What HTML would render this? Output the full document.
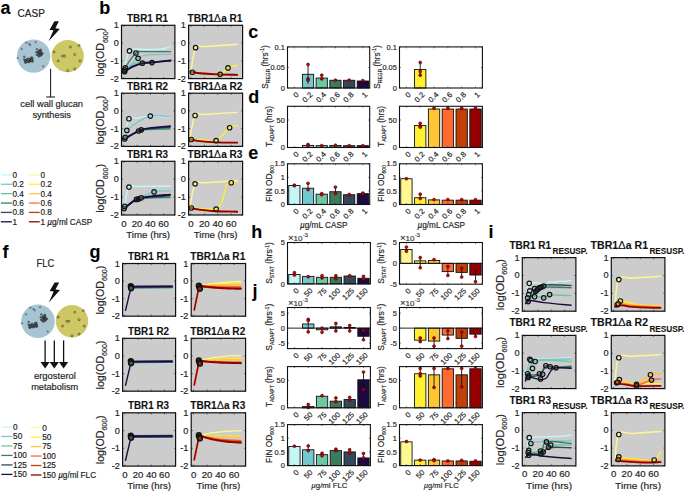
<!DOCTYPE html>
<html><head><meta charset="utf-8"><title>Figure</title>
<style>html,body{margin:0;padding:0;background:#fff;} body{width:685px;height:493px;overflow:hidden;font-family:"Liberation Sans", sans-serif;} svg{display:block;}</style>
</head><body>
<svg width="685" height="493" viewBox="0 0 685 493" font-family='"Liberation Sans", sans-serif' fill="#262626">
<style>text{stroke:#262626;stroke-width:0.18px;} text[font-weight=bold]{stroke-width:0.1px;}</style>
<rect x="121.50" y="25.30" width="53.40" height="53.30" fill="#cccccc" stroke="none" stroke-width="1"/>
<path d="M123.10,72.20 C124.26,68.37 127.11,55.01 129.51,50.88 C131.91,46.76 130.97,49.57 136.45,49.28 C141.93,49.00 153.80,49.76 159.95,49.28 C166.10,48.81 168.71,47.10 170.63,46.62" fill="none" stroke="#c4f6f6" stroke-width="1.38" stroke-linejoin="round" stroke-linecap="round"/>
<path d="M124.70,67.94 C126.72,65.25 132.65,55.94 135.92,53.02 C139.19,50.09 136.61,51.92 142.86,51.68 C149.11,51.44 165.63,51.68 170.63,51.68" fill="none" stroke="#3c7c5e" stroke-width="1.265" stroke-linejoin="round" stroke-linecap="round"/>
<path d="M124.70,70.61 C127.11,68.40 134.07,61.18 138.05,58.35 C142.04,55.52 141.00,55.60 146.87,54.88 C152.73,54.16 166.35,54.44 170.63,54.35" fill="none" stroke="#74c8d0" stroke-width="1.265" stroke-linejoin="round" stroke-linecap="round"/>
<path d="M124.70,71.14 C126.53,69.79 130.62,65.31 134.85,63.68 C139.08,62.05 141.76,62.56 148.20,62.08 C154.64,61.60 166.59,61.20 170.63,61.01" fill="none" stroke="#6cc8a0" stroke-width="1.265" stroke-linejoin="round" stroke-linecap="round"/>
<path d="M124.17,71.67 C125.61,70.81 128.91,68.41 132.18,66.87 C135.45,65.34 138.77,64.01 142.33,63.14 C145.88,62.28 146.84,62.51 151.94,62.08 C157.03,61.65 167.26,60.98 170.63,60.74" fill="none" stroke="#34485c" stroke-width="1.4949999999999999" stroke-linejoin="round" stroke-linecap="round"/>
<path d="M124.17,72.20 C125.61,71.24 128.91,68.46 132.18,66.87 C135.45,65.29 138.77,64.18 142.33,63.41 C145.88,62.64 146.84,63.14 151.94,62.61 C157.03,62.08 167.26,60.86 170.63,60.48" fill="none" stroke="#1e0a40" stroke-width="1.8399999999999999" stroke-linejoin="round" stroke-linecap="round"/>
<circle cx="125.24" cy="67.94" r="2.25" fill="#3c7c5e" fill-opacity="0.3"/>
<circle cx="125.24" cy="67.94" r="2.25" fill="none" stroke="#111" stroke-width="1.15"/>
<circle cx="124.70" cy="70.07" r="2.25" fill="#74c8d0" fill-opacity="0.3"/>
<circle cx="124.70" cy="70.07" r="2.25" fill="none" stroke="#111" stroke-width="1.15"/>
<circle cx="124.70" cy="71.67" r="2.25" fill="#1e0a40" fill-opacity="0.3"/>
<circle cx="124.70" cy="71.67" r="2.25" fill="none" stroke="#111" stroke-width="1.15"/>
<circle cx="129.51" cy="50.88" r="2.25" fill="#c4f6f6" fill-opacity="0.3"/>
<circle cx="129.51" cy="50.88" r="2.25" fill="none" stroke="#111" stroke-width="1.15"/>
<circle cx="135.92" cy="53.02" r="2.25" fill="#3c7c5e" fill-opacity="0.3"/>
<circle cx="135.92" cy="53.02" r="2.25" fill="none" stroke="#111" stroke-width="1.15"/>
<circle cx="138.05" cy="58.35" r="2.25" fill="#74c8d0" fill-opacity="0.3"/>
<circle cx="138.05" cy="58.35" r="2.25" fill="none" stroke="#111" stroke-width="1.15"/>
<circle cx="142.33" cy="63.14" r="2.25" fill="#34485c" fill-opacity="0.3"/>
<circle cx="142.33" cy="63.14" r="2.25" fill="none" stroke="#111" stroke-width="1.15"/>
<circle cx="151.94" cy="62.61" r="2.25" fill="#1e0a40" fill-opacity="0.3"/>
<circle cx="151.94" cy="62.61" r="2.25" fill="none" stroke="#111" stroke-width="1.15"/>
<line x1="121.50" y1="25.30" x2="123.10" y2="25.30" stroke="#222" stroke-width="0.6"/>
<line x1="173.30" y1="25.30" x2="174.90" y2="25.30" stroke="#222" stroke-width="0.6"/>
<line x1="121.50" y1="43.07" x2="123.10" y2="43.07" stroke="#222" stroke-width="0.6"/>
<line x1="173.30" y1="43.07" x2="174.90" y2="43.07" stroke="#222" stroke-width="0.6"/>
<line x1="121.50" y1="60.83" x2="123.10" y2="60.83" stroke="#222" stroke-width="0.6"/>
<line x1="173.30" y1="60.83" x2="174.90" y2="60.83" stroke="#222" stroke-width="0.6"/>
<line x1="121.50" y1="78.60" x2="123.10" y2="78.60" stroke="#222" stroke-width="0.6"/>
<line x1="173.30" y1="78.60" x2="174.90" y2="78.60" stroke="#222" stroke-width="0.6"/>
<line x1="123.82" y1="25.30" x2="123.82" y2="26.90" stroke="#222" stroke-width="0.6"/>
<line x1="123.82" y1="77.00" x2="123.82" y2="78.60" stroke="#222" stroke-width="0.6"/>
<line x1="137.09" y1="25.30" x2="137.09" y2="26.90" stroke="#222" stroke-width="0.6"/>
<line x1="137.09" y1="77.00" x2="137.09" y2="78.60" stroke="#222" stroke-width="0.6"/>
<line x1="150.36" y1="25.30" x2="150.36" y2="26.90" stroke="#222" stroke-width="0.6"/>
<line x1="150.36" y1="77.00" x2="150.36" y2="78.60" stroke="#222" stroke-width="0.6"/>
<line x1="163.62" y1="25.30" x2="163.62" y2="26.90" stroke="#222" stroke-width="0.6"/>
<line x1="163.62" y1="77.00" x2="163.62" y2="78.60" stroke="#222" stroke-width="0.6"/>
<rect x="121.50" y="25.30" width="53.40" height="53.30" fill="none" stroke="#111" stroke-width="1.2"/>
<text x="0" y="0" transform="translate(118.80,28.30) scale(1.1,1)" font-size="8.4" text-anchor="end">1</text>
<text x="0" y="0" transform="translate(118.80,46.07) scale(1.1,1)" font-size="8.4" text-anchor="end">0</text>
<text x="0" y="0" transform="translate(118.80,63.83) scale(1.1,1)" font-size="8.4" text-anchor="end">-1</text>
<text x="0" y="0" transform="translate(118.80,81.60) scale(1.1,1)" font-size="8.4" text-anchor="end">-2</text>
<text x="147.60" y="21.80" font-size="10.2" font-weight="bold" text-anchor="middle" fill="#111" textLength="41.0" lengthAdjust="spacingAndGlyphs">TBR1 R1</text>
<rect x="188.60" y="25.30" width="54.00" height="53.30" fill="#cccccc" stroke="none" stroke-width="1"/>
<path d="M190.76,73.27 C191.63,68.66 193.09,52.48 195.62,47.69 C198.15,42.89 197.32,47.24 204.80,46.62 C212.28,46.00 231.37,44.65 237.20,44.22" fill="none" stroke="#fff890" stroke-width="1.38" stroke-linejoin="round" stroke-linecap="round"/>
<path d="M192.38,72.20 C194.62,72.49 199.79,73.42 204.80,73.80 C209.81,74.19 216.01,75.39 220.19,74.34 C224.37,73.28 224.96,69.57 228.02,67.94 C231.08,66.31 235.55,65.75 237.20,65.27" fill="none" stroke="#fff030" stroke-width="1.38" stroke-linejoin="round" stroke-linecap="round"/>
<path d="M190.76,71.67 C192.32,71.91 194.93,72.57 199.40,73.00 C203.87,73.44 208.80,73.78 215.60,74.07 C222.40,74.36 233.31,74.51 237.20,74.60" fill="none" stroke="#ff6a30" stroke-width="1.38" stroke-linejoin="round" stroke-linecap="round"/>
<path d="M190.76,71.67 C192.32,71.96 194.93,72.79 199.40,73.27 C203.87,73.75 208.80,74.05 215.60,74.34 C222.40,74.62 233.31,74.77 237.20,74.87" fill="none" stroke="#940000" stroke-width="1.8399999999999999" stroke-linejoin="round" stroke-linecap="round"/>
<circle cx="192.38" cy="72.20" r="2.25" fill="#fff030" fill-opacity="0.3"/>
<circle cx="192.38" cy="72.20" r="2.25" fill="none" stroke="#111" stroke-width="1.15"/>
<circle cx="195.62" cy="47.69" r="2.25" fill="#fff890" fill-opacity="0.3"/>
<circle cx="195.62" cy="47.69" r="2.25" fill="none" stroke="#111" stroke-width="1.15"/>
<circle cx="220.19" cy="74.34" r="2.25" fill="#fff030" fill-opacity="0.3"/>
<circle cx="220.19" cy="74.34" r="2.25" fill="none" stroke="#111" stroke-width="1.15"/>
<circle cx="228.02" cy="67.94" r="2.25" fill="#fff030" fill-opacity="0.3"/>
<circle cx="228.02" cy="67.94" r="2.25" fill="none" stroke="#111" stroke-width="1.15"/>
<line x1="188.60" y1="25.30" x2="190.20" y2="25.30" stroke="#222" stroke-width="0.6"/>
<line x1="241.00" y1="25.30" x2="242.60" y2="25.30" stroke="#222" stroke-width="0.6"/>
<line x1="188.60" y1="43.07" x2="190.20" y2="43.07" stroke="#222" stroke-width="0.6"/>
<line x1="241.00" y1="43.07" x2="242.60" y2="43.07" stroke="#222" stroke-width="0.6"/>
<line x1="188.60" y1="60.83" x2="190.20" y2="60.83" stroke="#222" stroke-width="0.6"/>
<line x1="241.00" y1="60.83" x2="242.60" y2="60.83" stroke="#222" stroke-width="0.6"/>
<line x1="188.60" y1="78.60" x2="190.20" y2="78.60" stroke="#222" stroke-width="0.6"/>
<line x1="241.00" y1="78.60" x2="242.60" y2="78.60" stroke="#222" stroke-width="0.6"/>
<line x1="190.95" y1="25.30" x2="190.95" y2="26.90" stroke="#222" stroke-width="0.6"/>
<line x1="190.95" y1="77.00" x2="190.95" y2="78.60" stroke="#222" stroke-width="0.6"/>
<line x1="204.36" y1="25.30" x2="204.36" y2="26.90" stroke="#222" stroke-width="0.6"/>
<line x1="204.36" y1="77.00" x2="204.36" y2="78.60" stroke="#222" stroke-width="0.6"/>
<line x1="217.78" y1="25.30" x2="217.78" y2="26.90" stroke="#222" stroke-width="0.6"/>
<line x1="217.78" y1="77.00" x2="217.78" y2="78.60" stroke="#222" stroke-width="0.6"/>
<line x1="231.20" y1="25.30" x2="231.20" y2="26.90" stroke="#222" stroke-width="0.6"/>
<line x1="231.20" y1="77.00" x2="231.20" y2="78.60" stroke="#222" stroke-width="0.6"/>
<rect x="188.60" y="25.30" width="54.00" height="53.30" fill="none" stroke="#111" stroke-width="1.2"/>
<text x="0" y="0" transform="translate(185.90,28.30) scale(1.1,1)" font-size="8.4" text-anchor="end">1</text>
<text x="0" y="0" transform="translate(185.90,46.07) scale(1.1,1)" font-size="8.4" text-anchor="end">0</text>
<text x="0" y="0" transform="translate(185.90,63.83) scale(1.1,1)" font-size="8.4" text-anchor="end">-1</text>
<text x="0" y="0" transform="translate(185.90,81.60) scale(1.1,1)" font-size="8.4" text-anchor="end">-2</text>
<text x="215.00" y="21.80" font-size="10.2" font-weight="bold" text-anchor="middle" fill="#111" textLength="55.0" lengthAdjust="spacingAndGlyphs"><tspan>TBR1</tspan><tspan font-size="11" font-weight="normal">Δ</tspan><tspan>a R1</tspan></text>
<text x="0" y="0" transform="translate(104.40,52.25) rotate(-90)" font-size="10.6" text-anchor="middle"><tspan>log(OD</tspan><tspan font-size="7.0" dy="3.2">600</tspan><tspan dy="-3.2">)</tspan></text>
<rect x="121.50" y="93.20" width="53.40" height="53.20" fill="#cccccc" stroke="none" stroke-width="1"/>
<path d="M124.17,138.42 C125.04,134.88 126.77,122.37 128.98,118.74 C131.19,115.10 132.61,118.68 136.45,118.20 C140.30,117.73 144.28,116.27 150.34,116.08 C156.39,115.88 166.54,116.95 170.09,117.14" fill="none" stroke="#c4f6f6" stroke-width="1.38" stroke-linejoin="round" stroke-linecap="round"/>
<path d="M126.84,130.44 C128.57,129.10 132.22,125.58 136.45,122.99 C140.68,120.41 144.28,117.23 150.34,116.08 C156.39,114.93 166.54,116.51 170.09,116.61" fill="none" stroke="#74c8d0" stroke-width="1.265" stroke-linejoin="round" stroke-linecap="round"/>
<path d="M124.17,139.48 C126.77,138.05 134.26,133.23 138.59,131.50 C142.91,129.78 142.53,130.39 148.20,129.91 C153.87,129.43 166.15,129.04 170.09,128.84" fill="none" stroke="#6cc8a0" stroke-width="1.265" stroke-linejoin="round" stroke-linecap="round"/>
<path d="M124.17,139.48 C126.77,137.95 134.26,132.79 138.59,130.97 C142.91,129.15 142.53,129.76 148.20,129.38 C153.87,128.99 166.15,128.94 170.09,128.84" fill="none" stroke="#3c7c5e" stroke-width="1.38" stroke-linejoin="round" stroke-linecap="round"/>
<path d="M124.17,139.48 C126.77,137.95 134.26,132.89 138.59,130.97 C142.91,129.06 142.53,129.51 148.20,128.84 C153.87,128.17 166.15,127.54 170.09,127.25" fill="none" stroke="#34485c" stroke-width="1.38" stroke-linejoin="round" stroke-linecap="round"/>
<path d="M124.17,138.95 C126.77,137.52 134.26,132.89 138.59,130.97 C142.91,129.06 142.53,129.17 148.20,128.31 C153.87,127.45 166.15,126.57 170.09,126.18" fill="none" stroke="#1e0a40" stroke-width="1.8399999999999999" stroke-linejoin="round" stroke-linecap="round"/>
<circle cx="124.70" cy="138.95" r="2.25" fill="#3c7c5e" fill-opacity="0.3"/>
<circle cx="124.70" cy="138.95" r="2.25" fill="none" stroke="#111" stroke-width="1.15"/>
<circle cx="125.24" cy="137.36" r="2.25" fill="#c4f6f6" fill-opacity="0.3"/>
<circle cx="125.24" cy="137.36" r="2.25" fill="none" stroke="#111" stroke-width="1.15"/>
<circle cx="126.84" cy="130.44" r="2.25" fill="#74c8d0" fill-opacity="0.3"/>
<circle cx="126.84" cy="130.44" r="2.25" fill="none" stroke="#111" stroke-width="1.15"/>
<circle cx="128.98" cy="118.74" r="2.25" fill="#c4f6f6" fill-opacity="0.3"/>
<circle cx="128.98" cy="118.74" r="2.25" fill="none" stroke="#111" stroke-width="1.15"/>
<circle cx="138.59" cy="130.97" r="2.25" fill="#3c7c5e" fill-opacity="0.3"/>
<circle cx="138.59" cy="130.97" r="2.25" fill="none" stroke="#111" stroke-width="1.15"/>
<circle cx="141.26" cy="129.91" r="2.25" fill="#1e0a40" fill-opacity="0.3"/>
<circle cx="141.26" cy="129.91" r="2.25" fill="none" stroke="#111" stroke-width="1.15"/>
<circle cx="150.34" cy="116.08" r="2.25" fill="#c4f6f6" fill-opacity="0.3"/>
<circle cx="150.34" cy="116.08" r="2.25" fill="none" stroke="#111" stroke-width="1.15"/>
<line x1="121.50" y1="93.20" x2="123.10" y2="93.20" stroke="#222" stroke-width="0.6"/>
<line x1="173.30" y1="93.20" x2="174.90" y2="93.20" stroke="#222" stroke-width="0.6"/>
<line x1="121.50" y1="110.93" x2="123.10" y2="110.93" stroke="#222" stroke-width="0.6"/>
<line x1="173.30" y1="110.93" x2="174.90" y2="110.93" stroke="#222" stroke-width="0.6"/>
<line x1="121.50" y1="128.67" x2="123.10" y2="128.67" stroke="#222" stroke-width="0.6"/>
<line x1="173.30" y1="128.67" x2="174.90" y2="128.67" stroke="#222" stroke-width="0.6"/>
<line x1="121.50" y1="146.40" x2="123.10" y2="146.40" stroke="#222" stroke-width="0.6"/>
<line x1="173.30" y1="146.40" x2="174.90" y2="146.40" stroke="#222" stroke-width="0.6"/>
<line x1="123.82" y1="93.20" x2="123.82" y2="94.80" stroke="#222" stroke-width="0.6"/>
<line x1="123.82" y1="144.80" x2="123.82" y2="146.40" stroke="#222" stroke-width="0.6"/>
<line x1="137.09" y1="93.20" x2="137.09" y2="94.80" stroke="#222" stroke-width="0.6"/>
<line x1="137.09" y1="144.80" x2="137.09" y2="146.40" stroke="#222" stroke-width="0.6"/>
<line x1="150.36" y1="93.20" x2="150.36" y2="94.80" stroke="#222" stroke-width="0.6"/>
<line x1="150.36" y1="144.80" x2="150.36" y2="146.40" stroke="#222" stroke-width="0.6"/>
<line x1="163.62" y1="93.20" x2="163.62" y2="94.80" stroke="#222" stroke-width="0.6"/>
<line x1="163.62" y1="144.80" x2="163.62" y2="146.40" stroke="#222" stroke-width="0.6"/>
<rect x="121.50" y="93.20" width="53.40" height="53.20" fill="none" stroke="#111" stroke-width="1.2"/>
<text x="0" y="0" transform="translate(118.80,96.20) scale(1.1,1)" font-size="8.4" text-anchor="end">1</text>
<text x="0" y="0" transform="translate(118.80,113.93) scale(1.1,1)" font-size="8.4" text-anchor="end">0</text>
<text x="0" y="0" transform="translate(118.80,131.67) scale(1.1,1)" font-size="8.4" text-anchor="end">-1</text>
<text x="0" y="0" transform="translate(118.80,149.40) scale(1.1,1)" font-size="8.4" text-anchor="end">-2</text>
<text x="147.60" y="89.70" font-size="10.2" font-weight="bold" text-anchor="middle" fill="#111" textLength="41.0" lengthAdjust="spacingAndGlyphs">TBR1 R2</text>
<rect x="188.60" y="93.20" width="54.00" height="53.20" fill="#cccccc" stroke="none" stroke-width="1"/>
<path d="M189.68,140.02 C190.65,135.61 192.36,120.14 195.08,115.54 C197.80,110.95 197.22,115.05 204.80,114.48 C212.38,113.91 231.37,112.74 237.20,112.35" fill="none" stroke="#fff890" stroke-width="1.38" stroke-linejoin="round" stroke-linecap="round"/>
<path d="M191.30,139.48 C193.73,139.58 200.33,139.82 204.80,140.02 C209.27,140.21 211.67,142.75 216.14,140.55 C220.61,138.35 225.85,130.46 229.64,127.78 C233.43,125.10 235.84,126.04 237.20,125.65" fill="none" stroke="#fff030" stroke-width="1.38" stroke-linejoin="round" stroke-linecap="round"/>
<path d="M190.76,138.95 C192.32,139.34 194.93,140.51 199.40,141.08 C203.87,141.65 208.80,141.86 215.60,142.14 C222.40,142.43 233.31,142.58 237.20,142.68" fill="none" stroke="#ff6a30" stroke-width="1.38" stroke-linejoin="round" stroke-linecap="round"/>
<path d="M190.76,139.48 C192.32,139.77 194.93,140.55 199.40,141.08 C203.87,141.61 208.80,142.12 215.60,142.41 C222.40,142.70 233.31,142.63 237.20,142.68" fill="none" stroke="#940000" stroke-width="1.8399999999999999" stroke-linejoin="round" stroke-linecap="round"/>
<circle cx="191.30" cy="139.48" r="2.25" fill="#fff030" fill-opacity="0.3"/>
<circle cx="191.30" cy="139.48" r="2.25" fill="none" stroke="#111" stroke-width="1.15"/>
<circle cx="195.08" cy="115.54" r="2.25" fill="#fff890" fill-opacity="0.3"/>
<circle cx="195.08" cy="115.54" r="2.25" fill="none" stroke="#111" stroke-width="1.15"/>
<circle cx="216.14" cy="140.55" r="2.25" fill="#fff030" fill-opacity="0.3"/>
<circle cx="216.14" cy="140.55" r="2.25" fill="none" stroke="#111" stroke-width="1.15"/>
<circle cx="229.64" cy="127.78" r="2.25" fill="#fff030" fill-opacity="0.3"/>
<circle cx="229.64" cy="127.78" r="2.25" fill="none" stroke="#111" stroke-width="1.15"/>
<line x1="188.60" y1="93.20" x2="190.20" y2="93.20" stroke="#222" stroke-width="0.6"/>
<line x1="241.00" y1="93.20" x2="242.60" y2="93.20" stroke="#222" stroke-width="0.6"/>
<line x1="188.60" y1="110.93" x2="190.20" y2="110.93" stroke="#222" stroke-width="0.6"/>
<line x1="241.00" y1="110.93" x2="242.60" y2="110.93" stroke="#222" stroke-width="0.6"/>
<line x1="188.60" y1="128.67" x2="190.20" y2="128.67" stroke="#222" stroke-width="0.6"/>
<line x1="241.00" y1="128.67" x2="242.60" y2="128.67" stroke="#222" stroke-width="0.6"/>
<line x1="188.60" y1="146.40" x2="190.20" y2="146.40" stroke="#222" stroke-width="0.6"/>
<line x1="241.00" y1="146.40" x2="242.60" y2="146.40" stroke="#222" stroke-width="0.6"/>
<line x1="190.95" y1="93.20" x2="190.95" y2="94.80" stroke="#222" stroke-width="0.6"/>
<line x1="190.95" y1="144.80" x2="190.95" y2="146.40" stroke="#222" stroke-width="0.6"/>
<line x1="204.36" y1="93.20" x2="204.36" y2="94.80" stroke="#222" stroke-width="0.6"/>
<line x1="204.36" y1="144.80" x2="204.36" y2="146.40" stroke="#222" stroke-width="0.6"/>
<line x1="217.78" y1="93.20" x2="217.78" y2="94.80" stroke="#222" stroke-width="0.6"/>
<line x1="217.78" y1="144.80" x2="217.78" y2="146.40" stroke="#222" stroke-width="0.6"/>
<line x1="231.20" y1="93.20" x2="231.20" y2="94.80" stroke="#222" stroke-width="0.6"/>
<line x1="231.20" y1="144.80" x2="231.20" y2="146.40" stroke="#222" stroke-width="0.6"/>
<rect x="188.60" y="93.20" width="54.00" height="53.20" fill="none" stroke="#111" stroke-width="1.2"/>
<text x="0" y="0" transform="translate(185.90,96.20) scale(1.1,1)" font-size="8.4" text-anchor="end">1</text>
<text x="0" y="0" transform="translate(185.90,113.93) scale(1.1,1)" font-size="8.4" text-anchor="end">0</text>
<text x="0" y="0" transform="translate(185.90,131.67) scale(1.1,1)" font-size="8.4" text-anchor="end">-1</text>
<text x="0" y="0" transform="translate(185.90,149.40) scale(1.1,1)" font-size="8.4" text-anchor="end">-2</text>
<text x="215.00" y="89.70" font-size="10.2" font-weight="bold" text-anchor="middle" fill="#111" textLength="55.0" lengthAdjust="spacingAndGlyphs"><tspan>TBR1</tspan><tspan font-size="11" font-weight="normal">Δ</tspan><tspan>a R2</tspan></text>
<text x="0" y="0" transform="translate(104.40,120.10) rotate(-90)" font-size="10.6" text-anchor="middle"><tspan>log(OD</tspan><tspan font-size="7.0" dy="3.2">600</tspan><tspan dy="-3.2">)</tspan></text>
<rect x="121.50" y="161.30" width="53.40" height="53.70" fill="#cccccc" stroke="none" stroke-width="1"/>
<path d="M124.70,205.33 C125.47,202.05 126.67,190.46 128.98,187.08 C131.28,183.69 130.12,186.73 137.52,186.54 C144.92,186.35 164.23,186.10 170.09,186.00" fill="none" stroke="#c4f6f6" stroke-width="1.38" stroke-linejoin="round" stroke-linecap="round"/>
<path d="M124.70,206.41 C127.01,205.05 132.23,201.50 137.52,198.89 C142.81,196.28 148.21,193.36 154.07,191.91 C159.94,190.46 167.21,191.03 170.09,190.84" fill="none" stroke="#74c8d0" stroke-width="1.265" stroke-linejoin="round" stroke-linecap="round"/>
<path d="M124.17,208.56 C126.38,207.01 132.13,201.80 136.45,199.96 C140.78,198.13 142.14,198.74 148.20,198.35 C154.26,197.97 166.15,197.91 170.09,197.82" fill="none" stroke="#6cc8a0" stroke-width="1.265" stroke-linejoin="round" stroke-linecap="round"/>
<path d="M124.17,208.56 C126.38,207.01 132.13,201.90 136.45,199.96 C140.78,198.03 142.14,198.30 148.20,197.82 C154.26,197.33 166.15,197.38 170.09,197.28" fill="none" stroke="#3c7c5e" stroke-width="1.38" stroke-linejoin="round" stroke-linecap="round"/>
<path d="M124.17,208.56 C126.38,206.91 132.13,201.46 136.45,199.43 C140.78,197.40 142.14,197.96 148.20,197.28 C154.26,196.60 166.15,195.96 170.09,195.67" fill="none" stroke="#34485c" stroke-width="1.38" stroke-linejoin="round" stroke-linecap="round"/>
<path d="M124.17,208.56 C126.38,206.91 132.13,201.55 136.45,199.43 C140.78,197.30 142.14,197.61 148.20,196.74 C154.26,195.87 166.15,194.98 170.09,194.59" fill="none" stroke="#1e0a40" stroke-width="1.8399999999999999" stroke-linejoin="round" stroke-linecap="round"/>
<circle cx="124.17" cy="208.56" r="2.25" fill="#6cc8a0" fill-opacity="0.3"/>
<circle cx="124.17" cy="208.56" r="2.25" fill="none" stroke="#111" stroke-width="1.15"/>
<circle cx="124.70" cy="206.41" r="2.25" fill="#74c8d0" fill-opacity="0.3"/>
<circle cx="124.70" cy="206.41" r="2.25" fill="none" stroke="#111" stroke-width="1.15"/>
<circle cx="136.45" cy="199.43" r="2.25" fill="#34485c" fill-opacity="0.3"/>
<circle cx="136.45" cy="199.43" r="2.25" fill="none" stroke="#111" stroke-width="1.15"/>
<circle cx="138.59" cy="198.89" r="2.25" fill="#1e0a40" fill-opacity="0.3"/>
<circle cx="138.59" cy="198.89" r="2.25" fill="none" stroke="#111" stroke-width="1.15"/>
<circle cx="141.26" cy="197.82" r="2.25" fill="#74c8d0" fill-opacity="0.3"/>
<circle cx="141.26" cy="197.82" r="2.25" fill="none" stroke="#111" stroke-width="1.15"/>
<circle cx="128.98" cy="187.08" r="2.25" fill="#c4f6f6" fill-opacity="0.3"/>
<circle cx="128.98" cy="187.08" r="2.25" fill="none" stroke="#111" stroke-width="1.15"/>
<circle cx="154.07" cy="191.91" r="2.25" fill="#74c8d0" fill-opacity="0.3"/>
<circle cx="154.07" cy="191.91" r="2.25" fill="none" stroke="#111" stroke-width="1.15"/>
<line x1="121.50" y1="161.30" x2="123.10" y2="161.30" stroke="#222" stroke-width="0.6"/>
<line x1="173.30" y1="161.30" x2="174.90" y2="161.30" stroke="#222" stroke-width="0.6"/>
<line x1="121.50" y1="179.20" x2="123.10" y2="179.20" stroke="#222" stroke-width="0.6"/>
<line x1="173.30" y1="179.20" x2="174.90" y2="179.20" stroke="#222" stroke-width="0.6"/>
<line x1="121.50" y1="197.10" x2="123.10" y2="197.10" stroke="#222" stroke-width="0.6"/>
<line x1="173.30" y1="197.10" x2="174.90" y2="197.10" stroke="#222" stroke-width="0.6"/>
<line x1="121.50" y1="215.00" x2="123.10" y2="215.00" stroke="#222" stroke-width="0.6"/>
<line x1="173.30" y1="215.00" x2="174.90" y2="215.00" stroke="#222" stroke-width="0.6"/>
<line x1="123.82" y1="161.30" x2="123.82" y2="162.90" stroke="#222" stroke-width="0.6"/>
<line x1="123.82" y1="213.40" x2="123.82" y2="215.00" stroke="#222" stroke-width="0.6"/>
<line x1="137.09" y1="161.30" x2="137.09" y2="162.90" stroke="#222" stroke-width="0.6"/>
<line x1="137.09" y1="213.40" x2="137.09" y2="215.00" stroke="#222" stroke-width="0.6"/>
<line x1="150.36" y1="161.30" x2="150.36" y2="162.90" stroke="#222" stroke-width="0.6"/>
<line x1="150.36" y1="213.40" x2="150.36" y2="215.00" stroke="#222" stroke-width="0.6"/>
<line x1="163.62" y1="161.30" x2="163.62" y2="162.90" stroke="#222" stroke-width="0.6"/>
<line x1="163.62" y1="213.40" x2="163.62" y2="215.00" stroke="#222" stroke-width="0.6"/>
<rect x="121.50" y="161.30" width="53.40" height="53.70" fill="none" stroke="#111" stroke-width="1.2"/>
<text x="0" y="0" transform="translate(118.80,164.30) scale(1.1,1)" font-size="8.4" text-anchor="end">1</text>
<text x="0" y="0" transform="translate(118.80,182.20) scale(1.1,1)" font-size="8.4" text-anchor="end">0</text>
<text x="0" y="0" transform="translate(118.80,200.10) scale(1.1,1)" font-size="8.4" text-anchor="end">-1</text>
<text x="0" y="0" transform="translate(118.80,218.00) scale(1.1,1)" font-size="8.4" text-anchor="end">-2</text>
<text x="0" y="0" transform="translate(123.82,226.60) scale(1.16,1)" font-size="8.3" text-anchor="middle">0</text>
<text x="0" y="0" transform="translate(137.09,226.60) scale(1.16,1)" font-size="8.3" text-anchor="middle">20</text>
<text x="0" y="0" transform="translate(150.36,226.60) scale(1.16,1)" font-size="8.3" text-anchor="middle">40</text>
<text x="0" y="0" transform="translate(163.62,226.60) scale(1.16,1)" font-size="8.3" text-anchor="middle">60</text>
<text x="148.20" y="237.80" font-size="9.4" text-anchor="middle" textLength="43.8" lengthAdjust="spacingAndGlyphs">Time (hrs)</text>
<text x="147.60" y="157.80" font-size="10.2" font-weight="bold" text-anchor="middle" fill="#111" textLength="41.0" lengthAdjust="spacingAndGlyphs">TBR1 R3</text>
<rect x="188.60" y="161.30" width="54.00" height="53.70" fill="#cccccc" stroke="none" stroke-width="1"/>
<path d="M189.68,209.09 C190.65,204.55 192.36,188.59 195.08,183.85 C197.80,179.12 197.22,183.36 204.80,182.78 C212.38,182.20 231.37,181.02 237.20,180.63" fill="none" stroke="#fff890" stroke-width="1.38" stroke-linejoin="round" stroke-linecap="round"/>
<path d="M191.30,208.02 C193.73,208.12 200.33,208.36 204.80,208.56 C209.27,208.75 213.03,210.35 216.14,209.09 C219.25,207.84 220.23,205.83 222.08,201.57 C223.93,197.32 224.75,188.85 226.40,185.47 C228.05,182.08 229.32,183.46 231.26,182.78 C233.20,182.10 236.13,181.90 237.20,181.71" fill="none" stroke="#fff030" stroke-width="1.38" stroke-linejoin="round" stroke-linecap="round"/>
<path d="M190.76,207.48 C192.32,207.87 194.93,209.00 199.40,209.63 C203.87,210.26 208.80,210.63 215.60,210.97 C222.40,211.31 233.31,211.41 237.20,211.51" fill="none" stroke="#ff6a30" stroke-width="1.38" stroke-linejoin="round" stroke-linecap="round"/>
<path d="M190.76,208.02 C192.32,208.31 194.93,209.05 199.40,209.63 C203.87,210.21 208.80,210.85 215.60,211.24 C222.40,211.63 233.31,211.68 237.20,211.78" fill="none" stroke="#940000" stroke-width="1.8399999999999999" stroke-linejoin="round" stroke-linecap="round"/>
<circle cx="191.30" cy="208.02" r="2.25" fill="#fff030" fill-opacity="0.3"/>
<circle cx="191.30" cy="208.02" r="2.25" fill="none" stroke="#111" stroke-width="1.15"/>
<circle cx="195.08" cy="183.85" r="2.25" fill="#fff890" fill-opacity="0.3"/>
<circle cx="195.08" cy="183.85" r="2.25" fill="none" stroke="#111" stroke-width="1.15"/>
<circle cx="216.14" cy="209.09" r="2.25" fill="#fff030" fill-opacity="0.3"/>
<circle cx="216.14" cy="209.09" r="2.25" fill="none" stroke="#111" stroke-width="1.15"/>
<circle cx="231.26" cy="182.78" r="2.25" fill="#fff030" fill-opacity="0.3"/>
<circle cx="231.26" cy="182.78" r="2.25" fill="none" stroke="#111" stroke-width="1.15"/>
<line x1="188.60" y1="161.30" x2="190.20" y2="161.30" stroke="#222" stroke-width="0.6"/>
<line x1="241.00" y1="161.30" x2="242.60" y2="161.30" stroke="#222" stroke-width="0.6"/>
<line x1="188.60" y1="179.20" x2="190.20" y2="179.20" stroke="#222" stroke-width="0.6"/>
<line x1="241.00" y1="179.20" x2="242.60" y2="179.20" stroke="#222" stroke-width="0.6"/>
<line x1="188.60" y1="197.10" x2="190.20" y2="197.10" stroke="#222" stroke-width="0.6"/>
<line x1="241.00" y1="197.10" x2="242.60" y2="197.10" stroke="#222" stroke-width="0.6"/>
<line x1="188.60" y1="215.00" x2="190.20" y2="215.00" stroke="#222" stroke-width="0.6"/>
<line x1="241.00" y1="215.00" x2="242.60" y2="215.00" stroke="#222" stroke-width="0.6"/>
<line x1="190.95" y1="161.30" x2="190.95" y2="162.90" stroke="#222" stroke-width="0.6"/>
<line x1="190.95" y1="213.40" x2="190.95" y2="215.00" stroke="#222" stroke-width="0.6"/>
<line x1="204.36" y1="161.30" x2="204.36" y2="162.90" stroke="#222" stroke-width="0.6"/>
<line x1="204.36" y1="213.40" x2="204.36" y2="215.00" stroke="#222" stroke-width="0.6"/>
<line x1="217.78" y1="161.30" x2="217.78" y2="162.90" stroke="#222" stroke-width="0.6"/>
<line x1="217.78" y1="213.40" x2="217.78" y2="215.00" stroke="#222" stroke-width="0.6"/>
<line x1="231.20" y1="161.30" x2="231.20" y2="162.90" stroke="#222" stroke-width="0.6"/>
<line x1="231.20" y1="213.40" x2="231.20" y2="215.00" stroke="#222" stroke-width="0.6"/>
<rect x="188.60" y="161.30" width="54.00" height="53.70" fill="none" stroke="#111" stroke-width="1.2"/>
<text x="0" y="0" transform="translate(185.90,164.30) scale(1.1,1)" font-size="8.4" text-anchor="end">1</text>
<text x="0" y="0" transform="translate(185.90,182.20) scale(1.1,1)" font-size="8.4" text-anchor="end">0</text>
<text x="0" y="0" transform="translate(185.90,200.10) scale(1.1,1)" font-size="8.4" text-anchor="end">-1</text>
<text x="0" y="0" transform="translate(185.90,218.00) scale(1.1,1)" font-size="8.4" text-anchor="end">-2</text>
<text x="0" y="0" transform="translate(190.95,226.60) scale(1.16,1)" font-size="8.3" text-anchor="middle">0</text>
<text x="0" y="0" transform="translate(204.36,226.60) scale(1.16,1)" font-size="8.3" text-anchor="middle">20</text>
<text x="0" y="0" transform="translate(217.78,226.60) scale(1.16,1)" font-size="8.3" text-anchor="middle">40</text>
<text x="0" y="0" transform="translate(231.20,226.60) scale(1.16,1)" font-size="8.3" text-anchor="middle">60</text>
<text x="215.60" y="237.80" font-size="9.4" text-anchor="middle" textLength="43.8" lengthAdjust="spacingAndGlyphs">Time (hrs)</text>
<text x="215.00" y="157.80" font-size="10.2" font-weight="bold" text-anchor="middle" fill="#111" textLength="55.0" lengthAdjust="spacingAndGlyphs"><tspan>TBR1</tspan><tspan font-size="11" font-weight="normal">Δ</tspan><tspan>a R3</tspan></text>
<text x="0" y="0" transform="translate(104.40,188.45) rotate(-90)" font-size="10.6" text-anchor="middle"><tspan>log(OD</tspan><tspan font-size="7.0" dy="3.2">600</tspan><tspan dy="-3.2">)</tspan></text>
<rect x="122.60" y="263.50" width="53.00" height="52.70" fill="#cccccc" stroke="none" stroke-width="1"/>
<polyline points="125.52,310.40 131.08,287.21" fill="none" stroke="#1e0a40" stroke-width="1.38" stroke-linejoin="round" stroke-linecap="round"/>
<polyline points="131.08,288.27 171.89,288.01" fill="none" stroke="#c4f6f6" stroke-width="1.38" stroke-linejoin="round" stroke-linecap="round"/>
<polyline points="131.08,287.74 171.89,287.48" fill="none" stroke="#74c8d0" stroke-width="1.38" stroke-linejoin="round" stroke-linecap="round"/>
<polyline points="131.08,287.21 171.89,286.95" fill="none" stroke="#3c7c5e" stroke-width="1.6099999999999999" stroke-linejoin="round" stroke-linecap="round"/>
<polyline points="131.08,286.95 171.89,286.69" fill="none" stroke="#34485c" stroke-width="2.875" stroke-linejoin="round" stroke-linecap="round"/>
<polyline points="131.08,286.69 171.89,286.42" fill="none" stroke="#1e0a40" stroke-width="1.38" stroke-linejoin="round" stroke-linecap="round"/>
<circle cx="131.08" cy="287.21" r="2.40" fill="#1e0a40" fill-opacity="0.3"/>
<circle cx="131.08" cy="287.21" r="2.40" fill="none" stroke="#111" stroke-width="1.5"/>
<circle cx="130.81" cy="286.16" r="2.40" fill="#1e0a40" fill-opacity="0.3"/>
<circle cx="130.81" cy="286.16" r="2.40" fill="none" stroke="#111" stroke-width="1.5"/>
<circle cx="131.08" cy="288.27" r="2.40" fill="#c4f6f6" fill-opacity="0.3"/>
<circle cx="131.08" cy="288.27" r="2.40" fill="none" stroke="#111" stroke-width="1.5"/>
<line x1="122.60" y1="263.50" x2="124.20" y2="263.50" stroke="#222" stroke-width="0.6"/>
<line x1="174.00" y1="263.50" x2="175.60" y2="263.50" stroke="#222" stroke-width="0.6"/>
<line x1="122.60" y1="281.07" x2="124.20" y2="281.07" stroke="#222" stroke-width="0.6"/>
<line x1="174.00" y1="281.07" x2="175.60" y2="281.07" stroke="#222" stroke-width="0.6"/>
<line x1="122.60" y1="298.63" x2="124.20" y2="298.63" stroke="#222" stroke-width="0.6"/>
<line x1="174.00" y1="298.63" x2="175.60" y2="298.63" stroke="#222" stroke-width="0.6"/>
<line x1="122.60" y1="316.20" x2="124.20" y2="316.20" stroke="#222" stroke-width="0.6"/>
<line x1="174.00" y1="316.20" x2="175.60" y2="316.20" stroke="#222" stroke-width="0.6"/>
<line x1="124.90" y1="263.50" x2="124.90" y2="265.10" stroke="#222" stroke-width="0.6"/>
<line x1="124.90" y1="314.60" x2="124.90" y2="316.20" stroke="#222" stroke-width="0.6"/>
<line x1="138.07" y1="263.50" x2="138.07" y2="265.10" stroke="#222" stroke-width="0.6"/>
<line x1="138.07" y1="314.60" x2="138.07" y2="316.20" stroke="#222" stroke-width="0.6"/>
<line x1="151.24" y1="263.50" x2="151.24" y2="265.10" stroke="#222" stroke-width="0.6"/>
<line x1="151.24" y1="314.60" x2="151.24" y2="316.20" stroke="#222" stroke-width="0.6"/>
<line x1="164.41" y1="263.50" x2="164.41" y2="265.10" stroke="#222" stroke-width="0.6"/>
<line x1="164.41" y1="314.60" x2="164.41" y2="316.20" stroke="#222" stroke-width="0.6"/>
<rect x="122.60" y="263.50" width="53.00" height="52.70" fill="none" stroke="#111" stroke-width="1.2"/>
<text x="0" y="0" transform="translate(119.90,266.50) scale(1.1,1)" font-size="8.4" text-anchor="end">1</text>
<text x="0" y="0" transform="translate(119.90,284.07) scale(1.1,1)" font-size="8.4" text-anchor="end">0</text>
<text x="0" y="0" transform="translate(119.90,301.63) scale(1.1,1)" font-size="8.4" text-anchor="end">-1</text>
<text x="0" y="0" transform="translate(119.90,319.20) scale(1.1,1)" font-size="8.4" text-anchor="end">-2</text>
<text x="148.50" y="260.00" font-size="10.2" font-weight="bold" text-anchor="middle" fill="#111" textLength="41.0" lengthAdjust="spacingAndGlyphs">TBR1 R1</text>
<rect x="191.20" y="263.50" width="54.40" height="52.70" fill="#cccccc" stroke="none" stroke-width="1"/>
<polyline points="194.46,310.40 199.36,286.69" fill="none" stroke="#ff6a30" stroke-width="1.4949999999999999" stroke-linejoin="round" stroke-linecap="round"/>
<polyline points="194.19,309.88 199.09,286.16" fill="none" stroke="#940000" stroke-width="1.4949999999999999" stroke-linejoin="round" stroke-linecap="round"/>
<path d="M199.90,285.90 C200.52,285.75 202.09,285.33 203.31,285.05 C204.54,284.78 205.49,284.58 206.72,284.35 C207.95,284.12 208.90,283.96 210.13,283.77 C211.36,283.57 212.31,283.44 213.54,283.28 C214.77,283.12 215.72,283.01 216.95,282.87 C218.18,282.74 219.13,282.65 220.36,282.54 C221.59,282.43 222.54,282.35 223.77,282.26 C224.99,282.16 225.95,282.10 227.18,282.02 C228.40,281.94 229.36,281.89 230.59,281.83 C231.81,281.76 232.77,281.72 233.99,281.67 C235.22,281.61 236.18,281.57 237.40,281.53 C238.63,281.49 240.20,281.44 240.81,281.42" fill="none" stroke="#fff890" stroke-width="1.265" stroke-linejoin="round" stroke-linecap="round"/>
<path d="M199.90,285.90 C200.52,285.80 202.09,285.53 203.31,285.35 C204.54,285.17 205.49,285.05 206.72,284.90 C207.95,284.75 208.90,284.64 210.13,284.52 C211.36,284.39 212.31,284.31 213.54,284.20 C214.77,284.10 215.72,284.03 216.95,283.94 C218.18,283.85 219.13,283.79 220.36,283.72 C221.59,283.65 222.54,283.60 223.77,283.54 C224.99,283.48 225.95,283.44 227.18,283.39 C228.40,283.34 229.36,283.31 230.59,283.26 C231.81,283.22 232.77,283.19 233.99,283.16 C235.22,283.12 236.18,283.10 237.40,283.07 C238.63,283.04 240.20,283.01 240.81,283.00" fill="none" stroke="#fff030" stroke-width="1.265" stroke-linejoin="round" stroke-linecap="round"/>
<path d="M199.90,285.90 C200.52,285.85 202.09,285.73 203.31,285.65 C204.54,285.57 205.49,285.51 206.72,285.44 C207.95,285.37 208.90,285.33 210.13,285.27 C211.36,285.21 212.31,285.17 213.54,285.13 C214.77,285.08 215.72,285.05 216.95,285.01 C218.18,284.97 219.13,284.94 220.36,284.91 C221.59,284.88 222.54,284.85 223.77,284.83 C224.99,284.80 225.95,284.78 227.18,284.76 C228.40,284.73 229.36,284.72 230.59,284.70 C231.81,284.68 232.77,284.67 233.99,284.65 C235.22,284.64 236.18,284.63 237.40,284.61 C238.63,284.60 240.20,284.59 240.81,284.58" fill="none" stroke="#ffc634" stroke-width="1.265" stroke-linejoin="round" stroke-linecap="round"/>
<path d="M199.90,285.90 C200.52,285.92 202.09,286.00 203.31,286.05 C204.54,286.10 205.49,286.13 206.72,286.17 C207.95,286.21 208.90,286.24 210.13,286.27 C211.36,286.31 212.31,286.33 213.54,286.36 C214.77,286.39 215.72,286.41 216.95,286.43 C218.18,286.45 219.13,286.47 220.36,286.49 C221.59,286.51 222.54,286.52 223.77,286.54 C224.99,286.56 225.95,286.57 227.18,286.58 C228.40,286.60 229.36,286.60 230.59,286.62 C231.81,286.63 232.77,286.63 233.99,286.64 C235.22,286.65 236.18,286.66 237.40,286.67 C238.63,286.68 240.20,286.68 240.81,286.69" fill="none" stroke="#ff6a30" stroke-width="1.4949999999999999" stroke-linejoin="round" stroke-linecap="round"/>
<path d="M199.90,285.90 C200.52,285.98 202.09,286.20 203.31,286.34 C204.54,286.49 205.49,286.59 206.72,286.72 C207.95,286.84 208.90,286.92 210.13,287.03 C211.36,287.13 212.31,287.20 213.54,287.28 C214.77,287.37 215.72,287.43 216.95,287.50 C218.18,287.57 219.13,287.62 220.36,287.68 C221.59,287.74 222.54,287.78 223.77,287.83 C224.99,287.87 225.95,287.91 227.18,287.95 C228.40,287.99 229.36,288.02 230.59,288.05 C231.81,288.09 232.77,288.11 233.99,288.14 C235.22,288.17 236.18,288.19 237.40,288.21 C238.63,288.23 240.20,288.26 240.81,288.27" fill="none" stroke="#c04008" stroke-width="1.7249999999999999" stroke-linejoin="round" stroke-linecap="round"/>
<path d="M199.90,285.90 C200.52,286.00 202.09,286.26 203.31,286.44 C204.54,286.62 205.49,286.75 206.72,286.90 C207.95,287.05 208.90,287.15 210.13,287.28 C211.36,287.40 212.31,287.49 213.54,287.59 C214.77,287.70 215.72,287.77 216.95,287.85 C218.18,287.94 219.13,288.00 220.36,288.07 C221.59,288.14 222.54,288.19 223.77,288.25 C224.99,288.31 225.95,288.36 227.18,288.41 C228.40,288.46 229.36,288.49 230.59,288.53 C231.81,288.57 232.77,288.60 233.99,288.64 C235.22,288.67 236.18,288.69 237.40,288.72 C238.63,288.75 240.20,288.78 240.81,288.80" fill="none" stroke="#940000" stroke-width="1.9549999999999998" stroke-linejoin="round" stroke-linecap="round"/>
<circle cx="198.82" cy="285.63" r="2.40" fill="#940000" fill-opacity="0.3"/>
<circle cx="198.82" cy="285.63" r="2.40" fill="none" stroke="#111" stroke-width="1.5"/>
<circle cx="199.36" cy="287.21" r="2.40" fill="#ff6a30" fill-opacity="0.3"/>
<circle cx="199.36" cy="287.21" r="2.40" fill="none" stroke="#111" stroke-width="1.5"/>
<circle cx="199.90" cy="288.80" r="2.40" fill="#ff6a30" fill-opacity="0.3"/>
<circle cx="199.90" cy="288.80" r="2.40" fill="none" stroke="#111" stroke-width="1.5"/>
<line x1="191.20" y1="263.50" x2="192.80" y2="263.50" stroke="#222" stroke-width="0.6"/>
<line x1="244.00" y1="263.50" x2="245.60" y2="263.50" stroke="#222" stroke-width="0.6"/>
<line x1="191.20" y1="281.07" x2="192.80" y2="281.07" stroke="#222" stroke-width="0.6"/>
<line x1="244.00" y1="281.07" x2="245.60" y2="281.07" stroke="#222" stroke-width="0.6"/>
<line x1="191.20" y1="298.63" x2="192.80" y2="298.63" stroke="#222" stroke-width="0.6"/>
<line x1="244.00" y1="298.63" x2="245.60" y2="298.63" stroke="#222" stroke-width="0.6"/>
<line x1="191.20" y1="316.20" x2="192.80" y2="316.20" stroke="#222" stroke-width="0.6"/>
<line x1="244.00" y1="316.20" x2="245.60" y2="316.20" stroke="#222" stroke-width="0.6"/>
<line x1="193.57" y1="263.50" x2="193.57" y2="265.10" stroke="#222" stroke-width="0.6"/>
<line x1="193.57" y1="314.60" x2="193.57" y2="316.20" stroke="#222" stroke-width="0.6"/>
<line x1="207.08" y1="263.50" x2="207.08" y2="265.10" stroke="#222" stroke-width="0.6"/>
<line x1="207.08" y1="314.60" x2="207.08" y2="316.20" stroke="#222" stroke-width="0.6"/>
<line x1="220.60" y1="263.50" x2="220.60" y2="265.10" stroke="#222" stroke-width="0.6"/>
<line x1="220.60" y1="314.60" x2="220.60" y2="316.20" stroke="#222" stroke-width="0.6"/>
<line x1="234.11" y1="263.50" x2="234.11" y2="265.10" stroke="#222" stroke-width="0.6"/>
<line x1="234.11" y1="314.60" x2="234.11" y2="316.20" stroke="#222" stroke-width="0.6"/>
<rect x="191.20" y="263.50" width="54.40" height="52.70" fill="none" stroke="#111" stroke-width="1.2"/>
<text x="0" y="0" transform="translate(188.50,266.50) scale(1.1,1)" font-size="8.4" text-anchor="end">1</text>
<text x="0" y="0" transform="translate(188.50,284.07) scale(1.1,1)" font-size="8.4" text-anchor="end">0</text>
<text x="0" y="0" transform="translate(188.50,301.63) scale(1.1,1)" font-size="8.4" text-anchor="end">-1</text>
<text x="0" y="0" transform="translate(188.50,319.20) scale(1.1,1)" font-size="8.4" text-anchor="end">-2</text>
<text x="217.80" y="260.00" font-size="10.2" font-weight="bold" text-anchor="middle" fill="#111" textLength="55.0" lengthAdjust="spacingAndGlyphs"><tspan>TBR1</tspan><tspan font-size="11" font-weight="normal">Δ</tspan><tspan>a R1</tspan></text>
<text x="0" y="0" transform="translate(103.60,290.15) rotate(-90)" font-size="10.6" text-anchor="middle"><tspan>log(OD</tspan><tspan font-size="7.0" dy="3.2">600</tspan><tspan dy="-3.2">)</tspan></text>
<rect x="122.60" y="338.30" width="53.00" height="52.90" fill="#cccccc" stroke="none" stroke-width="1"/>
<polyline points="125.52,385.38 131.08,362.11" fill="none" stroke="#1e0a40" stroke-width="1.38" stroke-linejoin="round" stroke-linecap="round"/>
<polyline points="131.08,363.16 171.89,362.90" fill="none" stroke="#c4f6f6" stroke-width="1.38" stroke-linejoin="round" stroke-linecap="round"/>
<polyline points="131.08,362.63 171.89,362.37" fill="none" stroke="#74c8d0" stroke-width="1.38" stroke-linejoin="round" stroke-linecap="round"/>
<polyline points="131.08,362.11 171.89,361.84" fill="none" stroke="#3c7c5e" stroke-width="1.6099999999999999" stroke-linejoin="round" stroke-linecap="round"/>
<polyline points="131.08,361.84 171.89,361.58" fill="none" stroke="#34485c" stroke-width="2.875" stroke-linejoin="round" stroke-linecap="round"/>
<polyline points="131.08,361.58 171.89,361.31" fill="none" stroke="#1e0a40" stroke-width="1.38" stroke-linejoin="round" stroke-linecap="round"/>
<circle cx="131.08" cy="362.11" r="2.40" fill="#1e0a40" fill-opacity="0.3"/>
<circle cx="131.08" cy="362.11" r="2.40" fill="none" stroke="#111" stroke-width="1.5"/>
<circle cx="130.81" cy="361.05" r="2.40" fill="#1e0a40" fill-opacity="0.3"/>
<circle cx="130.81" cy="361.05" r="2.40" fill="none" stroke="#111" stroke-width="1.5"/>
<circle cx="131.08" cy="363.16" r="2.40" fill="#c4f6f6" fill-opacity="0.3"/>
<circle cx="131.08" cy="363.16" r="2.40" fill="none" stroke="#111" stroke-width="1.5"/>
<line x1="122.60" y1="338.30" x2="124.20" y2="338.30" stroke="#222" stroke-width="0.6"/>
<line x1="174.00" y1="338.30" x2="175.60" y2="338.30" stroke="#222" stroke-width="0.6"/>
<line x1="122.60" y1="355.93" x2="124.20" y2="355.93" stroke="#222" stroke-width="0.6"/>
<line x1="174.00" y1="355.93" x2="175.60" y2="355.93" stroke="#222" stroke-width="0.6"/>
<line x1="122.60" y1="373.57" x2="124.20" y2="373.57" stroke="#222" stroke-width="0.6"/>
<line x1="174.00" y1="373.57" x2="175.60" y2="373.57" stroke="#222" stroke-width="0.6"/>
<line x1="122.60" y1="391.20" x2="124.20" y2="391.20" stroke="#222" stroke-width="0.6"/>
<line x1="174.00" y1="391.20" x2="175.60" y2="391.20" stroke="#222" stroke-width="0.6"/>
<line x1="124.90" y1="338.30" x2="124.90" y2="339.90" stroke="#222" stroke-width="0.6"/>
<line x1="124.90" y1="389.60" x2="124.90" y2="391.20" stroke="#222" stroke-width="0.6"/>
<line x1="138.07" y1="338.30" x2="138.07" y2="339.90" stroke="#222" stroke-width="0.6"/>
<line x1="138.07" y1="389.60" x2="138.07" y2="391.20" stroke="#222" stroke-width="0.6"/>
<line x1="151.24" y1="338.30" x2="151.24" y2="339.90" stroke="#222" stroke-width="0.6"/>
<line x1="151.24" y1="389.60" x2="151.24" y2="391.20" stroke="#222" stroke-width="0.6"/>
<line x1="164.41" y1="338.30" x2="164.41" y2="339.90" stroke="#222" stroke-width="0.6"/>
<line x1="164.41" y1="389.60" x2="164.41" y2="391.20" stroke="#222" stroke-width="0.6"/>
<rect x="122.60" y="338.30" width="53.00" height="52.90" fill="none" stroke="#111" stroke-width="1.2"/>
<text x="0" y="0" transform="translate(119.90,341.30) scale(1.1,1)" font-size="8.4" text-anchor="end">1</text>
<text x="0" y="0" transform="translate(119.90,358.93) scale(1.1,1)" font-size="8.4" text-anchor="end">0</text>
<text x="0" y="0" transform="translate(119.90,376.57) scale(1.1,1)" font-size="8.4" text-anchor="end">-1</text>
<text x="0" y="0" transform="translate(119.90,394.20) scale(1.1,1)" font-size="8.4" text-anchor="end">-2</text>
<text x="148.50" y="334.80" font-size="10.2" font-weight="bold" text-anchor="middle" fill="#111" textLength="41.0" lengthAdjust="spacingAndGlyphs">TBR1 R2</text>
<rect x="191.20" y="338.30" width="54.40" height="52.90" fill="#cccccc" stroke="none" stroke-width="1"/>
<polyline points="194.46,385.38 199.36,361.58" fill="none" stroke="#ff6a30" stroke-width="1.4949999999999999" stroke-linejoin="round" stroke-linecap="round"/>
<polyline points="194.19,384.85 199.09,361.05" fill="none" stroke="#940000" stroke-width="1.4949999999999999" stroke-linejoin="round" stroke-linecap="round"/>
<path d="M199.90,360.78 C200.52,360.60 202.09,360.11 203.31,359.79 C204.54,359.46 205.49,359.23 206.72,358.96 C207.95,358.68 208.90,358.49 210.13,358.27 C211.36,358.04 212.31,357.88 213.54,357.69 C214.77,357.50 215.72,357.37 216.95,357.21 C218.18,357.05 219.13,356.95 220.36,356.81 C221.59,356.68 222.54,356.59 223.77,356.48 C224.99,356.37 225.95,356.30 227.18,356.21 C228.40,356.11 229.36,356.05 230.59,355.98 C231.81,355.90 232.77,355.85 233.99,355.78 C235.22,355.72 236.18,355.68 237.40,355.63 C238.63,355.57 240.20,355.52 240.81,355.49" fill="none" stroke="#fff890" stroke-width="1.265" stroke-linejoin="round" stroke-linecap="round"/>
<path d="M199.90,360.78 C200.52,360.70 202.09,360.48 203.31,360.33 C204.54,360.19 205.49,360.08 206.72,359.96 C207.95,359.84 208.90,359.75 210.13,359.65 C211.36,359.55 212.31,359.48 213.54,359.39 C214.77,359.31 215.72,359.25 216.95,359.18 C218.18,359.10 219.13,359.06 220.36,359.00 C221.59,358.94 222.54,358.90 223.77,358.85 C224.99,358.80 225.95,358.76 227.18,358.72 C228.40,358.68 229.36,358.65 230.59,358.62 C231.81,358.59 232.77,358.56 233.99,358.53 C235.22,358.50 236.18,358.49 237.40,358.46 C238.63,358.44 240.20,358.41 240.81,358.40" fill="none" stroke="#fff030" stroke-width="1.265" stroke-linejoin="round" stroke-linecap="round"/>
<path d="M199.90,360.78 C200.52,360.74 202.09,360.62 203.31,360.53 C204.54,360.45 205.49,360.39 206.72,360.33 C207.95,360.26 208.90,360.21 210.13,360.15 C211.36,360.10 212.31,360.06 213.54,360.01 C214.77,359.96 215.72,359.93 216.95,359.89 C218.18,359.85 219.13,359.82 220.36,359.79 C221.59,359.76 222.54,359.73 223.77,359.71 C224.99,359.68 225.95,359.66 227.18,359.64 C228.40,359.62 229.36,359.60 230.59,359.58 C231.81,359.56 232.77,359.55 233.99,359.53 C235.22,359.52 236.18,359.51 237.40,359.49 C238.63,359.48 240.20,359.47 240.81,359.46" fill="none" stroke="#ffc634" stroke-width="1.265" stroke-linejoin="round" stroke-linecap="round"/>
<path d="M199.90,360.78 C200.52,360.83 202.09,360.95 203.31,361.03 C204.54,361.11 205.49,361.17 206.72,361.24 C207.95,361.31 208.90,361.35 210.13,361.41 C211.36,361.47 212.31,361.51 213.54,361.56 C214.77,361.60 215.72,361.64 216.95,361.68 C218.18,361.71 219.13,361.74 220.36,361.77 C221.59,361.81 222.54,361.83 223.77,361.86 C224.99,361.89 225.95,361.90 227.18,361.93 C228.40,361.95 229.36,361.97 230.59,361.98 C231.81,362.00 232.77,362.02 233.99,362.03 C235.22,362.05 236.18,362.06 237.40,362.07 C238.63,362.08 240.20,362.10 240.81,362.11" fill="none" stroke="#ff6a30" stroke-width="1.4949999999999999" stroke-linejoin="round" stroke-linecap="round"/>
<path d="M199.90,360.78 C200.52,360.85 202.09,361.05 203.31,361.18 C204.54,361.31 205.49,361.40 206.72,361.51 C207.95,361.62 208.90,361.70 210.13,361.79 C211.36,361.88 212.31,361.94 213.54,362.02 C214.77,362.10 215.72,362.15 216.95,362.21 C218.18,362.27 219.13,362.32 220.36,362.37 C221.59,362.42 222.54,362.46 223.77,362.50 C224.99,362.55 225.95,362.58 227.18,362.61 C228.40,362.65 229.36,362.67 230.59,362.71 C231.81,362.74 232.77,362.76 233.99,362.78 C235.22,362.81 236.18,362.82 237.40,362.85 C238.63,362.87 240.20,362.89 240.81,362.90" fill="none" stroke="#c04008" stroke-width="1.7249999999999999" stroke-linejoin="round" stroke-linecap="round"/>
<path d="M199.90,360.78 C200.52,360.86 202.09,361.08 203.31,361.23 C204.54,361.38 205.49,361.48 206.72,361.60 C207.95,361.73 208.90,361.81 210.13,361.92 C211.36,362.02 212.31,362.09 213.54,362.17 C214.77,362.26 215.72,362.32 216.95,362.39 C218.18,362.46 219.13,362.51 220.36,362.57 C221.59,362.63 222.54,362.67 223.77,362.72 C224.99,362.77 225.95,362.80 227.18,362.84 C228.40,362.88 229.36,362.91 230.59,362.95 C231.81,362.98 232.77,363.00 233.99,363.03 C235.22,363.06 236.18,363.08 237.40,363.10 C238.63,363.13 240.20,363.15 240.81,363.16" fill="none" stroke="#940000" stroke-width="1.9549999999999998" stroke-linejoin="round" stroke-linecap="round"/>
<circle cx="198.82" cy="360.52" r="2.40" fill="#940000" fill-opacity="0.3"/>
<circle cx="198.82" cy="360.52" r="2.40" fill="none" stroke="#111" stroke-width="1.5"/>
<circle cx="199.36" cy="362.11" r="2.40" fill="#ff6a30" fill-opacity="0.3"/>
<circle cx="199.36" cy="362.11" r="2.40" fill="none" stroke="#111" stroke-width="1.5"/>
<circle cx="199.90" cy="363.69" r="2.40" fill="#ff6a30" fill-opacity="0.3"/>
<circle cx="199.90" cy="363.69" r="2.40" fill="none" stroke="#111" stroke-width="1.5"/>
<line x1="191.20" y1="338.30" x2="192.80" y2="338.30" stroke="#222" stroke-width="0.6"/>
<line x1="244.00" y1="338.30" x2="245.60" y2="338.30" stroke="#222" stroke-width="0.6"/>
<line x1="191.20" y1="355.93" x2="192.80" y2="355.93" stroke="#222" stroke-width="0.6"/>
<line x1="244.00" y1="355.93" x2="245.60" y2="355.93" stroke="#222" stroke-width="0.6"/>
<line x1="191.20" y1="373.57" x2="192.80" y2="373.57" stroke="#222" stroke-width="0.6"/>
<line x1="244.00" y1="373.57" x2="245.60" y2="373.57" stroke="#222" stroke-width="0.6"/>
<line x1="191.20" y1="391.20" x2="192.80" y2="391.20" stroke="#222" stroke-width="0.6"/>
<line x1="244.00" y1="391.20" x2="245.60" y2="391.20" stroke="#222" stroke-width="0.6"/>
<line x1="193.57" y1="338.30" x2="193.57" y2="339.90" stroke="#222" stroke-width="0.6"/>
<line x1="193.57" y1="389.60" x2="193.57" y2="391.20" stroke="#222" stroke-width="0.6"/>
<line x1="207.08" y1="338.30" x2="207.08" y2="339.90" stroke="#222" stroke-width="0.6"/>
<line x1="207.08" y1="389.60" x2="207.08" y2="391.20" stroke="#222" stroke-width="0.6"/>
<line x1="220.60" y1="338.30" x2="220.60" y2="339.90" stroke="#222" stroke-width="0.6"/>
<line x1="220.60" y1="389.60" x2="220.60" y2="391.20" stroke="#222" stroke-width="0.6"/>
<line x1="234.11" y1="338.30" x2="234.11" y2="339.90" stroke="#222" stroke-width="0.6"/>
<line x1="234.11" y1="389.60" x2="234.11" y2="391.20" stroke="#222" stroke-width="0.6"/>
<rect x="191.20" y="338.30" width="54.40" height="52.90" fill="none" stroke="#111" stroke-width="1.2"/>
<text x="0" y="0" transform="translate(188.50,341.30) scale(1.1,1)" font-size="8.4" text-anchor="end">1</text>
<text x="0" y="0" transform="translate(188.50,358.93) scale(1.1,1)" font-size="8.4" text-anchor="end">0</text>
<text x="0" y="0" transform="translate(188.50,376.57) scale(1.1,1)" font-size="8.4" text-anchor="end">-1</text>
<text x="0" y="0" transform="translate(188.50,394.20) scale(1.1,1)" font-size="8.4" text-anchor="end">-2</text>
<text x="217.80" y="334.80" font-size="10.2" font-weight="bold" text-anchor="middle" fill="#111" textLength="55.0" lengthAdjust="spacingAndGlyphs"><tspan>TBR1</tspan><tspan font-size="11" font-weight="normal">Δ</tspan><tspan>a R2</tspan></text>
<text x="0" y="0" transform="translate(103.60,365.05) rotate(-90)" font-size="10.6" text-anchor="middle"><tspan>log(OD</tspan><tspan font-size="7.0" dy="3.2">600</tspan><tspan dy="-3.2">)</tspan></text>
<rect x="122.60" y="412.80" width="53.00" height="53.30" fill="#cccccc" stroke="none" stroke-width="1"/>
<polyline points="125.52,460.24 131.08,436.79" fill="none" stroke="#1e0a40" stroke-width="1.38" stroke-linejoin="round" stroke-linecap="round"/>
<polyline points="131.08,437.85 171.89,437.58" fill="none" stroke="#c4f6f6" stroke-width="1.38" stroke-linejoin="round" stroke-linecap="round"/>
<polyline points="131.08,437.32 171.89,437.05" fill="none" stroke="#74c8d0" stroke-width="1.38" stroke-linejoin="round" stroke-linecap="round"/>
<polyline points="131.08,436.79 171.89,436.52" fill="none" stroke="#3c7c5e" stroke-width="1.6099999999999999" stroke-linejoin="round" stroke-linecap="round"/>
<polyline points="131.08,436.52 171.89,436.25" fill="none" stroke="#34485c" stroke-width="2.875" stroke-linejoin="round" stroke-linecap="round"/>
<polyline points="131.08,436.25 171.89,435.99" fill="none" stroke="#1e0a40" stroke-width="1.38" stroke-linejoin="round" stroke-linecap="round"/>
<circle cx="131.08" cy="436.79" r="2.40" fill="#1e0a40" fill-opacity="0.3"/>
<circle cx="131.08" cy="436.79" r="2.40" fill="none" stroke="#111" stroke-width="1.5"/>
<circle cx="130.81" cy="435.72" r="2.40" fill="#1e0a40" fill-opacity="0.3"/>
<circle cx="130.81" cy="435.72" r="2.40" fill="none" stroke="#111" stroke-width="1.5"/>
<circle cx="131.08" cy="437.85" r="2.40" fill="#c4f6f6" fill-opacity="0.3"/>
<circle cx="131.08" cy="437.85" r="2.40" fill="none" stroke="#111" stroke-width="1.5"/>
<line x1="122.60" y1="412.80" x2="124.20" y2="412.80" stroke="#222" stroke-width="0.6"/>
<line x1="174.00" y1="412.80" x2="175.60" y2="412.80" stroke="#222" stroke-width="0.6"/>
<line x1="122.60" y1="430.57" x2="124.20" y2="430.57" stroke="#222" stroke-width="0.6"/>
<line x1="174.00" y1="430.57" x2="175.60" y2="430.57" stroke="#222" stroke-width="0.6"/>
<line x1="122.60" y1="448.33" x2="124.20" y2="448.33" stroke="#222" stroke-width="0.6"/>
<line x1="174.00" y1="448.33" x2="175.60" y2="448.33" stroke="#222" stroke-width="0.6"/>
<line x1="122.60" y1="466.10" x2="124.20" y2="466.10" stroke="#222" stroke-width="0.6"/>
<line x1="174.00" y1="466.10" x2="175.60" y2="466.10" stroke="#222" stroke-width="0.6"/>
<line x1="124.90" y1="412.80" x2="124.90" y2="414.40" stroke="#222" stroke-width="0.6"/>
<line x1="124.90" y1="464.50" x2="124.90" y2="466.10" stroke="#222" stroke-width="0.6"/>
<line x1="138.07" y1="412.80" x2="138.07" y2="414.40" stroke="#222" stroke-width="0.6"/>
<line x1="138.07" y1="464.50" x2="138.07" y2="466.10" stroke="#222" stroke-width="0.6"/>
<line x1="151.24" y1="412.80" x2="151.24" y2="414.40" stroke="#222" stroke-width="0.6"/>
<line x1="151.24" y1="464.50" x2="151.24" y2="466.10" stroke="#222" stroke-width="0.6"/>
<line x1="164.41" y1="412.80" x2="164.41" y2="414.40" stroke="#222" stroke-width="0.6"/>
<line x1="164.41" y1="464.50" x2="164.41" y2="466.10" stroke="#222" stroke-width="0.6"/>
<rect x="122.60" y="412.80" width="53.00" height="53.30" fill="none" stroke="#111" stroke-width="1.2"/>
<text x="0" y="0" transform="translate(119.90,415.80) scale(1.1,1)" font-size="8.4" text-anchor="end">1</text>
<text x="0" y="0" transform="translate(119.90,433.57) scale(1.1,1)" font-size="8.4" text-anchor="end">0</text>
<text x="0" y="0" transform="translate(119.90,451.33) scale(1.1,1)" font-size="8.4" text-anchor="end">-1</text>
<text x="0" y="0" transform="translate(119.90,469.10) scale(1.1,1)" font-size="8.4" text-anchor="end">-2</text>
<text x="0" y="0" transform="translate(124.90,477.90) scale(1.16,1)" font-size="8.3" text-anchor="middle">0</text>
<text x="0" y="0" transform="translate(138.07,477.90) scale(1.16,1)" font-size="8.3" text-anchor="middle">20</text>
<text x="0" y="0" transform="translate(151.24,477.90) scale(1.16,1)" font-size="8.3" text-anchor="middle">40</text>
<text x="0" y="0" transform="translate(164.41,477.90) scale(1.16,1)" font-size="8.3" text-anchor="middle">60</text>
<text x="149.10" y="489.40" font-size="9.5" text-anchor="middle" textLength="43.8" lengthAdjust="spacingAndGlyphs">Time (hrs)</text>
<text x="148.50" y="409.30" font-size="10.2" font-weight="bold" text-anchor="middle" fill="#111" textLength="41.0" lengthAdjust="spacingAndGlyphs">TBR1 R3</text>
<rect x="191.20" y="412.80" width="54.40" height="53.30" fill="#cccccc" stroke="none" stroke-width="1"/>
<polyline points="194.46,460.24 199.36,436.25" fill="none" stroke="#ff6a30" stroke-width="1.4949999999999999" stroke-linejoin="round" stroke-linecap="round"/>
<polyline points="194.19,459.70 199.09,435.72" fill="none" stroke="#940000" stroke-width="1.4949999999999999" stroke-linejoin="round" stroke-linecap="round"/>
<path d="M199.90,435.45 C200.52,435.29 202.09,434.85 203.31,434.56 C204.54,434.26 205.49,434.06 206.72,433.81 C207.95,433.57 208.90,433.40 210.13,433.20 C211.36,432.99 212.31,432.85 213.54,432.68 C214.77,432.51 215.72,432.39 216.95,432.25 C218.18,432.11 219.13,432.01 220.36,431.89 C221.59,431.78 222.54,431.69 223.77,431.60 C224.99,431.50 225.95,431.43 227.18,431.35 C228.40,431.27 229.36,431.21 230.59,431.14 C231.81,431.07 232.77,431.03 233.99,430.97 C235.22,430.91 236.18,430.87 237.40,430.83 C238.63,430.78 240.20,430.73 240.81,430.71" fill="none" stroke="#fff890" stroke-width="1.265" stroke-linejoin="round" stroke-linecap="round"/>
<path d="M199.90,435.45 C200.52,435.48 202.09,435.55 203.31,435.60 C204.54,435.65 205.49,435.69 206.72,435.73 C207.95,435.77 208.90,435.80 210.13,435.83 C211.36,435.87 212.31,435.89 213.54,435.92 C214.77,435.95 215.72,435.97 216.95,435.99 C218.18,436.02 219.13,436.03 220.36,436.05 C221.59,436.07 222.54,436.09 223.77,436.10 C224.99,436.12 225.95,436.13 227.18,436.14 C228.40,436.16 229.36,436.17 230.59,436.18 C231.81,436.19 232.77,436.20 233.99,436.21 C235.22,436.22 236.18,436.22 237.40,436.23 C238.63,436.24 240.20,436.25 240.81,436.25" fill="none" stroke="#fff030" stroke-width="1.265" stroke-linejoin="round" stroke-linecap="round"/>
<path d="M199.90,435.45 C200.52,435.51 202.09,435.65 203.31,435.75 C204.54,435.85 205.49,435.92 206.72,436.00 C207.95,436.09 208.90,436.14 210.13,436.21 C211.36,436.28 212.31,436.33 213.54,436.39 C214.77,436.44 215.72,436.48 216.95,436.53 C218.18,436.58 219.13,436.61 220.36,436.65 C221.59,436.69 222.54,436.72 223.77,436.75 C224.99,436.79 225.95,436.81 227.18,436.84 C228.40,436.86 229.36,436.88 230.59,436.91 C231.81,436.93 232.77,436.94 233.99,436.96 C235.22,436.98 236.18,437.00 237.40,437.01 C238.63,437.03 240.20,437.04 240.81,437.05" fill="none" stroke="#ffc634" stroke-width="1.265" stroke-linejoin="round" stroke-linecap="round"/>
<path d="M199.90,435.45 C200.52,435.62 202.09,436.09 203.31,436.41 C204.54,436.72 205.49,436.94 206.72,437.20 C207.95,437.46 208.90,437.64 210.13,437.86 C211.36,438.08 212.31,438.23 213.54,438.41 C214.77,438.59 215.72,438.72 216.95,438.87 C218.18,439.02 219.13,439.13 220.36,439.25 C221.59,439.38 222.54,439.46 223.77,439.57 C224.99,439.67 225.95,439.75 227.18,439.83 C228.40,439.92 229.36,439.98 230.59,440.05 C231.81,440.13 232.77,440.18 233.99,440.24 C235.22,440.30 236.18,440.34 237.40,440.39 C238.63,440.44 240.20,440.49 240.81,440.52" fill="none" stroke="#ff6a30" stroke-width="1.4949999999999999" stroke-linejoin="round" stroke-linecap="round"/>
<path d="M199.90,435.45 C200.52,435.66 202.09,436.23 203.31,436.61 C204.54,436.99 205.49,437.25 206.72,437.57 C207.95,437.89 208.90,438.10 210.13,438.37 C211.36,438.63 212.31,438.82 213.54,439.03 C214.77,439.25 215.72,439.41 216.95,439.59 C218.18,439.77 219.13,439.90 220.36,440.05 C221.59,440.20 222.54,440.31 223.77,440.44 C224.99,440.56 225.95,440.65 227.18,440.76 C228.40,440.86 229.36,440.93 230.59,441.02 C231.81,441.11 232.77,441.17 233.99,441.24 C235.22,441.32 236.18,441.37 237.40,441.43 C238.63,441.49 240.20,441.55 240.81,441.58" fill="none" stroke="#c04008" stroke-width="1.7249999999999999" stroke-linejoin="round" stroke-linecap="round"/>
<path d="M199.90,435.45 C200.52,435.70 202.09,436.36 203.31,436.81 C204.54,437.26 205.49,437.56 206.72,437.94 C207.95,438.31 208.90,438.57 210.13,438.88 C211.36,439.19 212.31,439.40 213.54,439.66 C214.77,439.92 215.72,440.09 216.95,440.31 C218.18,440.52 219.13,440.67 220.36,440.85 C221.59,441.03 222.54,441.15 223.77,441.30 C224.99,441.45 225.95,441.55 227.18,441.68 C228.40,441.80 229.36,441.89 230.59,441.99 C231.81,442.09 232.77,442.16 233.99,442.25 C235.22,442.34 236.18,442.40 237.40,442.47 C238.63,442.54 240.20,442.62 240.81,442.65" fill="none" stroke="#940000" stroke-width="1.9549999999999998" stroke-linejoin="round" stroke-linecap="round"/>
<circle cx="198.82" cy="435.19" r="2.40" fill="#940000" fill-opacity="0.3"/>
<circle cx="198.82" cy="435.19" r="2.40" fill="none" stroke="#111" stroke-width="1.5"/>
<circle cx="199.36" cy="436.79" r="2.40" fill="#ff6a30" fill-opacity="0.3"/>
<circle cx="199.36" cy="436.79" r="2.40" fill="none" stroke="#111" stroke-width="1.5"/>
<circle cx="199.90" cy="438.38" r="2.40" fill="#ff6a30" fill-opacity="0.3"/>
<circle cx="199.90" cy="438.38" r="2.40" fill="none" stroke="#111" stroke-width="1.5"/>
<line x1="191.20" y1="412.80" x2="192.80" y2="412.80" stroke="#222" stroke-width="0.6"/>
<line x1="244.00" y1="412.80" x2="245.60" y2="412.80" stroke="#222" stroke-width="0.6"/>
<line x1="191.20" y1="430.57" x2="192.80" y2="430.57" stroke="#222" stroke-width="0.6"/>
<line x1="244.00" y1="430.57" x2="245.60" y2="430.57" stroke="#222" stroke-width="0.6"/>
<line x1="191.20" y1="448.33" x2="192.80" y2="448.33" stroke="#222" stroke-width="0.6"/>
<line x1="244.00" y1="448.33" x2="245.60" y2="448.33" stroke="#222" stroke-width="0.6"/>
<line x1="191.20" y1="466.10" x2="192.80" y2="466.10" stroke="#222" stroke-width="0.6"/>
<line x1="244.00" y1="466.10" x2="245.60" y2="466.10" stroke="#222" stroke-width="0.6"/>
<line x1="193.57" y1="412.80" x2="193.57" y2="414.40" stroke="#222" stroke-width="0.6"/>
<line x1="193.57" y1="464.50" x2="193.57" y2="466.10" stroke="#222" stroke-width="0.6"/>
<line x1="207.08" y1="412.80" x2="207.08" y2="414.40" stroke="#222" stroke-width="0.6"/>
<line x1="207.08" y1="464.50" x2="207.08" y2="466.10" stroke="#222" stroke-width="0.6"/>
<line x1="220.60" y1="412.80" x2="220.60" y2="414.40" stroke="#222" stroke-width="0.6"/>
<line x1="220.60" y1="464.50" x2="220.60" y2="466.10" stroke="#222" stroke-width="0.6"/>
<line x1="234.11" y1="412.80" x2="234.11" y2="414.40" stroke="#222" stroke-width="0.6"/>
<line x1="234.11" y1="464.50" x2="234.11" y2="466.10" stroke="#222" stroke-width="0.6"/>
<rect x="191.20" y="412.80" width="54.40" height="53.30" fill="none" stroke="#111" stroke-width="1.2"/>
<text x="0" y="0" transform="translate(188.50,415.80) scale(1.1,1)" font-size="8.4" text-anchor="end">1</text>
<text x="0" y="0" transform="translate(188.50,433.57) scale(1.1,1)" font-size="8.4" text-anchor="end">0</text>
<text x="0" y="0" transform="translate(188.50,451.33) scale(1.1,1)" font-size="8.4" text-anchor="end">-1</text>
<text x="0" y="0" transform="translate(188.50,469.10) scale(1.1,1)" font-size="8.4" text-anchor="end">-2</text>
<text x="0" y="0" transform="translate(193.57,477.90) scale(1.16,1)" font-size="8.3" text-anchor="middle">0</text>
<text x="0" y="0" transform="translate(207.08,477.90) scale(1.16,1)" font-size="8.3" text-anchor="middle">20</text>
<text x="0" y="0" transform="translate(220.60,477.90) scale(1.16,1)" font-size="8.3" text-anchor="middle">40</text>
<text x="0" y="0" transform="translate(234.11,477.90) scale(1.16,1)" font-size="8.3" text-anchor="middle">60</text>
<text x="218.40" y="489.40" font-size="9.5" text-anchor="middle" textLength="43.8" lengthAdjust="spacingAndGlyphs">Time (hrs)</text>
<text x="217.80" y="409.30" font-size="10.2" font-weight="bold" text-anchor="middle" fill="#111" textLength="55.0" lengthAdjust="spacingAndGlyphs"><tspan>TBR1</tspan><tspan font-size="11" font-weight="normal">Δ</tspan><tspan>a R3</tspan></text>
<text x="0" y="0" transform="translate(103.60,439.75) rotate(-90)" font-size="10.6" text-anchor="middle"><tspan>log(OD</tspan><tspan font-size="7.0" dy="3.2">600</tspan><tspan dy="-3.2">)</tspan></text>
<rect x="522.30" y="257.60" width="53.60" height="53.60" fill="#cccccc" stroke="none" stroke-width="1"/>
<path d="M527.66,295.12 C527.95,293.00 525.89,285.35 529.27,283.33 C532.64,281.30 542.85,284.15 546.42,283.86 C549.99,283.57 547.65,282.01 549.10,281.72 C550.55,281.43 552.53,282.35 554.46,282.26 C556.39,282.16 557.89,281.33 559.82,281.18 C561.75,281.04 563.15,281.60 565.18,281.45 C567.21,281.31 570.01,280.57 571.08,280.38" fill="none" stroke="#c4f6f6" stroke-width="1.38" stroke-linejoin="round" stroke-linecap="round"/>
<path d="M527.66,300.48 C528.82,299.71 531.20,296.67 534.09,296.19 C536.99,295.71 541.04,297.99 543.74,297.80 C546.44,297.61 544.18,295.51 549.10,295.12 C554.02,294.73 567.12,295.56 571.08,295.66" fill="none" stroke="#6cc8a0" stroke-width="1.38" stroke-linejoin="round" stroke-linecap="round"/>
<path d="M527.66,297.80 C529.59,296.16 535.00,290.52 538.38,288.69 C541.76,286.85 540.53,287.71 546.42,287.62 C552.31,287.52 566.64,288.06 571.08,288.15" fill="none" stroke="#74c8d0" stroke-width="1.38" stroke-linejoin="round" stroke-linecap="round"/>
<path d="M527.66,300.48 C529.59,298.55 535.00,292.17 538.38,289.76 C541.76,287.35 540.53,287.47 546.42,287.08 C552.31,286.69 566.64,287.52 571.08,287.62" fill="none" stroke="#3c7c5e" stroke-width="1.38" stroke-linejoin="round" stroke-linecap="round"/>
<path d="M527.66,300.48 C529.59,298.36 535.49,291.49 538.38,288.69 C541.27,285.89 537.85,285.51 543.74,284.94 C549.63,284.36 566.16,285.38 571.08,285.47" fill="none" stroke="#34485c" stroke-width="1.38" stroke-linejoin="round" stroke-linecap="round"/>
<path d="M525.52,303.70 C526.38,303.12 527.06,300.67 530.34,300.48 C533.62,300.29 536.41,301.76 543.74,302.62 C551.07,303.49 566.16,304.82 571.08,305.30" fill="none" stroke="#1e0a40" stroke-width="1.38" stroke-linejoin="round" stroke-linecap="round"/>
<circle cx="529.27" cy="283.33" r="2.25" fill="#c4f6f6" fill-opacity="0.3"/>
<circle cx="529.27" cy="283.33" r="2.25" fill="none" stroke="#111" stroke-width="1.15"/>
<circle cx="529.80" cy="290.83" r="2.25" fill="#c4f6f6" fill-opacity="0.3"/>
<circle cx="529.80" cy="290.83" r="2.25" fill="none" stroke="#111" stroke-width="1.15"/>
<circle cx="528.73" cy="294.58" r="2.25" fill="#c4f6f6" fill-opacity="0.3"/>
<circle cx="528.73" cy="294.58" r="2.25" fill="none" stroke="#111" stroke-width="1.15"/>
<circle cx="527.66" cy="297.80" r="2.25" fill="#74c8d0" fill-opacity="0.3"/>
<circle cx="527.66" cy="297.80" r="2.25" fill="none" stroke="#111" stroke-width="1.15"/>
<circle cx="528.20" cy="301.55" r="2.25" fill="#1e0a40" fill-opacity="0.3"/>
<circle cx="528.20" cy="301.55" r="2.25" fill="none" stroke="#111" stroke-width="1.15"/>
<circle cx="534.63" cy="288.69" r="2.25" fill="#74c8d0" fill-opacity="0.3"/>
<circle cx="534.63" cy="288.69" r="2.25" fill="none" stroke="#111" stroke-width="1.15"/>
<circle cx="535.70" cy="291.37" r="2.25" fill="#34485c" fill-opacity="0.3"/>
<circle cx="535.70" cy="291.37" r="2.25" fill="none" stroke="#111" stroke-width="1.15"/>
<circle cx="534.63" cy="296.73" r="2.25" fill="#6cc8a0" fill-opacity="0.3"/>
<circle cx="534.63" cy="296.73" r="2.25" fill="none" stroke="#111" stroke-width="1.15"/>
<circle cx="538.92" cy="288.15" r="2.25" fill="#34485c" fill-opacity="0.3"/>
<circle cx="538.92" cy="288.15" r="2.25" fill="none" stroke="#111" stroke-width="1.15"/>
<circle cx="541.60" cy="287.08" r="2.25" fill="#34485c" fill-opacity="0.3"/>
<circle cx="541.60" cy="287.08" r="2.25" fill="none" stroke="#111" stroke-width="1.15"/>
<circle cx="543.74" cy="286.01" r="2.25" fill="#34485c" fill-opacity="0.3"/>
<circle cx="543.74" cy="286.01" r="2.25" fill="none" stroke="#111" stroke-width="1.15"/>
<circle cx="543.74" cy="297.80" r="2.25" fill="#6cc8a0" fill-opacity="0.3"/>
<circle cx="543.74" cy="297.80" r="2.25" fill="none" stroke="#111" stroke-width="1.15"/>
<circle cx="549.64" cy="294.58" r="2.25" fill="#6cc8a0" fill-opacity="0.3"/>
<circle cx="549.64" cy="294.58" r="2.25" fill="none" stroke="#111" stroke-width="1.15"/>
<circle cx="537.31" cy="289.76" r="2.25" fill="#34485c" fill-opacity="0.3"/>
<circle cx="537.31" cy="289.76" r="2.25" fill="none" stroke="#111" stroke-width="1.15"/>
<circle cx="539.99" cy="287.62" r="2.25" fill="#34485c" fill-opacity="0.3"/>
<circle cx="539.99" cy="287.62" r="2.25" fill="none" stroke="#111" stroke-width="1.15"/>
<line x1="522.30" y1="257.60" x2="523.90" y2="257.60" stroke="#222" stroke-width="0.6"/>
<line x1="574.30" y1="257.60" x2="575.90" y2="257.60" stroke="#222" stroke-width="0.6"/>
<line x1="522.30" y1="275.47" x2="523.90" y2="275.47" stroke="#222" stroke-width="0.6"/>
<line x1="574.30" y1="275.47" x2="575.90" y2="275.47" stroke="#222" stroke-width="0.6"/>
<line x1="522.30" y1="293.33" x2="523.90" y2="293.33" stroke="#222" stroke-width="0.6"/>
<line x1="574.30" y1="293.33" x2="575.90" y2="293.33" stroke="#222" stroke-width="0.6"/>
<line x1="522.30" y1="311.20" x2="523.90" y2="311.20" stroke="#222" stroke-width="0.6"/>
<line x1="574.30" y1="311.20" x2="575.90" y2="311.20" stroke="#222" stroke-width="0.6"/>
<line x1="524.63" y1="257.60" x2="524.63" y2="259.20" stroke="#222" stroke-width="0.6"/>
<line x1="524.63" y1="309.60" x2="524.63" y2="311.20" stroke="#222" stroke-width="0.6"/>
<line x1="537.95" y1="257.60" x2="537.95" y2="259.20" stroke="#222" stroke-width="0.6"/>
<line x1="537.95" y1="309.60" x2="537.95" y2="311.20" stroke="#222" stroke-width="0.6"/>
<line x1="551.26" y1="257.60" x2="551.26" y2="259.20" stroke="#222" stroke-width="0.6"/>
<line x1="551.26" y1="309.60" x2="551.26" y2="311.20" stroke="#222" stroke-width="0.6"/>
<line x1="564.58" y1="257.60" x2="564.58" y2="259.20" stroke="#222" stroke-width="0.6"/>
<line x1="564.58" y1="309.60" x2="564.58" y2="311.20" stroke="#222" stroke-width="0.6"/>
<rect x="522.30" y="257.60" width="53.60" height="53.60" fill="none" stroke="#111" stroke-width="1.2"/>
<text x="0" y="0" transform="translate(519.60,260.60) scale(1.1,1)" font-size="8.4" text-anchor="end">1</text>
<text x="0" y="0" transform="translate(519.60,278.47) scale(1.1,1)" font-size="8.4" text-anchor="end">0</text>
<text x="0" y="0" transform="translate(519.60,296.33) scale(1.1,1)" font-size="8.4" text-anchor="end">-1</text>
<text x="0" y="0" transform="translate(519.60,314.20) scale(1.1,1)" font-size="8.4" text-anchor="end">-2</text>
<text x="509.40" y="248.60" font-size="10.0" font-weight="bold" fill="#111" textLength="41.8" lengthAdjust="spacingAndGlyphs">TBR1 R1</text>
<text x="552.50" y="253.80" font-size="8.6" font-weight="bold" fill="#111" textLength="35.0" lengthAdjust="spacingAndGlyphs">RESUSP.</text>
<rect x="611.30" y="257.60" width="53.60" height="53.60" fill="#cccccc" stroke="none" stroke-width="1"/>
<path d="M615.05,305.84 C615.73,301.11 615.62,284.59 618.80,279.58 C621.99,274.56 625.21,278.55 632.74,277.97 C640.27,277.39 655.60,276.65 660.61,276.36" fill="none" stroke="#fff890" stroke-width="1.4949999999999999" stroke-linejoin="round" stroke-linecap="round"/>
<path d="M615.05,304.77 C616.02,304.09 617.42,301.21 620.41,301.02 C623.40,300.82 627.52,302.92 631.67,303.70 C635.82,304.47 638.25,304.87 643.46,305.30 C648.67,305.74 657.52,305.96 660.61,306.11" fill="none" stroke="#fff030" stroke-width="1.6099999999999999" stroke-linejoin="round" stroke-linecap="round"/>
<path d="M615.05,305.84 C616.02,305.26 617.42,302.82 620.41,302.62 C623.40,302.43 627.52,304.09 631.67,304.77 C635.82,305.44 638.25,306.04 643.46,306.38 C648.67,306.71 657.52,306.60 660.61,306.64" fill="none" stroke="#ffc634" stroke-width="1.6099999999999999" stroke-linejoin="round" stroke-linecap="round"/>
<path d="M615.05,306.38 C616.31,305.99 618.84,304.33 622.02,304.23 C625.20,304.14 625.79,305.31 632.74,305.84 C639.69,306.37 655.60,306.94 660.61,307.18" fill="none" stroke="#ff6a30" stroke-width="1.6099999999999999" stroke-linejoin="round" stroke-linecap="round"/>
<path d="M615.05,306.91 C616.31,306.62 618.84,305.30 622.02,305.30 C625.20,305.30 625.79,306.43 632.74,306.91 C639.69,307.39 655.60,307.79 660.61,307.98" fill="none" stroke="#940000" stroke-width="1.7249999999999999" stroke-linejoin="round" stroke-linecap="round"/>
<circle cx="618.80" cy="279.58" r="2.25" fill="#fff890" fill-opacity="0.3"/>
<circle cx="618.80" cy="279.58" r="2.25" fill="none" stroke="#111" stroke-width="1.15"/>
<circle cx="620.41" cy="301.02" r="2.25" fill="#fff030" fill-opacity="0.3"/>
<circle cx="620.41" cy="301.02" r="2.25" fill="none" stroke="#111" stroke-width="1.15"/>
<circle cx="617.20" cy="304.77" r="2.25" fill="#ffc634" fill-opacity="0.3"/>
<circle cx="617.20" cy="304.77" r="2.25" fill="none" stroke="#111" stroke-width="1.15"/>
<circle cx="618.27" cy="303.70" r="2.25" fill="#ffc634" fill-opacity="0.3"/>
<circle cx="618.27" cy="303.70" r="2.25" fill="none" stroke="#111" stroke-width="1.15"/>
<line x1="611.30" y1="257.60" x2="612.90" y2="257.60" stroke="#222" stroke-width="0.6"/>
<line x1="663.30" y1="257.60" x2="664.90" y2="257.60" stroke="#222" stroke-width="0.6"/>
<line x1="611.30" y1="275.47" x2="612.90" y2="275.47" stroke="#222" stroke-width="0.6"/>
<line x1="663.30" y1="275.47" x2="664.90" y2="275.47" stroke="#222" stroke-width="0.6"/>
<line x1="611.30" y1="293.33" x2="612.90" y2="293.33" stroke="#222" stroke-width="0.6"/>
<line x1="663.30" y1="293.33" x2="664.90" y2="293.33" stroke="#222" stroke-width="0.6"/>
<line x1="611.30" y1="311.20" x2="612.90" y2="311.20" stroke="#222" stroke-width="0.6"/>
<line x1="663.30" y1="311.20" x2="664.90" y2="311.20" stroke="#222" stroke-width="0.6"/>
<line x1="613.63" y1="257.60" x2="613.63" y2="259.20" stroke="#222" stroke-width="0.6"/>
<line x1="613.63" y1="309.60" x2="613.63" y2="311.20" stroke="#222" stroke-width="0.6"/>
<line x1="626.95" y1="257.60" x2="626.95" y2="259.20" stroke="#222" stroke-width="0.6"/>
<line x1="626.95" y1="309.60" x2="626.95" y2="311.20" stroke="#222" stroke-width="0.6"/>
<line x1="640.26" y1="257.60" x2="640.26" y2="259.20" stroke="#222" stroke-width="0.6"/>
<line x1="640.26" y1="309.60" x2="640.26" y2="311.20" stroke="#222" stroke-width="0.6"/>
<line x1="653.58" y1="257.60" x2="653.58" y2="259.20" stroke="#222" stroke-width="0.6"/>
<line x1="653.58" y1="309.60" x2="653.58" y2="311.20" stroke="#222" stroke-width="0.6"/>
<rect x="611.30" y="257.60" width="53.60" height="53.60" fill="none" stroke="#111" stroke-width="1.2"/>
<text x="0" y="0" transform="translate(608.60,260.60) scale(1.1,1)" font-size="8.4" text-anchor="end">1</text>
<text x="0" y="0" transform="translate(608.60,278.47) scale(1.1,1)" font-size="8.4" text-anchor="end">0</text>
<text x="0" y="0" transform="translate(608.60,296.33) scale(1.1,1)" font-size="8.4" text-anchor="end">-1</text>
<text x="0" y="0" transform="translate(608.60,314.20) scale(1.1,1)" font-size="8.4" text-anchor="end">-2</text>
<text x="590.60" y="248.60" font-size="10.0" font-weight="bold" fill="#111" textLength="57.5" lengthAdjust="spacingAndGlyphs"><tspan>TBR1</tspan><tspan font-size="11" font-weight="normal">Δ</tspan><tspan>a R1</tspan></text>
<text x="649.40" y="253.80" font-size="8.6" font-weight="bold" fill="#111" textLength="35.0" lengthAdjust="spacingAndGlyphs">RESUSP.</text>
<text x="0" y="0" transform="translate(504.00,284.70) rotate(-90)" font-size="11.2" text-anchor="middle"><tspan>log(OD</tspan><tspan font-size="7.2" dy="3.2">600</tspan><tspan dy="-3.2">)</tspan></text>
<rect x="522.30" y="335.40" width="53.60" height="53.20" fill="#cccccc" stroke="none" stroke-width="1"/>
<path d="M525.52,379.02 C526.29,375.48 527.97,362.88 529.80,359.34 C531.64,355.80 528.27,359.63 535.70,359.34 C543.13,359.05 564.71,358.03 571.08,357.74" fill="none" stroke="#c4f6f6" stroke-width="1.38" stroke-linejoin="round" stroke-linecap="round"/>
<path d="M525.52,380.09 C526.29,376.54 527.97,364.04 529.80,360.40 C531.64,356.77 528.27,360.16 535.70,359.87 C543.13,359.58 564.71,359.00 571.08,358.81" fill="none" stroke="#74c8d0" stroke-width="1.38" stroke-linejoin="round" stroke-linecap="round"/>
<path d="M526.59,379.02 C528.23,375.86 527.69,364.63 535.70,361.47 C543.71,358.31 564.71,361.47 571.08,361.47" fill="none" stroke="#6cc8a0" stroke-width="1.38" stroke-linejoin="round" stroke-linecap="round"/>
<path d="M526.59,375.30 C529.00,375.01 536.51,375.43 539.99,373.70 C543.46,371.98 543.28,366.87 545.88,365.72 C548.49,364.57 549.93,367.22 554.46,367.32 C558.99,367.42 568.09,366.45 571.08,366.26" fill="none" stroke="#3c7c5e" stroke-width="1.38" stroke-linejoin="round" stroke-linecap="round"/>
<path d="M526.59,376.90 C529.00,376.51 536.51,376.68 539.99,374.77 C543.46,372.85 543.28,367.50 545.88,366.26 C548.49,365.01 549.93,367.66 554.46,367.85 C558.99,368.04 568.09,367.42 571.08,367.32" fill="none" stroke="#34485c" stroke-width="1.38" stroke-linejoin="round" stroke-linecap="round"/>
<path d="M525.52,381.15 C525.90,380.39 525.06,377.18 527.66,376.90 C530.26,376.61 536.61,379.36 539.99,379.56 C543.36,379.75 543.91,379.97 546.42,377.96 C548.93,375.95 549.49,370.11 553.92,368.38 C558.36,366.66 567.99,368.38 571.08,368.38" fill="none" stroke="#1e0a40" stroke-width="1.38" stroke-linejoin="round" stroke-linecap="round"/>
<circle cx="529.80" cy="359.34" r="2.25" fill="#c4f6f6" fill-opacity="0.3"/>
<circle cx="529.80" cy="359.34" r="2.25" fill="none" stroke="#111" stroke-width="1.15"/>
<circle cx="530.88" cy="360.40" r="2.25" fill="#74c8d0" fill-opacity="0.3"/>
<circle cx="530.88" cy="360.40" r="2.25" fill="none" stroke="#111" stroke-width="1.15"/>
<circle cx="535.16" cy="361.47" r="2.25" fill="#6cc8a0" fill-opacity="0.3"/>
<circle cx="535.16" cy="361.47" r="2.25" fill="none" stroke="#111" stroke-width="1.15"/>
<circle cx="532.48" cy="368.38" r="2.25" fill="#6cc8a0" fill-opacity="0.3"/>
<circle cx="532.48" cy="368.38" r="2.25" fill="none" stroke="#111" stroke-width="1.15"/>
<circle cx="527.66" cy="373.70" r="2.25" fill="#74c8d0" fill-opacity="0.3"/>
<circle cx="527.66" cy="373.70" r="2.25" fill="none" stroke="#111" stroke-width="1.15"/>
<circle cx="528.73" cy="375.83" r="2.25" fill="#6cc8a0" fill-opacity="0.3"/>
<circle cx="528.73" cy="375.83" r="2.25" fill="none" stroke="#111" stroke-width="1.15"/>
<circle cx="528.20" cy="377.43" r="2.25" fill="#1e0a40" fill-opacity="0.3"/>
<circle cx="528.20" cy="377.43" r="2.25" fill="none" stroke="#111" stroke-width="1.15"/>
<circle cx="539.45" cy="373.70" r="2.25" fill="#3c7c5e" fill-opacity="0.3"/>
<circle cx="539.45" cy="373.70" r="2.25" fill="none" stroke="#111" stroke-width="1.15"/>
<circle cx="542.67" cy="374.24" r="2.25" fill="#34485c" fill-opacity="0.3"/>
<circle cx="542.67" cy="374.24" r="2.25" fill="none" stroke="#111" stroke-width="1.15"/>
<circle cx="540.52" cy="379.02" r="2.25" fill="#1e0a40" fill-opacity="0.3"/>
<circle cx="540.52" cy="379.02" r="2.25" fill="none" stroke="#111" stroke-width="1.15"/>
<circle cx="545.88" cy="365.72" r="2.25" fill="#3c7c5e" fill-opacity="0.3"/>
<circle cx="545.88" cy="365.72" r="2.25" fill="none" stroke="#111" stroke-width="1.15"/>
<circle cx="550.17" cy="366.79" r="2.25" fill="#34485c" fill-opacity="0.3"/>
<circle cx="550.17" cy="366.79" r="2.25" fill="none" stroke="#111" stroke-width="1.15"/>
<circle cx="556.07" cy="367.85" r="2.25" fill="#34485c" fill-opacity="0.3"/>
<circle cx="556.07" cy="367.85" r="2.25" fill="none" stroke="#111" stroke-width="1.15"/>
<line x1="522.30" y1="335.40" x2="523.90" y2="335.40" stroke="#222" stroke-width="0.6"/>
<line x1="574.30" y1="335.40" x2="575.90" y2="335.40" stroke="#222" stroke-width="0.6"/>
<line x1="522.30" y1="353.13" x2="523.90" y2="353.13" stroke="#222" stroke-width="0.6"/>
<line x1="574.30" y1="353.13" x2="575.90" y2="353.13" stroke="#222" stroke-width="0.6"/>
<line x1="522.30" y1="370.87" x2="523.90" y2="370.87" stroke="#222" stroke-width="0.6"/>
<line x1="574.30" y1="370.87" x2="575.90" y2="370.87" stroke="#222" stroke-width="0.6"/>
<line x1="522.30" y1="388.60" x2="523.90" y2="388.60" stroke="#222" stroke-width="0.6"/>
<line x1="574.30" y1="388.60" x2="575.90" y2="388.60" stroke="#222" stroke-width="0.6"/>
<line x1="524.63" y1="335.40" x2="524.63" y2="337.00" stroke="#222" stroke-width="0.6"/>
<line x1="524.63" y1="387.00" x2="524.63" y2="388.60" stroke="#222" stroke-width="0.6"/>
<line x1="537.95" y1="335.40" x2="537.95" y2="337.00" stroke="#222" stroke-width="0.6"/>
<line x1="537.95" y1="387.00" x2="537.95" y2="388.60" stroke="#222" stroke-width="0.6"/>
<line x1="551.26" y1="335.40" x2="551.26" y2="337.00" stroke="#222" stroke-width="0.6"/>
<line x1="551.26" y1="387.00" x2="551.26" y2="388.60" stroke="#222" stroke-width="0.6"/>
<line x1="564.58" y1="335.40" x2="564.58" y2="337.00" stroke="#222" stroke-width="0.6"/>
<line x1="564.58" y1="387.00" x2="564.58" y2="388.60" stroke="#222" stroke-width="0.6"/>
<rect x="522.30" y="335.40" width="53.60" height="53.20" fill="none" stroke="#111" stroke-width="1.2"/>
<text x="0" y="0" transform="translate(519.60,338.40) scale(1.1,1)" font-size="8.4" text-anchor="end">1</text>
<text x="0" y="0" transform="translate(519.60,356.13) scale(1.1,1)" font-size="8.4" text-anchor="end">0</text>
<text x="0" y="0" transform="translate(519.60,373.87) scale(1.1,1)" font-size="8.4" text-anchor="end">-1</text>
<text x="0" y="0" transform="translate(519.60,391.60) scale(1.1,1)" font-size="8.4" text-anchor="end">-2</text>
<text x="509.40" y="326.40" font-size="10.0" font-weight="bold" fill="#111" textLength="41.8" lengthAdjust="spacingAndGlyphs">TBR1 R2</text>
<text x="552.50" y="331.60" font-size="8.6" font-weight="bold" fill="#111" textLength="35.0" lengthAdjust="spacingAndGlyphs">RESUSP.</text>
<rect x="611.30" y="335.40" width="53.60" height="53.20" fill="#cccccc" stroke="none" stroke-width="1"/>
<path d="M615.05,382.75 C615.73,378.25 615.62,362.53 618.80,357.74 C621.99,352.96 625.21,356.72 632.74,356.15 C640.27,355.57 655.60,354.84 660.61,354.55" fill="none" stroke="#fff890" stroke-width="1.4949999999999999" stroke-linejoin="round" stroke-linecap="round"/>
<path d="M615.59,381.68 C617.71,381.78 623.62,381.74 627.38,382.22 C631.14,382.69 632.34,385.68 636.49,384.34 C640.64,383.00 646.09,376.68 650.43,374.77 C654.77,372.85 658.78,373.90 660.61,373.70" fill="none" stroke="#ffc634" stroke-width="1.4949999999999999" stroke-linejoin="round" stroke-linecap="round"/>
<path d="M615.59,381.15 C617.71,381.44 623.62,382.08 627.38,382.75 C631.14,383.42 632.63,384.78 636.49,384.88 C640.35,384.97 644.48,383.47 648.82,383.28 C653.16,383.09 658.49,383.72 660.61,383.81" fill="none" stroke="#fff030" stroke-width="1.4949999999999999" stroke-linejoin="round" stroke-linecap="round"/>
<path d="M615.59,382.22 C617.71,382.50 623.62,383.24 627.38,383.81 C631.14,384.39 632.15,386.08 636.49,385.41 C640.83,384.74 647.16,381.24 651.50,380.09 C655.84,378.94 658.97,379.22 660.61,379.02" fill="none" stroke="#ff6a30" stroke-width="1.4949999999999999" stroke-linejoin="round" stroke-linecap="round"/>
<path d="M615.59,383.28 C617.71,383.57 623.62,384.40 627.38,384.88 C631.14,385.35 630.51,385.75 636.49,385.94 C642.47,386.13 656.27,385.94 660.61,385.94" fill="none" stroke="#940000" stroke-width="1.7249999999999999" stroke-linejoin="round" stroke-linecap="round"/>
<circle cx="618.80" cy="357.74" r="2.25" fill="#fff890" fill-opacity="0.3"/>
<circle cx="618.80" cy="357.74" r="2.25" fill="none" stroke="#111" stroke-width="1.15"/>
<circle cx="619.34" cy="379.56" r="2.25" fill="#fff030" fill-opacity="0.3"/>
<circle cx="619.34" cy="379.56" r="2.25" fill="none" stroke="#111" stroke-width="1.15"/>
<circle cx="616.66" cy="382.75" r="2.25" fill="#ff6a30" fill-opacity="0.3"/>
<circle cx="616.66" cy="382.75" r="2.25" fill="none" stroke="#111" stroke-width="1.15"/>
<circle cx="617.73" cy="382.22" r="2.25" fill="#ff6a30" fill-opacity="0.3"/>
<circle cx="617.73" cy="382.22" r="2.25" fill="none" stroke="#111" stroke-width="1.15"/>
<circle cx="636.49" cy="384.34" r="2.25" fill="#ffc634" fill-opacity="0.3"/>
<circle cx="636.49" cy="384.34" r="2.25" fill="none" stroke="#111" stroke-width="1.15"/>
<circle cx="636.49" cy="385.94" r="2.25" fill="#940000" fill-opacity="0.3"/>
<circle cx="636.49" cy="385.94" r="2.25" fill="none" stroke="#111" stroke-width="1.15"/>
<circle cx="650.43" cy="374.77" r="2.25" fill="#ffc634" fill-opacity="0.3"/>
<circle cx="650.43" cy="374.77" r="2.25" fill="none" stroke="#111" stroke-width="1.15"/>
<circle cx="651.50" cy="380.09" r="2.25" fill="#ff6a30" fill-opacity="0.3"/>
<circle cx="651.50" cy="380.09" r="2.25" fill="none" stroke="#111" stroke-width="1.15"/>
<line x1="611.30" y1="335.40" x2="612.90" y2="335.40" stroke="#222" stroke-width="0.6"/>
<line x1="663.30" y1="335.40" x2="664.90" y2="335.40" stroke="#222" stroke-width="0.6"/>
<line x1="611.30" y1="353.13" x2="612.90" y2="353.13" stroke="#222" stroke-width="0.6"/>
<line x1="663.30" y1="353.13" x2="664.90" y2="353.13" stroke="#222" stroke-width="0.6"/>
<line x1="611.30" y1="370.87" x2="612.90" y2="370.87" stroke="#222" stroke-width="0.6"/>
<line x1="663.30" y1="370.87" x2="664.90" y2="370.87" stroke="#222" stroke-width="0.6"/>
<line x1="611.30" y1="388.60" x2="612.90" y2="388.60" stroke="#222" stroke-width="0.6"/>
<line x1="663.30" y1="388.60" x2="664.90" y2="388.60" stroke="#222" stroke-width="0.6"/>
<line x1="613.63" y1="335.40" x2="613.63" y2="337.00" stroke="#222" stroke-width="0.6"/>
<line x1="613.63" y1="387.00" x2="613.63" y2="388.60" stroke="#222" stroke-width="0.6"/>
<line x1="626.95" y1="335.40" x2="626.95" y2="337.00" stroke="#222" stroke-width="0.6"/>
<line x1="626.95" y1="387.00" x2="626.95" y2="388.60" stroke="#222" stroke-width="0.6"/>
<line x1="640.26" y1="335.40" x2="640.26" y2="337.00" stroke="#222" stroke-width="0.6"/>
<line x1="640.26" y1="387.00" x2="640.26" y2="388.60" stroke="#222" stroke-width="0.6"/>
<line x1="653.58" y1="335.40" x2="653.58" y2="337.00" stroke="#222" stroke-width="0.6"/>
<line x1="653.58" y1="387.00" x2="653.58" y2="388.60" stroke="#222" stroke-width="0.6"/>
<rect x="611.30" y="335.40" width="53.60" height="53.20" fill="none" stroke="#111" stroke-width="1.2"/>
<text x="0" y="0" transform="translate(608.60,338.40) scale(1.1,1)" font-size="8.4" text-anchor="end">1</text>
<text x="0" y="0" transform="translate(608.60,356.13) scale(1.1,1)" font-size="8.4" text-anchor="end">0</text>
<text x="0" y="0" transform="translate(608.60,373.87) scale(1.1,1)" font-size="8.4" text-anchor="end">-1</text>
<text x="0" y="0" transform="translate(608.60,391.60) scale(1.1,1)" font-size="8.4" text-anchor="end">-2</text>
<text x="590.60" y="326.40" font-size="10.0" font-weight="bold" fill="#111" textLength="57.5" lengthAdjust="spacingAndGlyphs"><tspan>TBR1</tspan><tspan font-size="11" font-weight="normal">Δ</tspan><tspan>a R2</tspan></text>
<text x="649.40" y="331.60" font-size="8.6" font-weight="bold" fill="#111" textLength="35.0" lengthAdjust="spacingAndGlyphs">RESUSP.</text>
<text x="0" y="0" transform="translate(504.00,362.30) rotate(-90)" font-size="11.2" text-anchor="middle"><tspan>log(OD</tspan><tspan font-size="7.2" dy="3.2">600</tspan><tspan dy="-3.2">)</tspan></text>
<rect x="522.30" y="412.60" width="53.60" height="53.30" fill="#cccccc" stroke="none" stroke-width="1"/>
<path d="M527.66,447.25 C527.95,445.52 528.11,439.47 529.27,437.65 C530.43,435.83 529.56,437.31 534.09,437.12 C538.63,436.93 548.86,436.78 554.46,436.58 C560.06,436.39 562.19,436.34 565.18,436.05 C568.17,435.76 570.01,435.18 571.08,434.99" fill="none" stroke="#c4f6f6" stroke-width="1.38" stroke-linejoin="round" stroke-linecap="round"/>
<path d="M527.66,452.57 C528.24,450.94 527.50,445.53 530.88,443.51 C534.25,441.50 539.18,441.86 546.42,441.38 C553.66,440.90 566.64,440.94 571.08,440.85" fill="none" stroke="#74c8d0" stroke-width="1.38" stroke-linejoin="round" stroke-linecap="round"/>
<path d="M527.66,454.17 C529.59,453.60 534.52,452.51 538.38,450.98 C542.24,449.44 543.21,446.70 549.10,445.65 C554.99,444.59 567.12,445.21 571.08,445.11" fill="none" stroke="#6cc8a0" stroke-width="1.38" stroke-linejoin="round" stroke-linecap="round"/>
<path d="M527.66,453.11 C530.07,453.01 537.68,454.59 541.06,452.57 C544.44,450.56 541.02,443.55 546.42,441.92 C551.82,440.28 566.64,443.23 571.08,443.51" fill="none" stroke="#3c7c5e" stroke-width="1.38" stroke-linejoin="round" stroke-linecap="round"/>
<path d="M527.66,455.24 C530.07,455.05 537.20,455.52 541.06,454.17 C544.92,452.83 543.70,448.93 549.10,447.78 C554.50,446.63 567.12,447.78 571.08,447.78" fill="none" stroke="#34485c" stroke-width="1.38" stroke-linejoin="round" stroke-linecap="round"/>
<path d="M525.52,457.37 C526.38,456.80 527.06,454.37 530.34,454.17 C533.62,453.98 536.41,455.54 543.74,456.31 C551.07,457.07 566.16,458.05 571.08,458.44" fill="none" stroke="#1e0a40" stroke-width="1.4949999999999999" stroke-linejoin="round" stroke-linecap="round"/>
<circle cx="529.27" cy="437.65" r="2.25" fill="#c4f6f6" fill-opacity="0.3"/>
<circle cx="529.27" cy="437.65" r="2.25" fill="none" stroke="#111" stroke-width="1.15"/>
<circle cx="530.88" cy="443.51" r="2.25" fill="#74c8d0" fill-opacity="0.3"/>
<circle cx="530.88" cy="443.51" r="2.25" fill="none" stroke="#111" stroke-width="1.15"/>
<circle cx="528.73" cy="450.44" r="2.25" fill="#74c8d0" fill-opacity="0.3"/>
<circle cx="528.73" cy="450.44" r="2.25" fill="none" stroke="#111" stroke-width="1.15"/>
<circle cx="528.20" cy="452.57" r="2.25" fill="#74c8d0" fill-opacity="0.3"/>
<circle cx="528.20" cy="452.57" r="2.25" fill="none" stroke="#111" stroke-width="1.15"/>
<circle cx="528.73" cy="455.24" r="2.25" fill="#1e0a40" fill-opacity="0.3"/>
<circle cx="528.73" cy="455.24" r="2.25" fill="none" stroke="#111" stroke-width="1.15"/>
<circle cx="540.52" cy="450.98" r="2.25" fill="#6cc8a0" fill-opacity="0.3"/>
<circle cx="540.52" cy="450.98" r="2.25" fill="none" stroke="#111" stroke-width="1.15"/>
<circle cx="541.06" cy="453.64" r="2.25" fill="#34485c" fill-opacity="0.3"/>
<circle cx="541.06" cy="453.64" r="2.25" fill="none" stroke="#111" stroke-width="1.15"/>
<circle cx="546.42" cy="441.92" r="2.25" fill="#3c7c5e" fill-opacity="0.3"/>
<circle cx="546.42" cy="441.92" r="2.25" fill="none" stroke="#111" stroke-width="1.15"/>
<circle cx="550.71" cy="445.11" r="2.25" fill="#6cc8a0" fill-opacity="0.3"/>
<circle cx="550.71" cy="445.11" r="2.25" fill="none" stroke="#111" stroke-width="1.15"/>
<circle cx="548.56" cy="447.25" r="2.25" fill="#34485c" fill-opacity="0.3"/>
<circle cx="548.56" cy="447.25" r="2.25" fill="none" stroke="#111" stroke-width="1.15"/>
<circle cx="543.20" cy="452.04" r="2.25" fill="#34485c" fill-opacity="0.3"/>
<circle cx="543.20" cy="452.04" r="2.25" fill="none" stroke="#111" stroke-width="1.15"/>
<line x1="522.30" y1="412.60" x2="523.90" y2="412.60" stroke="#222" stroke-width="0.6"/>
<line x1="574.30" y1="412.60" x2="575.90" y2="412.60" stroke="#222" stroke-width="0.6"/>
<line x1="522.30" y1="430.37" x2="523.90" y2="430.37" stroke="#222" stroke-width="0.6"/>
<line x1="574.30" y1="430.37" x2="575.90" y2="430.37" stroke="#222" stroke-width="0.6"/>
<line x1="522.30" y1="448.13" x2="523.90" y2="448.13" stroke="#222" stroke-width="0.6"/>
<line x1="574.30" y1="448.13" x2="575.90" y2="448.13" stroke="#222" stroke-width="0.6"/>
<line x1="522.30" y1="465.90" x2="523.90" y2="465.90" stroke="#222" stroke-width="0.6"/>
<line x1="574.30" y1="465.90" x2="575.90" y2="465.90" stroke="#222" stroke-width="0.6"/>
<line x1="524.63" y1="412.60" x2="524.63" y2="414.20" stroke="#222" stroke-width="0.6"/>
<line x1="524.63" y1="464.30" x2="524.63" y2="465.90" stroke="#222" stroke-width="0.6"/>
<line x1="537.95" y1="412.60" x2="537.95" y2="414.20" stroke="#222" stroke-width="0.6"/>
<line x1="537.95" y1="464.30" x2="537.95" y2="465.90" stroke="#222" stroke-width="0.6"/>
<line x1="551.26" y1="412.60" x2="551.26" y2="414.20" stroke="#222" stroke-width="0.6"/>
<line x1="551.26" y1="464.30" x2="551.26" y2="465.90" stroke="#222" stroke-width="0.6"/>
<line x1="564.58" y1="412.60" x2="564.58" y2="414.20" stroke="#222" stroke-width="0.6"/>
<line x1="564.58" y1="464.30" x2="564.58" y2="465.90" stroke="#222" stroke-width="0.6"/>
<rect x="522.30" y="412.60" width="53.60" height="53.30" fill="none" stroke="#111" stroke-width="1.2"/>
<text x="0" y="0" transform="translate(519.60,415.60) scale(1.1,1)" font-size="8.4" text-anchor="end">1</text>
<text x="0" y="0" transform="translate(519.60,433.37) scale(1.1,1)" font-size="8.4" text-anchor="end">0</text>
<text x="0" y="0" transform="translate(519.60,451.13) scale(1.1,1)" font-size="8.4" text-anchor="end">-1</text>
<text x="0" y="0" transform="translate(519.60,468.90) scale(1.1,1)" font-size="8.4" text-anchor="end">-2</text>
<text x="0" y="0" transform="translate(524.63,476.80) scale(1.16,1)" font-size="8.3" text-anchor="middle">0</text>
<text x="0" y="0" transform="translate(537.95,476.80) scale(1.16,1)" font-size="8.3" text-anchor="middle">20</text>
<text x="0" y="0" transform="translate(551.26,476.80) scale(1.16,1)" font-size="8.3" text-anchor="middle">40</text>
<text x="0" y="0" transform="translate(564.58,476.80) scale(1.16,1)" font-size="8.3" text-anchor="middle">60</text>
<text x="549.10" y="489.40" font-size="9.9" text-anchor="middle" textLength="46.0" lengthAdjust="spacingAndGlyphs">Time (hrs)</text>
<text x="509.40" y="403.60" font-size="10.0" font-weight="bold" fill="#111" textLength="41.8" lengthAdjust="spacingAndGlyphs">TBR1 R3</text>
<text x="552.50" y="408.80" font-size="8.6" font-weight="bold" fill="#111" textLength="35.0" lengthAdjust="spacingAndGlyphs">RESUSP.</text>
<rect x="611.30" y="412.60" width="53.60" height="53.30" fill="#cccccc" stroke="none" stroke-width="1"/>
<path d="M615.05,460.57 C615.73,455.87 615.62,439.35 618.80,434.45 C621.99,429.56 625.21,433.91 632.74,433.39 C640.27,432.86 655.60,431.86 660.61,431.52" fill="none" stroke="#fff890" stroke-width="1.4949999999999999" stroke-linejoin="round" stroke-linecap="round"/>
<path d="M615.59,457.90 C617.71,458.00 622.36,458.05 627.38,458.44 C632.40,458.82 638.64,459.65 643.46,460.04 C648.28,460.42 651.09,462.01 654.18,460.57 C657.27,459.13 659.45,453.58 660.61,452.04" fill="none" stroke="#fff030" stroke-width="1.4949999999999999" stroke-linejoin="round" stroke-linecap="round"/>
<path d="M615.59,458.97 C617.71,459.07 622.36,459.12 627.38,459.50 C632.40,459.89 637.48,460.82 643.46,461.10 C649.44,461.39 657.52,461.10 660.61,461.10" fill="none" stroke="#ffc634" stroke-width="1.6099999999999999" stroke-linejoin="round" stroke-linecap="round"/>
<path d="M615.59,460.04 C617.71,460.13 622.36,460.28 627.38,460.57 C632.40,460.86 637.48,461.44 643.46,461.64 C649.44,461.83 657.52,461.64 660.61,461.64" fill="none" stroke="#ff6a30" stroke-width="1.6099999999999999" stroke-linejoin="round" stroke-linecap="round"/>
<path d="M615.59,460.57 C617.71,460.76 622.36,461.25 627.38,461.64 C632.40,462.02 637.48,462.61 643.46,462.70 C649.44,462.80 657.52,462.26 660.61,462.17" fill="none" stroke="#940000" stroke-width="1.7249999999999999" stroke-linejoin="round" stroke-linecap="round"/>
<circle cx="618.80" cy="434.45" r="2.25" fill="#fff890" fill-opacity="0.3"/>
<circle cx="618.80" cy="434.45" r="2.25" fill="none" stroke="#111" stroke-width="1.15"/>
<circle cx="618.80" cy="456.84" r="2.25" fill="#fff030" fill-opacity="0.3"/>
<circle cx="618.80" cy="456.84" r="2.25" fill="none" stroke="#111" stroke-width="1.15"/>
<circle cx="618.27" cy="459.50" r="2.25" fill="#ffc634" fill-opacity="0.3"/>
<circle cx="618.27" cy="459.50" r="2.25" fill="none" stroke="#111" stroke-width="1.15"/>
<circle cx="654.18" cy="460.04" r="2.25" fill="#fff030" fill-opacity="0.3"/>
<circle cx="654.18" cy="460.04" r="2.25" fill="none" stroke="#111" stroke-width="1.15"/>
<line x1="611.30" y1="412.60" x2="612.90" y2="412.60" stroke="#222" stroke-width="0.6"/>
<line x1="663.30" y1="412.60" x2="664.90" y2="412.60" stroke="#222" stroke-width="0.6"/>
<line x1="611.30" y1="430.37" x2="612.90" y2="430.37" stroke="#222" stroke-width="0.6"/>
<line x1="663.30" y1="430.37" x2="664.90" y2="430.37" stroke="#222" stroke-width="0.6"/>
<line x1="611.30" y1="448.13" x2="612.90" y2="448.13" stroke="#222" stroke-width="0.6"/>
<line x1="663.30" y1="448.13" x2="664.90" y2="448.13" stroke="#222" stroke-width="0.6"/>
<line x1="611.30" y1="465.90" x2="612.90" y2="465.90" stroke="#222" stroke-width="0.6"/>
<line x1="663.30" y1="465.90" x2="664.90" y2="465.90" stroke="#222" stroke-width="0.6"/>
<line x1="613.63" y1="412.60" x2="613.63" y2="414.20" stroke="#222" stroke-width="0.6"/>
<line x1="613.63" y1="464.30" x2="613.63" y2="465.90" stroke="#222" stroke-width="0.6"/>
<line x1="626.95" y1="412.60" x2="626.95" y2="414.20" stroke="#222" stroke-width="0.6"/>
<line x1="626.95" y1="464.30" x2="626.95" y2="465.90" stroke="#222" stroke-width="0.6"/>
<line x1="640.26" y1="412.60" x2="640.26" y2="414.20" stroke="#222" stroke-width="0.6"/>
<line x1="640.26" y1="464.30" x2="640.26" y2="465.90" stroke="#222" stroke-width="0.6"/>
<line x1="653.58" y1="412.60" x2="653.58" y2="414.20" stroke="#222" stroke-width="0.6"/>
<line x1="653.58" y1="464.30" x2="653.58" y2="465.90" stroke="#222" stroke-width="0.6"/>
<rect x="611.30" y="412.60" width="53.60" height="53.30" fill="none" stroke="#111" stroke-width="1.2"/>
<text x="0" y="0" transform="translate(608.60,415.60) scale(1.1,1)" font-size="8.4" text-anchor="end">1</text>
<text x="0" y="0" transform="translate(608.60,433.37) scale(1.1,1)" font-size="8.4" text-anchor="end">0</text>
<text x="0" y="0" transform="translate(608.60,451.13) scale(1.1,1)" font-size="8.4" text-anchor="end">-1</text>
<text x="0" y="0" transform="translate(608.60,468.90) scale(1.1,1)" font-size="8.4" text-anchor="end">-2</text>
<text x="0" y="0" transform="translate(613.63,476.80) scale(1.16,1)" font-size="8.3" text-anchor="middle">0</text>
<text x="0" y="0" transform="translate(626.95,476.80) scale(1.16,1)" font-size="8.3" text-anchor="middle">20</text>
<text x="0" y="0" transform="translate(640.26,476.80) scale(1.16,1)" font-size="8.3" text-anchor="middle">40</text>
<text x="0" y="0" transform="translate(653.58,476.80) scale(1.16,1)" font-size="8.3" text-anchor="middle">60</text>
<text x="638.10" y="489.40" font-size="9.9" text-anchor="middle" textLength="46.0" lengthAdjust="spacingAndGlyphs">Time (hrs)</text>
<text x="590.60" y="403.60" font-size="10.0" font-weight="bold" fill="#111" textLength="57.5" lengthAdjust="spacingAndGlyphs"><tspan>TBR1</tspan><tspan font-size="11" font-weight="normal">Δ</tspan><tspan>a R3</tspan></text>
<text x="649.40" y="408.80" font-size="8.6" font-weight="bold" fill="#111" textLength="35.0" lengthAdjust="spacingAndGlyphs">RESUSP.</text>
<text x="0" y="0" transform="translate(504.00,439.55) rotate(-90)" font-size="11.2" text-anchor="middle"><tspan>log(OD</tspan><tspan font-size="7.2" dy="3.2">600</tspan><tspan dy="-3.2">)</tspan></text>
<rect x="287.50" y="46.90" width="82.20" height="41.10" fill="#fff" stroke="none" stroke-width="1"/>
<rect x="302.43" y="74.31" width="11.23" height="13.69" fill="#74c8d0" stroke="#111" stroke-width="0.9"/>
<rect x="316.13" y="78.05" width="11.23" height="9.95" fill="#6cc8a0" stroke="#111" stroke-width="0.9"/>
<rect x="329.83" y="80.27" width="11.23" height="7.73" fill="#3c7c5e" stroke="#111" stroke-width="0.9"/>
<rect x="343.53" y="80.27" width="11.23" height="7.73" fill="#34485c" stroke="#111" stroke-width="0.9"/>
<rect x="357.23" y="81.01" width="11.23" height="6.99" fill="#1e0a40" stroke="#111" stroke-width="0.9"/>
<line x1="308.05" y1="83.89" x2="308.05" y2="64.57" stroke="#111" stroke-width="0.9"/>
<line x1="321.75" y1="79.78" x2="321.75" y2="75.26" stroke="#111" stroke-width="0.9"/>
<circle cx="308.05" cy="64.57" r="1.45" fill="#d40000" stroke="#400000" stroke-width="0.6"/>
<circle cx="308.05" cy="78.96" r="1.45" fill="#d40000" stroke="#400000" stroke-width="0.6"/>
<circle cx="308.05" cy="80.19" r="1.45" fill="#d40000" stroke="#400000" stroke-width="0.6"/>
<circle cx="321.75" cy="75.26" r="1.45" fill="#d40000" stroke="#400000" stroke-width="0.6"/>
<circle cx="321.75" cy="78.96" r="1.45" fill="#d40000" stroke="#400000" stroke-width="0.6"/>
<circle cx="335.45" cy="80.19" r="1.45" fill="#d40000" stroke="#400000" stroke-width="0.6"/>
<circle cx="349.15" cy="80.19" r="1.45" fill="#d40000" stroke="#400000" stroke-width="0.6"/>
<circle cx="362.85" cy="80.60" r="1.45" fill="#d40000" stroke="#400000" stroke-width="0.6"/>
<line x1="287.50" y1="88.00" x2="288.90" y2="88.00" stroke="#222" stroke-width="0.6"/>
<line x1="368.30" y1="88.00" x2="369.70" y2="88.00" stroke="#222" stroke-width="0.6"/>
<text x="284.80" y="90.60" font-size="7.4" text-anchor="end">0</text>
<line x1="287.50" y1="67.45" x2="288.90" y2="67.45" stroke="#222" stroke-width="0.6"/>
<line x1="368.30" y1="67.45" x2="369.70" y2="67.45" stroke="#222" stroke-width="0.6"/>
<text x="284.80" y="70.05" font-size="7.4" text-anchor="end">0.05</text>
<line x1="287.50" y1="46.90" x2="288.90" y2="46.90" stroke="#222" stroke-width="0.6"/>
<line x1="368.30" y1="46.90" x2="369.70" y2="46.90" stroke="#222" stroke-width="0.6"/>
<text x="284.80" y="49.50" font-size="7.4" text-anchor="end">0.1</text>
<line x1="294.35" y1="46.90" x2="294.35" y2="48.30" stroke="#222" stroke-width="0.6"/>
<line x1="294.35" y1="86.60" x2="294.35" y2="88.00" stroke="#222" stroke-width="0.6"/>
<line x1="308.05" y1="46.90" x2="308.05" y2="48.30" stroke="#222" stroke-width="0.6"/>
<line x1="308.05" y1="86.60" x2="308.05" y2="88.00" stroke="#222" stroke-width="0.6"/>
<line x1="321.75" y1="46.90" x2="321.75" y2="48.30" stroke="#222" stroke-width="0.6"/>
<line x1="321.75" y1="86.60" x2="321.75" y2="88.00" stroke="#222" stroke-width="0.6"/>
<line x1="335.45" y1="46.90" x2="335.45" y2="48.30" stroke="#222" stroke-width="0.6"/>
<line x1="335.45" y1="86.60" x2="335.45" y2="88.00" stroke="#222" stroke-width="0.6"/>
<line x1="349.15" y1="46.90" x2="349.15" y2="48.30" stroke="#222" stroke-width="0.6"/>
<line x1="349.15" y1="86.60" x2="349.15" y2="88.00" stroke="#222" stroke-width="0.6"/>
<line x1="362.85" y1="46.90" x2="362.85" y2="48.30" stroke="#222" stroke-width="0.6"/>
<line x1="362.85" y1="86.60" x2="362.85" y2="88.00" stroke="#222" stroke-width="0.6"/>
<rect x="287.50" y="46.90" width="82.20" height="41.10" fill="none" stroke="#111" stroke-width="1.1"/>
<text x="0" y="0" transform="translate(299.35,95.20) rotate(-45) scale(1.06,1)" font-size="7.5" text-anchor="end">0</text>
<text x="0" y="0" transform="translate(313.05,95.20) rotate(-45) scale(1.06,1)" font-size="7.5" text-anchor="end">0.2</text>
<text x="0" y="0" transform="translate(326.75,95.20) rotate(-45) scale(1.06,1)" font-size="7.5" text-anchor="end">0.4</text>
<text x="0" y="0" transform="translate(340.45,95.20) rotate(-45) scale(1.06,1)" font-size="7.5" text-anchor="end">0.6</text>
<text x="0" y="0" transform="translate(354.15,95.20) rotate(-45) scale(1.06,1)" font-size="7.5" text-anchor="end">0.8</text>
<text x="0" y="0" transform="translate(367.85,95.20) rotate(-45) scale(1.06,1)" font-size="7.5" text-anchor="end">1</text>
<rect x="399.50" y="46.90" width="82.90" height="41.10" fill="#fff" stroke="none" stroke-width="1"/>
<rect x="414.56" y="69.50" width="11.33" height="18.50" fill="#fff030" stroke="#111" stroke-width="0.9"/>
<line x1="420.23" y1="75.26" x2="420.23" y2="62.52" stroke="#111" stroke-width="0.9"/>
<circle cx="420.23" cy="62.52" r="1.45" fill="#d40000" stroke="#400000" stroke-width="0.6"/>
<circle cx="420.23" cy="71.56" r="1.45" fill="#d40000" stroke="#400000" stroke-width="0.6"/>
<circle cx="420.23" cy="75.26" r="1.45" fill="#d40000" stroke="#400000" stroke-width="0.6"/>
<line x1="399.50" y1="88.00" x2="400.90" y2="88.00" stroke="#222" stroke-width="0.6"/>
<line x1="481.00" y1="88.00" x2="482.40" y2="88.00" stroke="#222" stroke-width="0.6"/>
<text x="396.80" y="90.60" font-size="7.4" text-anchor="end">0</text>
<line x1="399.50" y1="67.45" x2="400.90" y2="67.45" stroke="#222" stroke-width="0.6"/>
<line x1="481.00" y1="67.45" x2="482.40" y2="67.45" stroke="#222" stroke-width="0.6"/>
<text x="396.80" y="70.05" font-size="7.4" text-anchor="end">0.05</text>
<line x1="399.50" y1="46.90" x2="400.90" y2="46.90" stroke="#222" stroke-width="0.6"/>
<line x1="481.00" y1="46.90" x2="482.40" y2="46.90" stroke="#222" stroke-width="0.6"/>
<text x="396.80" y="49.50" font-size="7.4" text-anchor="end">0.1</text>
<line x1="406.41" y1="46.90" x2="406.41" y2="48.30" stroke="#222" stroke-width="0.6"/>
<line x1="406.41" y1="86.60" x2="406.41" y2="88.00" stroke="#222" stroke-width="0.6"/>
<line x1="420.23" y1="46.90" x2="420.23" y2="48.30" stroke="#222" stroke-width="0.6"/>
<line x1="420.23" y1="86.60" x2="420.23" y2="88.00" stroke="#222" stroke-width="0.6"/>
<line x1="434.04" y1="46.90" x2="434.04" y2="48.30" stroke="#222" stroke-width="0.6"/>
<line x1="434.04" y1="86.60" x2="434.04" y2="88.00" stroke="#222" stroke-width="0.6"/>
<line x1="447.86" y1="46.90" x2="447.86" y2="48.30" stroke="#222" stroke-width="0.6"/>
<line x1="447.86" y1="86.60" x2="447.86" y2="88.00" stroke="#222" stroke-width="0.6"/>
<line x1="461.67" y1="46.90" x2="461.67" y2="48.30" stroke="#222" stroke-width="0.6"/>
<line x1="461.67" y1="86.60" x2="461.67" y2="88.00" stroke="#222" stroke-width="0.6"/>
<line x1="475.49" y1="46.90" x2="475.49" y2="48.30" stroke="#222" stroke-width="0.6"/>
<line x1="475.49" y1="86.60" x2="475.49" y2="88.00" stroke="#222" stroke-width="0.6"/>
<rect x="399.50" y="46.90" width="82.90" height="41.10" fill="none" stroke="#111" stroke-width="1.1"/>
<text x="0" y="0" transform="translate(411.41,95.20) rotate(-45) scale(1.06,1)" font-size="7.5" text-anchor="end">0</text>
<text x="0" y="0" transform="translate(425.23,95.20) rotate(-45) scale(1.06,1)" font-size="7.5" text-anchor="end">0.2</text>
<text x="0" y="0" transform="translate(439.04,95.20) rotate(-45) scale(1.06,1)" font-size="7.5" text-anchor="end">0.4</text>
<text x="0" y="0" transform="translate(452.86,95.20) rotate(-45) scale(1.06,1)" font-size="7.5" text-anchor="end">0.6</text>
<text x="0" y="0" transform="translate(466.67,95.20) rotate(-45) scale(1.06,1)" font-size="7.5" text-anchor="end">0.8</text>
<text x="0" y="0" transform="translate(480.49,95.20) rotate(-45) scale(1.06,1)" font-size="7.5" text-anchor="end">1</text>
<rect x="287.50" y="106.30" width="82.20" height="41.20" fill="#fff" stroke="none" stroke-width="1"/>
<rect x="302.43" y="145.41" width="11.23" height="2.09" fill="#74c8d0" stroke="#111" stroke-width="0.9"/>
<rect x="316.13" y="145.63" width="11.23" height="1.87" fill="#6cc8a0" stroke="#111" stroke-width="0.9"/>
<rect x="329.83" y="145.52" width="11.23" height="1.98" fill="#3c7c5e" stroke="#111" stroke-width="0.9"/>
<rect x="343.53" y="145.69" width="11.23" height="1.81" fill="#34485c" stroke="#111" stroke-width="0.9"/>
<rect x="357.23" y="145.69" width="11.23" height="1.81" fill="#1e0a40" stroke="#111" stroke-width="0.9"/>
<circle cx="308.05" cy="144.48" r="1.45" fill="#d40000" stroke="#400000" stroke-width="0.6"/>
<circle cx="308.05" cy="145.85" r="1.45" fill="#d40000" stroke="#400000" stroke-width="0.6"/>
<circle cx="321.75" cy="145.63" r="1.45" fill="#d40000" stroke="#400000" stroke-width="0.6"/>
<circle cx="335.45" cy="145.30" r="1.45" fill="#d40000" stroke="#400000" stroke-width="0.6"/>
<circle cx="349.15" cy="145.69" r="1.45" fill="#d40000" stroke="#400000" stroke-width="0.6"/>
<circle cx="362.85" cy="145.69" r="1.45" fill="#d40000" stroke="#400000" stroke-width="0.6"/>
<line x1="287.50" y1="147.50" x2="288.90" y2="147.50" stroke="#222" stroke-width="0.6"/>
<line x1="368.30" y1="147.50" x2="369.70" y2="147.50" stroke="#222" stroke-width="0.6"/>
<text x="284.80" y="150.10" font-size="7.4" text-anchor="end">0</text>
<line x1="287.50" y1="120.03" x2="288.90" y2="120.03" stroke="#222" stroke-width="0.6"/>
<line x1="368.30" y1="120.03" x2="369.70" y2="120.03" stroke="#222" stroke-width="0.6"/>
<text x="284.80" y="122.63" font-size="7.4" text-anchor="end">50</text>
<line x1="294.35" y1="106.30" x2="294.35" y2="107.70" stroke="#222" stroke-width="0.6"/>
<line x1="294.35" y1="146.10" x2="294.35" y2="147.50" stroke="#222" stroke-width="0.6"/>
<line x1="308.05" y1="106.30" x2="308.05" y2="107.70" stroke="#222" stroke-width="0.6"/>
<line x1="308.05" y1="146.10" x2="308.05" y2="147.50" stroke="#222" stroke-width="0.6"/>
<line x1="321.75" y1="106.30" x2="321.75" y2="107.70" stroke="#222" stroke-width="0.6"/>
<line x1="321.75" y1="146.10" x2="321.75" y2="147.50" stroke="#222" stroke-width="0.6"/>
<line x1="335.45" y1="106.30" x2="335.45" y2="107.70" stroke="#222" stroke-width="0.6"/>
<line x1="335.45" y1="146.10" x2="335.45" y2="147.50" stroke="#222" stroke-width="0.6"/>
<line x1="349.15" y1="106.30" x2="349.15" y2="107.70" stroke="#222" stroke-width="0.6"/>
<line x1="349.15" y1="146.10" x2="349.15" y2="147.50" stroke="#222" stroke-width="0.6"/>
<line x1="362.85" y1="106.30" x2="362.85" y2="107.70" stroke="#222" stroke-width="0.6"/>
<line x1="362.85" y1="146.10" x2="362.85" y2="147.50" stroke="#222" stroke-width="0.6"/>
<rect x="287.50" y="106.30" width="82.20" height="41.20" fill="none" stroke="#111" stroke-width="1.1"/>
<text x="0" y="0" transform="translate(299.35,154.70) rotate(-45) scale(1.06,1)" font-size="7.5" text-anchor="end">0</text>
<text x="0" y="0" transform="translate(313.05,154.70) rotate(-45) scale(1.06,1)" font-size="7.5" text-anchor="end">0.2</text>
<text x="0" y="0" transform="translate(326.75,154.70) rotate(-45) scale(1.06,1)" font-size="7.5" text-anchor="end">0.4</text>
<text x="0" y="0" transform="translate(340.45,154.70) rotate(-45) scale(1.06,1)" font-size="7.5" text-anchor="end">0.6</text>
<text x="0" y="0" transform="translate(354.15,154.70) rotate(-45) scale(1.06,1)" font-size="7.5" text-anchor="end">0.8</text>
<text x="0" y="0" transform="translate(367.85,154.70) rotate(-45) scale(1.06,1)" font-size="7.5" text-anchor="end">1</text>
<rect x="399.50" y="106.30" width="82.90" height="41.20" fill="#fff" stroke="none" stroke-width="1"/>
<rect x="414.56" y="125.53" width="11.33" height="21.97" fill="#fff030" stroke="#111" stroke-width="0.9"/>
<rect x="428.38" y="109.05" width="11.33" height="38.45" fill="#ffc634" stroke="#111" stroke-width="0.9"/>
<rect x="442.19" y="109.05" width="11.33" height="38.45" fill="#ff6a30" stroke="#111" stroke-width="0.9"/>
<rect x="456.01" y="109.05" width="11.33" height="38.45" fill="#c04008" stroke="#111" stroke-width="0.9"/>
<rect x="469.83" y="109.05" width="11.33" height="38.45" fill="#940000" stroke="#111" stroke-width="0.9"/>
<line x1="420.23" y1="127.72" x2="420.23" y2="123.33" stroke="#111" stroke-width="0.9"/>
<circle cx="420.23" cy="123.33" r="1.45" fill="#d40000" stroke="#400000" stroke-width="0.6"/>
<circle cx="420.23" cy="126.08" r="1.45" fill="#d40000" stroke="#400000" stroke-width="0.6"/>
<circle cx="420.23" cy="127.17" r="1.45" fill="#d40000" stroke="#400000" stroke-width="0.6"/>
<circle cx="434.04" cy="108.22" r="1.45" fill="#d40000" stroke="#400000" stroke-width="0.6"/>
<circle cx="447.86" cy="108.22" r="1.45" fill="#d40000" stroke="#400000" stroke-width="0.6"/>
<circle cx="461.67" cy="108.22" r="1.45" fill="#d40000" stroke="#400000" stroke-width="0.6"/>
<circle cx="475.49" cy="108.22" r="1.45" fill="#d40000" stroke="#400000" stroke-width="0.6"/>
<line x1="399.50" y1="147.50" x2="400.90" y2="147.50" stroke="#222" stroke-width="0.6"/>
<line x1="481.00" y1="147.50" x2="482.40" y2="147.50" stroke="#222" stroke-width="0.6"/>
<text x="396.80" y="150.10" font-size="7.4" text-anchor="end">0</text>
<line x1="399.50" y1="120.03" x2="400.90" y2="120.03" stroke="#222" stroke-width="0.6"/>
<line x1="481.00" y1="120.03" x2="482.40" y2="120.03" stroke="#222" stroke-width="0.6"/>
<text x="396.80" y="122.63" font-size="7.4" text-anchor="end">50</text>
<line x1="406.41" y1="106.30" x2="406.41" y2="107.70" stroke="#222" stroke-width="0.6"/>
<line x1="406.41" y1="146.10" x2="406.41" y2="147.50" stroke="#222" stroke-width="0.6"/>
<line x1="420.23" y1="106.30" x2="420.23" y2="107.70" stroke="#222" stroke-width="0.6"/>
<line x1="420.23" y1="146.10" x2="420.23" y2="147.50" stroke="#222" stroke-width="0.6"/>
<line x1="434.04" y1="106.30" x2="434.04" y2="107.70" stroke="#222" stroke-width="0.6"/>
<line x1="434.04" y1="146.10" x2="434.04" y2="147.50" stroke="#222" stroke-width="0.6"/>
<line x1="447.86" y1="106.30" x2="447.86" y2="107.70" stroke="#222" stroke-width="0.6"/>
<line x1="447.86" y1="146.10" x2="447.86" y2="147.50" stroke="#222" stroke-width="0.6"/>
<line x1="461.67" y1="106.30" x2="461.67" y2="107.70" stroke="#222" stroke-width="0.6"/>
<line x1="461.67" y1="146.10" x2="461.67" y2="147.50" stroke="#222" stroke-width="0.6"/>
<line x1="475.49" y1="106.30" x2="475.49" y2="107.70" stroke="#222" stroke-width="0.6"/>
<line x1="475.49" y1="146.10" x2="475.49" y2="147.50" stroke="#222" stroke-width="0.6"/>
<rect x="399.50" y="106.30" width="82.90" height="41.20" fill="none" stroke="#111" stroke-width="1.1"/>
<text x="0" y="0" transform="translate(411.41,154.70) rotate(-45) scale(1.06,1)" font-size="7.5" text-anchor="end">0</text>
<text x="0" y="0" transform="translate(425.23,154.70) rotate(-45) scale(1.06,1)" font-size="7.5" text-anchor="end">0.2</text>
<text x="0" y="0" transform="translate(439.04,154.70) rotate(-45) scale(1.06,1)" font-size="7.5" text-anchor="end">0.4</text>
<text x="0" y="0" transform="translate(452.86,154.70) rotate(-45) scale(1.06,1)" font-size="7.5" text-anchor="end">0.6</text>
<text x="0" y="0" transform="translate(466.67,154.70) rotate(-45) scale(1.06,1)" font-size="7.5" text-anchor="end">0.8</text>
<text x="0" y="0" transform="translate(480.49,154.70) rotate(-45) scale(1.06,1)" font-size="7.5" text-anchor="end">1</text>
<rect x="287.50" y="163.80" width="82.20" height="40.70" fill="#fff" stroke="none" stroke-width="1"/>
<rect x="288.73" y="185.51" width="11.23" height="18.99" fill="#c4f6f6" stroke="#111" stroke-width="0.9"/>
<rect x="302.43" y="188.22" width="11.23" height="16.28" fill="#74c8d0" stroke="#111" stroke-width="0.9"/>
<rect x="316.13" y="194.19" width="11.23" height="10.31" fill="#6cc8a0" stroke="#111" stroke-width="0.9"/>
<rect x="329.83" y="191.75" width="11.23" height="12.75" fill="#3c7c5e" stroke="#111" stroke-width="0.9"/>
<rect x="343.53" y="194.73" width="11.23" height="9.77" fill="#34485c" stroke="#111" stroke-width="0.9"/>
<rect x="357.23" y="193.65" width="11.23" height="10.85" fill="#1e0a40" stroke="#111" stroke-width="0.9"/>
<line x1="308.05" y1="190.93" x2="308.05" y2="183.34" stroke="#111" stroke-width="0.9"/>
<line x1="335.45" y1="193.65" x2="335.45" y2="187.13" stroke="#111" stroke-width="0.9"/>
<circle cx="294.35" cy="185.24" r="1.45" fill="#d40000" stroke="#400000" stroke-width="0.6"/>
<circle cx="294.35" cy="185.78" r="1.45" fill="#d40000" stroke="#400000" stroke-width="0.6"/>
<circle cx="308.05" cy="183.34" r="1.45" fill="#d40000" stroke="#400000" stroke-width="0.6"/>
<circle cx="308.05" cy="189.58" r="1.45" fill="#d40000" stroke="#400000" stroke-width="0.6"/>
<circle cx="321.75" cy="193.65" r="1.45" fill="#d40000" stroke="#400000" stroke-width="0.6"/>
<circle cx="321.75" cy="194.73" r="1.45" fill="#d40000" stroke="#400000" stroke-width="0.6"/>
<circle cx="335.45" cy="187.13" r="1.45" fill="#d40000" stroke="#400000" stroke-width="0.6"/>
<circle cx="335.45" cy="193.65" r="1.45" fill="#d40000" stroke="#400000" stroke-width="0.6"/>
<circle cx="349.15" cy="194.46" r="1.45" fill="#d40000" stroke="#400000" stroke-width="0.6"/>
<circle cx="362.85" cy="193.10" r="1.45" fill="#d40000" stroke="#400000" stroke-width="0.6"/>
<circle cx="362.85" cy="193.65" r="1.45" fill="#d40000" stroke="#400000" stroke-width="0.6"/>
<line x1="287.50" y1="204.50" x2="288.90" y2="204.50" stroke="#222" stroke-width="0.6"/>
<line x1="368.30" y1="204.50" x2="369.70" y2="204.50" stroke="#222" stroke-width="0.6"/>
<text x="284.80" y="207.10" font-size="7.4" text-anchor="end">0</text>
<line x1="287.50" y1="190.93" x2="288.90" y2="190.93" stroke="#222" stroke-width="0.6"/>
<line x1="368.30" y1="190.93" x2="369.70" y2="190.93" stroke="#222" stroke-width="0.6"/>
<text x="284.80" y="193.53" font-size="7.4" text-anchor="end">0.5</text>
<line x1="287.50" y1="177.37" x2="288.90" y2="177.37" stroke="#222" stroke-width="0.6"/>
<line x1="368.30" y1="177.37" x2="369.70" y2="177.37" stroke="#222" stroke-width="0.6"/>
<text x="284.80" y="179.97" font-size="7.4" text-anchor="end">1</text>
<line x1="287.50" y1="163.80" x2="288.90" y2="163.80" stroke="#222" stroke-width="0.6"/>
<line x1="368.30" y1="163.80" x2="369.70" y2="163.80" stroke="#222" stroke-width="0.6"/>
<text x="284.80" y="166.40" font-size="7.4" text-anchor="end">1.5</text>
<line x1="294.35" y1="163.80" x2="294.35" y2="165.20" stroke="#222" stroke-width="0.6"/>
<line x1="294.35" y1="203.10" x2="294.35" y2="204.50" stroke="#222" stroke-width="0.6"/>
<line x1="308.05" y1="163.80" x2="308.05" y2="165.20" stroke="#222" stroke-width="0.6"/>
<line x1="308.05" y1="203.10" x2="308.05" y2="204.50" stroke="#222" stroke-width="0.6"/>
<line x1="321.75" y1="163.80" x2="321.75" y2="165.20" stroke="#222" stroke-width="0.6"/>
<line x1="321.75" y1="203.10" x2="321.75" y2="204.50" stroke="#222" stroke-width="0.6"/>
<line x1="335.45" y1="163.80" x2="335.45" y2="165.20" stroke="#222" stroke-width="0.6"/>
<line x1="335.45" y1="203.10" x2="335.45" y2="204.50" stroke="#222" stroke-width="0.6"/>
<line x1="349.15" y1="163.80" x2="349.15" y2="165.20" stroke="#222" stroke-width="0.6"/>
<line x1="349.15" y1="203.10" x2="349.15" y2="204.50" stroke="#222" stroke-width="0.6"/>
<line x1="362.85" y1="163.80" x2="362.85" y2="165.20" stroke="#222" stroke-width="0.6"/>
<line x1="362.85" y1="203.10" x2="362.85" y2="204.50" stroke="#222" stroke-width="0.6"/>
<rect x="287.50" y="163.80" width="82.20" height="40.70" fill="none" stroke="#111" stroke-width="1.1"/>
<text x="0" y="0" transform="translate(299.35,211.70) rotate(-45) scale(1.06,1)" font-size="7.5" text-anchor="end">0</text>
<text x="0" y="0" transform="translate(313.05,211.70) rotate(-45) scale(1.06,1)" font-size="7.5" text-anchor="end">0.2</text>
<text x="0" y="0" transform="translate(326.75,211.70) rotate(-45) scale(1.06,1)" font-size="7.5" text-anchor="end">0.4</text>
<text x="0" y="0" transform="translate(340.45,211.70) rotate(-45) scale(1.06,1)" font-size="7.5" text-anchor="end">0.6</text>
<text x="0" y="0" transform="translate(354.15,211.70) rotate(-45) scale(1.06,1)" font-size="7.5" text-anchor="end">0.8</text>
<text x="0" y="0" transform="translate(367.85,211.70) rotate(-45) scale(1.06,1)" font-size="7.5" text-anchor="end">1</text>
<rect x="399.50" y="163.80" width="82.90" height="40.70" fill="#fff" stroke="none" stroke-width="1"/>
<rect x="400.74" y="178.72" width="11.33" height="25.78" fill="#fff890" stroke="#111" stroke-width="0.9"/>
<rect x="414.56" y="197.72" width="11.33" height="6.78" fill="#fff030" stroke="#111" stroke-width="0.9"/>
<rect x="428.38" y="199.89" width="11.33" height="4.61" fill="#ffc634" stroke="#111" stroke-width="0.9"/>
<rect x="442.19" y="200.16" width="11.33" height="4.34" fill="#ff6a30" stroke="#111" stroke-width="0.9"/>
<rect x="456.01" y="200.16" width="11.33" height="4.34" fill="#c04008" stroke="#111" stroke-width="0.9"/>
<rect x="469.83" y="200.16" width="11.33" height="4.34" fill="#940000" stroke="#111" stroke-width="0.9"/>
<line x1="420.23" y1="199.07" x2="420.23" y2="194.19" stroke="#111" stroke-width="0.9"/>
<circle cx="406.41" cy="178.72" r="1.45" fill="#d40000" stroke="#400000" stroke-width="0.6"/>
<circle cx="420.23" cy="194.19" r="1.45" fill="#d40000" stroke="#400000" stroke-width="0.6"/>
<circle cx="420.23" cy="198.53" r="1.45" fill="#d40000" stroke="#400000" stroke-width="0.6"/>
<circle cx="434.04" cy="199.62" r="1.45" fill="#d40000" stroke="#400000" stroke-width="0.6"/>
<circle cx="447.86" cy="199.62" r="1.45" fill="#d40000" stroke="#400000" stroke-width="0.6"/>
<circle cx="461.67" cy="199.62" r="1.45" fill="#d40000" stroke="#400000" stroke-width="0.6"/>
<circle cx="475.49" cy="199.62" r="1.45" fill="#d40000" stroke="#400000" stroke-width="0.6"/>
<line x1="399.50" y1="204.50" x2="400.90" y2="204.50" stroke="#222" stroke-width="0.6"/>
<line x1="481.00" y1="204.50" x2="482.40" y2="204.50" stroke="#222" stroke-width="0.6"/>
<text x="396.80" y="207.10" font-size="7.4" text-anchor="end">0</text>
<line x1="399.50" y1="190.93" x2="400.90" y2="190.93" stroke="#222" stroke-width="0.6"/>
<line x1="481.00" y1="190.93" x2="482.40" y2="190.93" stroke="#222" stroke-width="0.6"/>
<text x="396.80" y="193.53" font-size="7.4" text-anchor="end">0.5</text>
<line x1="399.50" y1="177.37" x2="400.90" y2="177.37" stroke="#222" stroke-width="0.6"/>
<line x1="481.00" y1="177.37" x2="482.40" y2="177.37" stroke="#222" stroke-width="0.6"/>
<text x="396.80" y="179.97" font-size="7.4" text-anchor="end">1</text>
<line x1="399.50" y1="163.80" x2="400.90" y2="163.80" stroke="#222" stroke-width="0.6"/>
<line x1="481.00" y1="163.80" x2="482.40" y2="163.80" stroke="#222" stroke-width="0.6"/>
<text x="396.80" y="166.40" font-size="7.4" text-anchor="end">1.5</text>
<line x1="406.41" y1="163.80" x2="406.41" y2="165.20" stroke="#222" stroke-width="0.6"/>
<line x1="406.41" y1="203.10" x2="406.41" y2="204.50" stroke="#222" stroke-width="0.6"/>
<line x1="420.23" y1="163.80" x2="420.23" y2="165.20" stroke="#222" stroke-width="0.6"/>
<line x1="420.23" y1="203.10" x2="420.23" y2="204.50" stroke="#222" stroke-width="0.6"/>
<line x1="434.04" y1="163.80" x2="434.04" y2="165.20" stroke="#222" stroke-width="0.6"/>
<line x1="434.04" y1="203.10" x2="434.04" y2="204.50" stroke="#222" stroke-width="0.6"/>
<line x1="447.86" y1="163.80" x2="447.86" y2="165.20" stroke="#222" stroke-width="0.6"/>
<line x1="447.86" y1="203.10" x2="447.86" y2="204.50" stroke="#222" stroke-width="0.6"/>
<line x1="461.67" y1="163.80" x2="461.67" y2="165.20" stroke="#222" stroke-width="0.6"/>
<line x1="461.67" y1="203.10" x2="461.67" y2="204.50" stroke="#222" stroke-width="0.6"/>
<line x1="475.49" y1="163.80" x2="475.49" y2="165.20" stroke="#222" stroke-width="0.6"/>
<line x1="475.49" y1="203.10" x2="475.49" y2="204.50" stroke="#222" stroke-width="0.6"/>
<rect x="399.50" y="163.80" width="82.90" height="40.70" fill="none" stroke="#111" stroke-width="1.1"/>
<text x="0" y="0" transform="translate(411.41,211.70) rotate(-45) scale(1.06,1)" font-size="7.5" text-anchor="end">0</text>
<text x="0" y="0" transform="translate(425.23,211.70) rotate(-45) scale(1.06,1)" font-size="7.5" text-anchor="end">0.2</text>
<text x="0" y="0" transform="translate(439.04,211.70) rotate(-45) scale(1.06,1)" font-size="7.5" text-anchor="end">0.4</text>
<text x="0" y="0" transform="translate(452.86,211.70) rotate(-45) scale(1.06,1)" font-size="7.5" text-anchor="end">0.6</text>
<text x="0" y="0" transform="translate(466.67,211.70) rotate(-45) scale(1.06,1)" font-size="7.5" text-anchor="end">0.8</text>
<text x="0" y="0" transform="translate(480.49,211.70) rotate(-45) scale(1.06,1)" font-size="7.5" text-anchor="end">1</text>
<rect x="287.50" y="242.50" width="82.90" height="41.40" fill="#fff" stroke="none" stroke-width="1"/>
<rect x="288.74" y="274.46" width="11.33" height="9.44" fill="#c4f6f6" stroke="#111" stroke-width="0.9"/>
<rect x="302.56" y="276.37" width="11.33" height="7.53" fill="#74c8d0" stroke="#111" stroke-width="0.9"/>
<rect x="316.38" y="277.28" width="11.33" height="6.62" fill="#6cc8a0" stroke="#111" stroke-width="0.9"/>
<rect x="330.19" y="277.28" width="11.33" height="6.62" fill="#3c7c5e" stroke="#111" stroke-width="0.9"/>
<rect x="344.01" y="276.03" width="11.33" height="7.87" fill="#34485c" stroke="#111" stroke-width="0.9"/>
<rect x="357.83" y="278.27" width="11.33" height="5.63" fill="#1e0a40" stroke="#111" stroke-width="0.9"/>
<line x1="294.41" y1="275.62" x2="294.41" y2="272.31" stroke="#111" stroke-width="0.9"/>
<line x1="322.04" y1="278.10" x2="322.04" y2="275.62" stroke="#111" stroke-width="0.9"/>
<line x1="335.86" y1="278.93" x2="335.86" y2="275.62" stroke="#111" stroke-width="0.9"/>
<line x1="363.49" y1="278.93" x2="363.49" y2="276.45" stroke="#111" stroke-width="0.9"/>
<circle cx="294.41" cy="272.64" r="1.45" fill="#d40000" stroke="#400000" stroke-width="0.6"/>
<circle cx="294.41" cy="275.12" r="1.45" fill="#d40000" stroke="#400000" stroke-width="0.6"/>
<circle cx="308.23" cy="276.78" r="1.45" fill="#d40000" stroke="#400000" stroke-width="0.6"/>
<circle cx="322.04" cy="275.62" r="1.45" fill="#d40000" stroke="#400000" stroke-width="0.6"/>
<circle cx="322.04" cy="278.02" r="1.45" fill="#d40000" stroke="#400000" stroke-width="0.6"/>
<circle cx="335.86" cy="275.79" r="1.45" fill="#d40000" stroke="#400000" stroke-width="0.6"/>
<circle cx="335.86" cy="278.93" r="1.45" fill="#d40000" stroke="#400000" stroke-width="0.6"/>
<circle cx="349.67" cy="275.62" r="1.45" fill="#d40000" stroke="#400000" stroke-width="0.6"/>
<circle cx="363.49" cy="276.37" r="1.45" fill="#d40000" stroke="#400000" stroke-width="0.6"/>
<circle cx="363.49" cy="278.93" r="1.45" fill="#d40000" stroke="#400000" stroke-width="0.6"/>
<line x1="287.50" y1="283.90" x2="288.90" y2="283.90" stroke="#222" stroke-width="0.6"/>
<line x1="369.00" y1="283.90" x2="370.40" y2="283.90" stroke="#222" stroke-width="0.6"/>
<text x="284.80" y="286.50" font-size="7.4" text-anchor="end">0</text>
<line x1="287.50" y1="242.50" x2="288.90" y2="242.50" stroke="#222" stroke-width="0.6"/>
<line x1="369.00" y1="242.50" x2="370.40" y2="242.50" stroke="#222" stroke-width="0.6"/>
<text x="284.80" y="245.10" font-size="7.4" text-anchor="end">5</text>
<line x1="294.41" y1="242.50" x2="294.41" y2="243.90" stroke="#222" stroke-width="0.6"/>
<line x1="294.41" y1="282.50" x2="294.41" y2="283.90" stroke="#222" stroke-width="0.6"/>
<line x1="308.23" y1="242.50" x2="308.23" y2="243.90" stroke="#222" stroke-width="0.6"/>
<line x1="308.23" y1="282.50" x2="308.23" y2="283.90" stroke="#222" stroke-width="0.6"/>
<line x1="322.04" y1="242.50" x2="322.04" y2="243.90" stroke="#222" stroke-width="0.6"/>
<line x1="322.04" y1="282.50" x2="322.04" y2="283.90" stroke="#222" stroke-width="0.6"/>
<line x1="335.86" y1="242.50" x2="335.86" y2="243.90" stroke="#222" stroke-width="0.6"/>
<line x1="335.86" y1="282.50" x2="335.86" y2="283.90" stroke="#222" stroke-width="0.6"/>
<line x1="349.67" y1="242.50" x2="349.67" y2="243.90" stroke="#222" stroke-width="0.6"/>
<line x1="349.67" y1="282.50" x2="349.67" y2="283.90" stroke="#222" stroke-width="0.6"/>
<line x1="363.49" y1="242.50" x2="363.49" y2="243.90" stroke="#222" stroke-width="0.6"/>
<line x1="363.49" y1="282.50" x2="363.49" y2="283.90" stroke="#222" stroke-width="0.6"/>
<rect x="287.50" y="242.50" width="82.90" height="41.40" fill="none" stroke="#111" stroke-width="1.1"/>
<text x="0" y="0" transform="translate(299.41,291.10) rotate(-45) scale(1.06,1)" font-size="7.5" text-anchor="end">0</text>
<text x="0" y="0" transform="translate(313.23,291.10) rotate(-45) scale(1.06,1)" font-size="7.5" text-anchor="end">50</text>
<text x="0" y="0" transform="translate(327.04,291.10) rotate(-45) scale(1.06,1)" font-size="7.5" text-anchor="end">75</text>
<text x="0" y="0" transform="translate(340.86,291.10) rotate(-45) scale(1.06,1)" font-size="7.5" text-anchor="end">100</text>
<text x="0" y="0" transform="translate(354.67,291.10) rotate(-45) scale(1.06,1)" font-size="7.5" text-anchor="end">125</text>
<text x="0" y="0" transform="translate(368.49,291.10) rotate(-45) scale(1.06,1)" font-size="7.5" text-anchor="end">150</text>
<text x="287.90" y="240.70" font-size="8.0" fill="#444"><tspan font-size="9.6">×</tspan><tspan>10</tspan><tspan font-size="6.2" dy="-3.4">-3</tspan></text>
<rect x="399.50" y="242.50" width="82.90" height="41.70" fill="#fff" stroke="none" stroke-width="1"/>
<rect x="400.74" y="249.46" width="11.33" height="13.89" fill="#fff890" stroke="#111" stroke-width="0.9"/>
<rect x="414.56" y="260.85" width="11.33" height="2.50" fill="#fff030" stroke="#111" stroke-width="0.9"/>
<rect x="428.38" y="260.51" width="11.33" height="2.84" fill="#ffc634" stroke="#111" stroke-width="0.9"/>
<rect x="442.19" y="263.35" width="11.33" height="8.26" fill="#ff6a30" stroke="#111" stroke-width="0.9"/>
<rect x="456.01" y="263.35" width="11.33" height="9.05" fill="#c04008" stroke="#111" stroke-width="0.9"/>
<rect x="469.83" y="263.35" width="11.33" height="11.68" fill="#940000" stroke="#111" stroke-width="0.9"/>
<line x1="399.50" y1="263.35" x2="482.40" y2="263.35" stroke="#111" stroke-width="0.9"/>
<line x1="406.41" y1="251.26" x2="406.41" y2="247.09" stroke="#111" stroke-width="0.9"/>
<line x1="420.23" y1="267.81" x2="420.23" y2="255.84" stroke="#111" stroke-width="0.9"/>
<line x1="447.86" y1="275.44" x2="447.86" y2="266.48" stroke="#111" stroke-width="0.9"/>
<line x1="461.67" y1="277.11" x2="461.67" y2="268.15" stroke="#111" stroke-width="0.9"/>
<line x1="475.49" y1="281.70" x2="475.49" y2="268.35" stroke="#111" stroke-width="0.9"/>
<circle cx="406.41" cy="247.09" r="1.45" fill="#d40000" stroke="#400000" stroke-width="0.6"/>
<circle cx="406.41" cy="251.26" r="1.45" fill="#d40000" stroke="#400000" stroke-width="0.6"/>
<circle cx="420.23" cy="257.72" r="1.45" fill="#d40000" stroke="#400000" stroke-width="0.6"/>
<circle cx="420.23" cy="267.81" r="1.45" fill="#d40000" stroke="#400000" stroke-width="0.6"/>
<circle cx="434.04" cy="259.60" r="1.45" fill="#d40000" stroke="#400000" stroke-width="0.6"/>
<circle cx="447.86" cy="266.48" r="1.45" fill="#d40000" stroke="#400000" stroke-width="0.6"/>
<circle cx="447.86" cy="275.44" r="1.45" fill="#d40000" stroke="#400000" stroke-width="0.6"/>
<circle cx="461.67" cy="268.15" r="1.45" fill="#d40000" stroke="#400000" stroke-width="0.6"/>
<circle cx="461.67" cy="277.11" r="1.45" fill="#d40000" stroke="#400000" stroke-width="0.6"/>
<circle cx="475.49" cy="268.35" r="1.45" fill="#d40000" stroke="#400000" stroke-width="0.6"/>
<circle cx="475.49" cy="281.70" r="1.45" fill="#d40000" stroke="#400000" stroke-width="0.6"/>
<line x1="399.50" y1="284.20" x2="400.90" y2="284.20" stroke="#222" stroke-width="0.6"/>
<line x1="481.00" y1="284.20" x2="482.40" y2="284.20" stroke="#222" stroke-width="0.6"/>
<text x="396.80" y="286.80" font-size="7.4" text-anchor="end">-5</text>
<line x1="399.50" y1="263.35" x2="400.90" y2="263.35" stroke="#222" stroke-width="0.6"/>
<line x1="481.00" y1="263.35" x2="482.40" y2="263.35" stroke="#222" stroke-width="0.6"/>
<text x="396.80" y="265.95" font-size="7.4" text-anchor="end">0</text>
<line x1="399.50" y1="242.50" x2="400.90" y2="242.50" stroke="#222" stroke-width="0.6"/>
<line x1="481.00" y1="242.50" x2="482.40" y2="242.50" stroke="#222" stroke-width="0.6"/>
<text x="396.80" y="245.10" font-size="7.4" text-anchor="end">5</text>
<line x1="406.41" y1="242.50" x2="406.41" y2="243.90" stroke="#222" stroke-width="0.6"/>
<line x1="406.41" y1="282.80" x2="406.41" y2="284.20" stroke="#222" stroke-width="0.6"/>
<line x1="420.23" y1="242.50" x2="420.23" y2="243.90" stroke="#222" stroke-width="0.6"/>
<line x1="420.23" y1="282.80" x2="420.23" y2="284.20" stroke="#222" stroke-width="0.6"/>
<line x1="434.04" y1="242.50" x2="434.04" y2="243.90" stroke="#222" stroke-width="0.6"/>
<line x1="434.04" y1="282.80" x2="434.04" y2="284.20" stroke="#222" stroke-width="0.6"/>
<line x1="447.86" y1="242.50" x2="447.86" y2="243.90" stroke="#222" stroke-width="0.6"/>
<line x1="447.86" y1="282.80" x2="447.86" y2="284.20" stroke="#222" stroke-width="0.6"/>
<line x1="461.67" y1="242.50" x2="461.67" y2="243.90" stroke="#222" stroke-width="0.6"/>
<line x1="461.67" y1="282.80" x2="461.67" y2="284.20" stroke="#222" stroke-width="0.6"/>
<line x1="475.49" y1="242.50" x2="475.49" y2="243.90" stroke="#222" stroke-width="0.6"/>
<line x1="475.49" y1="282.80" x2="475.49" y2="284.20" stroke="#222" stroke-width="0.6"/>
<rect x="399.50" y="242.50" width="82.90" height="41.70" fill="none" stroke="#111" stroke-width="1.1"/>
<text x="0" y="0" transform="translate(411.41,291.40) rotate(-45) scale(1.06,1)" font-size="7.5" text-anchor="end">0</text>
<text x="0" y="0" transform="translate(425.23,291.40) rotate(-45) scale(1.06,1)" font-size="7.5" text-anchor="end">50</text>
<text x="0" y="0" transform="translate(439.04,291.40) rotate(-45) scale(1.06,1)" font-size="7.5" text-anchor="end">75</text>
<text x="0" y="0" transform="translate(452.86,291.40) rotate(-45) scale(1.06,1)" font-size="7.5" text-anchor="end">100</text>
<text x="0" y="0" transform="translate(466.67,291.40) rotate(-45) scale(1.06,1)" font-size="7.5" text-anchor="end">125</text>
<text x="0" y="0" transform="translate(480.49,291.40) rotate(-45) scale(1.06,1)" font-size="7.5" text-anchor="end">150</text>
<text x="399.90" y="240.70" font-size="8.0" fill="#444"><tspan font-size="9.6">×</tspan><tspan>10</tspan><tspan font-size="6.2" dy="-3.4">-3</tspan></text>
<rect x="287.50" y="307.50" width="82.90" height="41.10" fill="#fff" stroke="none" stroke-width="1"/>
<rect x="302.56" y="323.97" width="11.33" height="4.16" fill="#74c8d0" stroke="#111" stroke-width="0.9"/>
<rect x="316.38" y="328.13" width="11.33" height="1.66" fill="#6cc8a0" stroke="#111" stroke-width="0.9"/>
<rect x="330.19" y="326.89" width="11.33" height="1.23" fill="#3c7c5e" stroke="#111" stroke-width="0.9"/>
<rect x="344.01" y="327.52" width="11.33" height="0.60" fill="#34485c" stroke="#111" stroke-width="0.9"/>
<rect x="357.83" y="328.13" width="11.33" height="8.13" fill="#1e0a40" stroke="#111" stroke-width="0.9"/>
<line x1="287.50" y1="328.13" x2="370.40" y2="328.13" stroke="#111" stroke-width="0.9"/>
<line x1="308.23" y1="331.89" x2="308.23" y2="318.19" stroke="#111" stroke-width="0.9"/>
<line x1="322.04" y1="332.34" x2="322.04" y2="328.13" stroke="#111" stroke-width="0.9"/>
<line x1="335.86" y1="330.99" x2="335.86" y2="323.46" stroke="#111" stroke-width="0.9"/>
<line x1="349.67" y1="330.99" x2="349.67" y2="325.57" stroke="#111" stroke-width="0.9"/>
<line x1="363.49" y1="339.87" x2="363.49" y2="330.68" stroke="#111" stroke-width="0.9"/>
<circle cx="308.23" cy="319.39" r="1.45" fill="#d40000" stroke="#400000" stroke-width="0.6"/>
<circle cx="308.23" cy="320.60" r="1.45" fill="#d40000" stroke="#400000" stroke-width="0.6"/>
<circle cx="308.23" cy="331.89" r="1.45" fill="#d40000" stroke="#400000" stroke-width="0.6"/>
<circle cx="322.04" cy="328.13" r="1.45" fill="#d40000" stroke="#400000" stroke-width="0.6"/>
<circle cx="322.04" cy="332.34" r="1.45" fill="#d40000" stroke="#400000" stroke-width="0.6"/>
<circle cx="335.86" cy="323.46" r="1.45" fill="#d40000" stroke="#400000" stroke-width="0.6"/>
<circle cx="335.86" cy="330.99" r="1.45" fill="#d40000" stroke="#400000" stroke-width="0.6"/>
<circle cx="349.67" cy="325.57" r="1.45" fill="#d40000" stroke="#400000" stroke-width="0.6"/>
<circle cx="349.67" cy="330.99" r="1.45" fill="#d40000" stroke="#400000" stroke-width="0.6"/>
<circle cx="363.49" cy="330.68" r="1.45" fill="#d40000" stroke="#400000" stroke-width="0.6"/>
<circle cx="363.49" cy="339.87" r="1.45" fill="#d40000" stroke="#400000" stroke-width="0.6"/>
<line x1="287.50" y1="343.18" x2="288.90" y2="343.18" stroke="#222" stroke-width="0.6"/>
<line x1="369.00" y1="343.18" x2="370.40" y2="343.18" stroke="#222" stroke-width="0.6"/>
<text x="284.80" y="345.78" font-size="7.4" text-anchor="end">-5</text>
<line x1="287.50" y1="328.13" x2="288.90" y2="328.13" stroke="#222" stroke-width="0.6"/>
<line x1="369.00" y1="328.13" x2="370.40" y2="328.13" stroke="#222" stroke-width="0.6"/>
<text x="284.80" y="330.73" font-size="7.4" text-anchor="end">0</text>
<line x1="287.50" y1="313.07" x2="288.90" y2="313.07" stroke="#222" stroke-width="0.6"/>
<line x1="369.00" y1="313.07" x2="370.40" y2="313.07" stroke="#222" stroke-width="0.6"/>
<text x="284.80" y="315.67" font-size="7.4" text-anchor="end">5</text>
<line x1="294.41" y1="307.50" x2="294.41" y2="308.90" stroke="#222" stroke-width="0.6"/>
<line x1="294.41" y1="347.20" x2="294.41" y2="348.60" stroke="#222" stroke-width="0.6"/>
<line x1="308.23" y1="307.50" x2="308.23" y2="308.90" stroke="#222" stroke-width="0.6"/>
<line x1="308.23" y1="347.20" x2="308.23" y2="348.60" stroke="#222" stroke-width="0.6"/>
<line x1="322.04" y1="307.50" x2="322.04" y2="308.90" stroke="#222" stroke-width="0.6"/>
<line x1="322.04" y1="347.20" x2="322.04" y2="348.60" stroke="#222" stroke-width="0.6"/>
<line x1="335.86" y1="307.50" x2="335.86" y2="308.90" stroke="#222" stroke-width="0.6"/>
<line x1="335.86" y1="347.20" x2="335.86" y2="348.60" stroke="#222" stroke-width="0.6"/>
<line x1="349.67" y1="307.50" x2="349.67" y2="308.90" stroke="#222" stroke-width="0.6"/>
<line x1="349.67" y1="347.20" x2="349.67" y2="348.60" stroke="#222" stroke-width="0.6"/>
<line x1="363.49" y1="307.50" x2="363.49" y2="308.90" stroke="#222" stroke-width="0.6"/>
<line x1="363.49" y1="347.20" x2="363.49" y2="348.60" stroke="#222" stroke-width="0.6"/>
<rect x="287.50" y="307.50" width="82.90" height="41.10" fill="none" stroke="#111" stroke-width="1.1"/>
<text x="0" y="0" transform="translate(299.41,355.80) rotate(-45) scale(1.06,1)" font-size="7.5" text-anchor="end">0</text>
<text x="0" y="0" transform="translate(313.23,355.80) rotate(-45) scale(1.06,1)" font-size="7.5" text-anchor="end">50</text>
<text x="0" y="0" transform="translate(327.04,355.80) rotate(-45) scale(1.06,1)" font-size="7.5" text-anchor="end">75</text>
<text x="0" y="0" transform="translate(340.86,355.80) rotate(-45) scale(1.06,1)" font-size="7.5" text-anchor="end">100</text>
<text x="0" y="0" transform="translate(354.67,355.80) rotate(-45) scale(1.06,1)" font-size="7.5" text-anchor="end">125</text>
<text x="0" y="0" transform="translate(368.49,355.80) rotate(-45) scale(1.06,1)" font-size="7.5" text-anchor="end">150</text>
<text x="287.90" y="305.70" font-size="8.0" fill="#444"><tspan font-size="9.6">×</tspan><tspan>10</tspan><tspan font-size="6.2" dy="-3.4">-3</tspan></text>
<rect x="399.50" y="307.50" width="82.90" height="41.10" fill="#fff" stroke="none" stroke-width="1"/>
<rect x="414.56" y="328.13" width="11.33" height="12.04" fill="#fff030" stroke="#111" stroke-width="0.9"/>
<rect x="428.38" y="328.13" width="11.33" height="12.95" fill="#ffc634" stroke="#111" stroke-width="0.9"/>
<rect x="442.19" y="328.13" width="11.33" height="6.93" fill="#ff6a30" stroke="#111" stroke-width="0.9"/>
<rect x="456.01" y="328.13" width="11.33" height="10.24" fill="#c04008" stroke="#111" stroke-width="0.9"/>
<rect x="469.83" y="328.13" width="11.33" height="6.02" fill="#940000" stroke="#111" stroke-width="0.9"/>
<line x1="399.50" y1="328.13" x2="482.40" y2="328.13" stroke="#111" stroke-width="0.9"/>
<line x1="420.23" y1="341.67" x2="420.23" y2="338.06" stroke="#111" stroke-width="0.9"/>
<line x1="434.04" y1="346.19" x2="434.04" y2="338.06" stroke="#111" stroke-width="0.9"/>
<line x1="447.86" y1="338.66" x2="447.86" y2="330.84" stroke="#111" stroke-width="0.9"/>
<line x1="461.67" y1="346.19" x2="461.67" y2="332.04" stroke="#111" stroke-width="0.9"/>
<line x1="475.49" y1="336.56" x2="475.49" y2="332.04" stroke="#111" stroke-width="0.9"/>
<circle cx="420.23" cy="338.06" r="1.45" fill="#d40000" stroke="#400000" stroke-width="0.6"/>
<circle cx="420.23" cy="341.67" r="1.45" fill="#d40000" stroke="#400000" stroke-width="0.6"/>
<circle cx="434.04" cy="338.06" r="1.45" fill="#d40000" stroke="#400000" stroke-width="0.6"/>
<circle cx="434.04" cy="346.19" r="1.45" fill="#d40000" stroke="#400000" stroke-width="0.6"/>
<circle cx="447.86" cy="330.84" r="1.45" fill="#d40000" stroke="#400000" stroke-width="0.6"/>
<circle cx="447.86" cy="338.66" r="1.45" fill="#d40000" stroke="#400000" stroke-width="0.6"/>
<circle cx="461.67" cy="332.04" r="1.45" fill="#d40000" stroke="#400000" stroke-width="0.6"/>
<circle cx="461.67" cy="346.19" r="1.45" fill="#d40000" stroke="#400000" stroke-width="0.6"/>
<circle cx="475.49" cy="332.04" r="1.45" fill="#d40000" stroke="#400000" stroke-width="0.6"/>
<circle cx="475.49" cy="336.56" r="1.45" fill="#d40000" stroke="#400000" stroke-width="0.6"/>
<line x1="399.50" y1="343.18" x2="400.90" y2="343.18" stroke="#222" stroke-width="0.6"/>
<line x1="481.00" y1="343.18" x2="482.40" y2="343.18" stroke="#222" stroke-width="0.6"/>
<text x="396.80" y="345.78" font-size="7.4" text-anchor="end">-5</text>
<line x1="399.50" y1="328.13" x2="400.90" y2="328.13" stroke="#222" stroke-width="0.6"/>
<line x1="481.00" y1="328.13" x2="482.40" y2="328.13" stroke="#222" stroke-width="0.6"/>
<text x="396.80" y="330.73" font-size="7.4" text-anchor="end">0</text>
<line x1="399.50" y1="313.07" x2="400.90" y2="313.07" stroke="#222" stroke-width="0.6"/>
<line x1="481.00" y1="313.07" x2="482.40" y2="313.07" stroke="#222" stroke-width="0.6"/>
<text x="396.80" y="315.67" font-size="7.4" text-anchor="end">5</text>
<line x1="406.41" y1="307.50" x2="406.41" y2="308.90" stroke="#222" stroke-width="0.6"/>
<line x1="406.41" y1="347.20" x2="406.41" y2="348.60" stroke="#222" stroke-width="0.6"/>
<line x1="420.23" y1="307.50" x2="420.23" y2="308.90" stroke="#222" stroke-width="0.6"/>
<line x1="420.23" y1="347.20" x2="420.23" y2="348.60" stroke="#222" stroke-width="0.6"/>
<line x1="434.04" y1="307.50" x2="434.04" y2="308.90" stroke="#222" stroke-width="0.6"/>
<line x1="434.04" y1="347.20" x2="434.04" y2="348.60" stroke="#222" stroke-width="0.6"/>
<line x1="447.86" y1="307.50" x2="447.86" y2="308.90" stroke="#222" stroke-width="0.6"/>
<line x1="447.86" y1="347.20" x2="447.86" y2="348.60" stroke="#222" stroke-width="0.6"/>
<line x1="461.67" y1="307.50" x2="461.67" y2="308.90" stroke="#222" stroke-width="0.6"/>
<line x1="461.67" y1="347.20" x2="461.67" y2="348.60" stroke="#222" stroke-width="0.6"/>
<line x1="475.49" y1="307.50" x2="475.49" y2="308.90" stroke="#222" stroke-width="0.6"/>
<line x1="475.49" y1="347.20" x2="475.49" y2="348.60" stroke="#222" stroke-width="0.6"/>
<rect x="399.50" y="307.50" width="82.90" height="41.10" fill="none" stroke="#111" stroke-width="1.1"/>
<text x="0" y="0" transform="translate(411.41,355.80) rotate(-45) scale(1.06,1)" font-size="7.5" text-anchor="end">0</text>
<text x="0" y="0" transform="translate(425.23,355.80) rotate(-45) scale(1.06,1)" font-size="7.5" text-anchor="end">50</text>
<text x="0" y="0" transform="translate(439.04,355.80) rotate(-45) scale(1.06,1)" font-size="7.5" text-anchor="end">75</text>
<text x="0" y="0" transform="translate(452.86,355.80) rotate(-45) scale(1.06,1)" font-size="7.5" text-anchor="end">100</text>
<text x="0" y="0" transform="translate(466.67,355.80) rotate(-45) scale(1.06,1)" font-size="7.5" text-anchor="end">125</text>
<text x="0" y="0" transform="translate(480.49,355.80) rotate(-45) scale(1.06,1)" font-size="7.5" text-anchor="end">150</text>
<text x="399.90" y="305.70" font-size="8.0" fill="#444"><tspan font-size="9.6">×</tspan><tspan>10</tspan><tspan font-size="6.2" dy="-3.4">-3</tspan></text>
<rect x="287.50" y="366.60" width="82.90" height="41.20" fill="#fff" stroke="none" stroke-width="1"/>
<rect x="302.56" y="406.43" width="11.33" height="1.37" fill="#74c8d0" stroke="#111" stroke-width="0.9"/>
<rect x="316.38" y="396.26" width="11.33" height="11.54" fill="#6cc8a0" stroke="#111" stroke-width="0.9"/>
<rect x="330.19" y="401.21" width="11.33" height="6.59" fill="#3c7c5e" stroke="#111" stroke-width="0.9"/>
<rect x="344.01" y="399.56" width="11.33" height="8.24" fill="#34485c" stroke="#111" stroke-width="0.9"/>
<rect x="357.83" y="379.78" width="11.33" height="28.02" fill="#1e0a40" stroke="#111" stroke-width="0.9"/>
<line x1="308.23" y1="407.53" x2="308.23" y2="404.50" stroke="#111" stroke-width="0.9"/>
<line x1="335.86" y1="402.31" x2="335.86" y2="397.91" stroke="#111" stroke-width="0.9"/>
<line x1="349.67" y1="401.21" x2="349.67" y2="397.36" stroke="#111" stroke-width="0.9"/>
<line x1="363.49" y1="389.67" x2="363.49" y2="372.09" stroke="#111" stroke-width="0.9"/>
<circle cx="308.23" cy="404.50" r="1.45" fill="#d40000" stroke="#400000" stroke-width="0.6"/>
<circle cx="308.23" cy="407.53" r="1.45" fill="#d40000" stroke="#400000" stroke-width="0.6"/>
<circle cx="322.04" cy="395.71" r="1.45" fill="#d40000" stroke="#400000" stroke-width="0.6"/>
<circle cx="335.86" cy="397.91" r="1.45" fill="#d40000" stroke="#400000" stroke-width="0.6"/>
<circle cx="335.86" cy="401.76" r="1.45" fill="#d40000" stroke="#400000" stroke-width="0.6"/>
<circle cx="349.67" cy="397.36" r="1.45" fill="#d40000" stroke="#400000" stroke-width="0.6"/>
<circle cx="349.67" cy="400.11" r="1.45" fill="#d40000" stroke="#400000" stroke-width="0.6"/>
<circle cx="363.49" cy="372.09" r="1.45" fill="#d40000" stroke="#400000" stroke-width="0.6"/>
<circle cx="363.49" cy="389.67" r="1.45" fill="#d40000" stroke="#400000" stroke-width="0.6"/>
<line x1="287.50" y1="407.80" x2="288.90" y2="407.80" stroke="#222" stroke-width="0.6"/>
<line x1="369.00" y1="407.80" x2="370.40" y2="407.80" stroke="#222" stroke-width="0.6"/>
<text x="284.80" y="410.40" font-size="7.4" text-anchor="end">0</text>
<line x1="287.50" y1="380.33" x2="288.90" y2="380.33" stroke="#222" stroke-width="0.6"/>
<line x1="369.00" y1="380.33" x2="370.40" y2="380.33" stroke="#222" stroke-width="0.6"/>
<text x="284.80" y="382.93" font-size="7.4" text-anchor="end">50</text>
<line x1="294.41" y1="366.60" x2="294.41" y2="368.00" stroke="#222" stroke-width="0.6"/>
<line x1="294.41" y1="406.40" x2="294.41" y2="407.80" stroke="#222" stroke-width="0.6"/>
<line x1="308.23" y1="366.60" x2="308.23" y2="368.00" stroke="#222" stroke-width="0.6"/>
<line x1="308.23" y1="406.40" x2="308.23" y2="407.80" stroke="#222" stroke-width="0.6"/>
<line x1="322.04" y1="366.60" x2="322.04" y2="368.00" stroke="#222" stroke-width="0.6"/>
<line x1="322.04" y1="406.40" x2="322.04" y2="407.80" stroke="#222" stroke-width="0.6"/>
<line x1="335.86" y1="366.60" x2="335.86" y2="368.00" stroke="#222" stroke-width="0.6"/>
<line x1="335.86" y1="406.40" x2="335.86" y2="407.80" stroke="#222" stroke-width="0.6"/>
<line x1="349.67" y1="366.60" x2="349.67" y2="368.00" stroke="#222" stroke-width="0.6"/>
<line x1="349.67" y1="406.40" x2="349.67" y2="407.80" stroke="#222" stroke-width="0.6"/>
<line x1="363.49" y1="366.60" x2="363.49" y2="368.00" stroke="#222" stroke-width="0.6"/>
<line x1="363.49" y1="406.40" x2="363.49" y2="407.80" stroke="#222" stroke-width="0.6"/>
<rect x="287.50" y="366.60" width="82.90" height="41.20" fill="none" stroke="#111" stroke-width="1.1"/>
<text x="0" y="0" transform="translate(299.41,415.00) rotate(-45) scale(1.06,1)" font-size="7.5" text-anchor="end">0</text>
<text x="0" y="0" transform="translate(313.23,415.00) rotate(-45) scale(1.06,1)" font-size="7.5" text-anchor="end">50</text>
<text x="0" y="0" transform="translate(327.04,415.00) rotate(-45) scale(1.06,1)" font-size="7.5" text-anchor="end">75</text>
<text x="0" y="0" transform="translate(340.86,415.00) rotate(-45) scale(1.06,1)" font-size="7.5" text-anchor="end">100</text>
<text x="0" y="0" transform="translate(354.67,415.00) rotate(-45) scale(1.06,1)" font-size="7.5" text-anchor="end">125</text>
<text x="0" y="0" transform="translate(368.49,415.00) rotate(-45) scale(1.06,1)" font-size="7.5" text-anchor="end">150</text>
<rect x="399.50" y="366.60" width="82.90" height="41.20" fill="#fff" stroke="none" stroke-width="1"/>
<rect x="414.56" y="373.74" width="11.33" height="34.06" fill="#fff030" stroke="#111" stroke-width="0.9"/>
<rect x="428.38" y="374.84" width="11.33" height="32.96" fill="#ffc634" stroke="#111" stroke-width="0.9"/>
<rect x="442.19" y="368.80" width="11.33" height="39.00" fill="#ff6a30" stroke="#111" stroke-width="0.9"/>
<rect x="456.01" y="374.84" width="11.33" height="32.96" fill="#c04008" stroke="#111" stroke-width="0.9"/>
<rect x="469.83" y="368.80" width="11.33" height="39.00" fill="#940000" stroke="#111" stroke-width="0.9"/>
<line x1="420.23" y1="377.04" x2="420.23" y2="368.52" stroke="#111" stroke-width="0.9"/>
<line x1="434.04" y1="387.47" x2="434.04" y2="368.52" stroke="#111" stroke-width="0.9"/>
<line x1="461.67" y1="386.93" x2="461.67" y2="368.52" stroke="#111" stroke-width="0.9"/>
<circle cx="420.23" cy="368.52" r="1.45" fill="#d40000" stroke="#400000" stroke-width="0.6"/>
<circle cx="420.23" cy="373.74" r="1.45" fill="#d40000" stroke="#400000" stroke-width="0.6"/>
<circle cx="420.23" cy="375.94" r="1.45" fill="#d40000" stroke="#400000" stroke-width="0.6"/>
<circle cx="434.04" cy="368.52" r="1.45" fill="#d40000" stroke="#400000" stroke-width="0.6"/>
<circle cx="434.04" cy="387.47" r="1.45" fill="#d40000" stroke="#400000" stroke-width="0.6"/>
<circle cx="447.86" cy="368.52" r="1.45" fill="#d40000" stroke="#400000" stroke-width="0.6"/>
<circle cx="461.67" cy="368.52" r="1.45" fill="#d40000" stroke="#400000" stroke-width="0.6"/>
<circle cx="461.67" cy="386.93" r="1.45" fill="#d40000" stroke="#400000" stroke-width="0.6"/>
<circle cx="475.49" cy="368.52" r="1.45" fill="#d40000" stroke="#400000" stroke-width="0.6"/>
<line x1="399.50" y1="407.80" x2="400.90" y2="407.80" stroke="#222" stroke-width="0.6"/>
<line x1="481.00" y1="407.80" x2="482.40" y2="407.80" stroke="#222" stroke-width="0.6"/>
<text x="396.80" y="410.40" font-size="7.4" text-anchor="end">0</text>
<line x1="399.50" y1="380.33" x2="400.90" y2="380.33" stroke="#222" stroke-width="0.6"/>
<line x1="481.00" y1="380.33" x2="482.40" y2="380.33" stroke="#222" stroke-width="0.6"/>
<text x="396.80" y="382.93" font-size="7.4" text-anchor="end">50</text>
<line x1="406.41" y1="366.60" x2="406.41" y2="368.00" stroke="#222" stroke-width="0.6"/>
<line x1="406.41" y1="406.40" x2="406.41" y2="407.80" stroke="#222" stroke-width="0.6"/>
<line x1="420.23" y1="366.60" x2="420.23" y2="368.00" stroke="#222" stroke-width="0.6"/>
<line x1="420.23" y1="406.40" x2="420.23" y2="407.80" stroke="#222" stroke-width="0.6"/>
<line x1="434.04" y1="366.60" x2="434.04" y2="368.00" stroke="#222" stroke-width="0.6"/>
<line x1="434.04" y1="406.40" x2="434.04" y2="407.80" stroke="#222" stroke-width="0.6"/>
<line x1="447.86" y1="366.60" x2="447.86" y2="368.00" stroke="#222" stroke-width="0.6"/>
<line x1="447.86" y1="406.40" x2="447.86" y2="407.80" stroke="#222" stroke-width="0.6"/>
<line x1="461.67" y1="366.60" x2="461.67" y2="368.00" stroke="#222" stroke-width="0.6"/>
<line x1="461.67" y1="406.40" x2="461.67" y2="407.80" stroke="#222" stroke-width="0.6"/>
<line x1="475.49" y1="366.60" x2="475.49" y2="368.00" stroke="#222" stroke-width="0.6"/>
<line x1="475.49" y1="406.40" x2="475.49" y2="407.80" stroke="#222" stroke-width="0.6"/>
<rect x="399.50" y="366.60" width="82.90" height="41.20" fill="none" stroke="#111" stroke-width="1.1"/>
<text x="0" y="0" transform="translate(411.41,415.00) rotate(-45) scale(1.06,1)" font-size="7.5" text-anchor="end">0</text>
<text x="0" y="0" transform="translate(425.23,415.00) rotate(-45) scale(1.06,1)" font-size="7.5" text-anchor="end">50</text>
<text x="0" y="0" transform="translate(439.04,415.00) rotate(-45) scale(1.06,1)" font-size="7.5" text-anchor="end">75</text>
<text x="0" y="0" transform="translate(452.86,415.00) rotate(-45) scale(1.06,1)" font-size="7.5" text-anchor="end">100</text>
<text x="0" y="0" transform="translate(466.67,415.00) rotate(-45) scale(1.06,1)" font-size="7.5" text-anchor="end">125</text>
<text x="0" y="0" transform="translate(480.49,415.00) rotate(-45) scale(1.06,1)" font-size="7.5" text-anchor="end">150</text>
<rect x="287.50" y="424.60" width="82.90" height="41.00" fill="#fff" stroke="none" stroke-width="1"/>
<rect x="288.74" y="446.47" width="11.33" height="19.13" fill="#c4f6f6" stroke="#111" stroke-width="0.9"/>
<rect x="302.56" y="449.75" width="11.33" height="15.85" fill="#74c8d0" stroke="#111" stroke-width="0.9"/>
<rect x="316.38" y="454.67" width="11.33" height="10.93" fill="#6cc8a0" stroke="#111" stroke-width="0.9"/>
<rect x="330.19" y="450.57" width="11.33" height="15.03" fill="#3c7c5e" stroke="#111" stroke-width="0.9"/>
<rect x="344.01" y="451.93" width="11.33" height="13.67" fill="#34485c" stroke="#111" stroke-width="0.9"/>
<rect x="357.83" y="457.95" width="11.33" height="7.65" fill="#1e0a40" stroke="#111" stroke-width="0.9"/>
<line x1="308.23" y1="451.93" x2="308.23" y2="445.92" stroke="#111" stroke-width="0.9"/>
<line x1="322.04" y1="455.76" x2="322.04" y2="453.30" stroke="#111" stroke-width="0.9"/>
<line x1="335.86" y1="451.39" x2="335.86" y2="449.20" stroke="#111" stroke-width="0.9"/>
<line x1="349.67" y1="453.03" x2="349.67" y2="449.75" stroke="#111" stroke-width="0.9"/>
<line x1="363.49" y1="457.95" x2="363.49" y2="453.57" stroke="#111" stroke-width="0.9"/>
<circle cx="294.41" cy="446.19" r="1.45" fill="#d40000" stroke="#400000" stroke-width="0.6"/>
<circle cx="308.23" cy="445.92" r="1.45" fill="#d40000" stroke="#400000" stroke-width="0.6"/>
<circle cx="308.23" cy="450.57" r="1.45" fill="#d40000" stroke="#400000" stroke-width="0.6"/>
<circle cx="322.04" cy="453.30" r="1.45" fill="#d40000" stroke="#400000" stroke-width="0.6"/>
<circle cx="322.04" cy="455.76" r="1.45" fill="#d40000" stroke="#400000" stroke-width="0.6"/>
<circle cx="335.86" cy="449.20" r="1.45" fill="#d40000" stroke="#400000" stroke-width="0.6"/>
<circle cx="335.86" cy="450.84" r="1.45" fill="#d40000" stroke="#400000" stroke-width="0.6"/>
<circle cx="349.67" cy="449.75" r="1.45" fill="#d40000" stroke="#400000" stroke-width="0.6"/>
<circle cx="349.67" cy="453.03" r="1.45" fill="#d40000" stroke="#400000" stroke-width="0.6"/>
<circle cx="363.49" cy="453.57" r="1.45" fill="#d40000" stroke="#400000" stroke-width="0.6"/>
<circle cx="363.49" cy="457.95" r="1.45" fill="#d40000" stroke="#400000" stroke-width="0.6"/>
<line x1="287.50" y1="465.60" x2="288.90" y2="465.60" stroke="#222" stroke-width="0.6"/>
<line x1="369.00" y1="465.60" x2="370.40" y2="465.60" stroke="#222" stroke-width="0.6"/>
<text x="284.80" y="468.20" font-size="7.4" text-anchor="end">0</text>
<line x1="287.50" y1="451.93" x2="288.90" y2="451.93" stroke="#222" stroke-width="0.6"/>
<line x1="369.00" y1="451.93" x2="370.40" y2="451.93" stroke="#222" stroke-width="0.6"/>
<text x="284.80" y="454.53" font-size="7.4" text-anchor="end">0.5</text>
<line x1="287.50" y1="438.27" x2="288.90" y2="438.27" stroke="#222" stroke-width="0.6"/>
<line x1="369.00" y1="438.27" x2="370.40" y2="438.27" stroke="#222" stroke-width="0.6"/>
<text x="284.80" y="440.87" font-size="7.4" text-anchor="end">1</text>
<line x1="287.50" y1="424.60" x2="288.90" y2="424.60" stroke="#222" stroke-width="0.6"/>
<line x1="369.00" y1="424.60" x2="370.40" y2="424.60" stroke="#222" stroke-width="0.6"/>
<text x="284.80" y="427.20" font-size="7.4" text-anchor="end">1.5</text>
<line x1="294.41" y1="424.60" x2="294.41" y2="426.00" stroke="#222" stroke-width="0.6"/>
<line x1="294.41" y1="464.20" x2="294.41" y2="465.60" stroke="#222" stroke-width="0.6"/>
<line x1="308.23" y1="424.60" x2="308.23" y2="426.00" stroke="#222" stroke-width="0.6"/>
<line x1="308.23" y1="464.20" x2="308.23" y2="465.60" stroke="#222" stroke-width="0.6"/>
<line x1="322.04" y1="424.60" x2="322.04" y2="426.00" stroke="#222" stroke-width="0.6"/>
<line x1="322.04" y1="464.20" x2="322.04" y2="465.60" stroke="#222" stroke-width="0.6"/>
<line x1="335.86" y1="424.60" x2="335.86" y2="426.00" stroke="#222" stroke-width="0.6"/>
<line x1="335.86" y1="464.20" x2="335.86" y2="465.60" stroke="#222" stroke-width="0.6"/>
<line x1="349.67" y1="424.60" x2="349.67" y2="426.00" stroke="#222" stroke-width="0.6"/>
<line x1="349.67" y1="464.20" x2="349.67" y2="465.60" stroke="#222" stroke-width="0.6"/>
<line x1="363.49" y1="424.60" x2="363.49" y2="426.00" stroke="#222" stroke-width="0.6"/>
<line x1="363.49" y1="464.20" x2="363.49" y2="465.60" stroke="#222" stroke-width="0.6"/>
<rect x="287.50" y="424.60" width="82.90" height="41.00" fill="none" stroke="#111" stroke-width="1.1"/>
<text x="0" y="0" transform="translate(299.41,472.80) rotate(-45) scale(1.06,1)" font-size="7.5" text-anchor="end">0</text>
<text x="0" y="0" transform="translate(313.23,472.80) rotate(-45) scale(1.06,1)" font-size="7.5" text-anchor="end">50</text>
<text x="0" y="0" transform="translate(327.04,472.80) rotate(-45) scale(1.06,1)" font-size="7.5" text-anchor="end">75</text>
<text x="0" y="0" transform="translate(340.86,472.80) rotate(-45) scale(1.06,1)" font-size="7.5" text-anchor="end">100</text>
<text x="0" y="0" transform="translate(354.67,472.80) rotate(-45) scale(1.06,1)" font-size="7.5" text-anchor="end">125</text>
<text x="0" y="0" transform="translate(368.49,472.80) rotate(-45) scale(1.06,1)" font-size="7.5" text-anchor="end">150</text>
<rect x="399.50" y="424.60" width="82.90" height="41.00" fill="#fff" stroke="none" stroke-width="1"/>
<rect x="400.74" y="441.82" width="11.33" height="23.78" fill="#fff890" stroke="#111" stroke-width="0.9"/>
<rect x="414.56" y="460.13" width="11.33" height="5.47" fill="#fff030" stroke="#111" stroke-width="0.9"/>
<rect x="428.38" y="460.13" width="11.33" height="5.47" fill="#ffc634" stroke="#111" stroke-width="0.9"/>
<rect x="442.19" y="460.95" width="11.33" height="4.65" fill="#ff6a30" stroke="#111" stroke-width="0.9"/>
<rect x="456.01" y="460.95" width="11.33" height="4.65" fill="#c04008" stroke="#111" stroke-width="0.9"/>
<rect x="469.83" y="461.23" width="11.33" height="4.37" fill="#940000" stroke="#111" stroke-width="0.9"/>
<circle cx="406.41" cy="441.55" r="1.45" fill="#d40000" stroke="#400000" stroke-width="0.6"/>
<circle cx="420.23" cy="460.13" r="1.45" fill="#d40000" stroke="#400000" stroke-width="0.6"/>
<circle cx="434.04" cy="459.59" r="1.45" fill="#d40000" stroke="#400000" stroke-width="0.6"/>
<circle cx="434.04" cy="460.68" r="1.45" fill="#d40000" stroke="#400000" stroke-width="0.6"/>
<circle cx="447.86" cy="460.95" r="1.45" fill="#d40000" stroke="#400000" stroke-width="0.6"/>
<circle cx="461.67" cy="460.41" r="1.45" fill="#d40000" stroke="#400000" stroke-width="0.6"/>
<circle cx="475.49" cy="460.95" r="1.45" fill="#d40000" stroke="#400000" stroke-width="0.6"/>
<line x1="399.50" y1="465.60" x2="400.90" y2="465.60" stroke="#222" stroke-width="0.6"/>
<line x1="481.00" y1="465.60" x2="482.40" y2="465.60" stroke="#222" stroke-width="0.6"/>
<text x="396.80" y="468.20" font-size="7.4" text-anchor="end">0</text>
<line x1="399.50" y1="451.93" x2="400.90" y2="451.93" stroke="#222" stroke-width="0.6"/>
<line x1="481.00" y1="451.93" x2="482.40" y2="451.93" stroke="#222" stroke-width="0.6"/>
<text x="396.80" y="454.53" font-size="7.4" text-anchor="end">0.5</text>
<line x1="399.50" y1="438.27" x2="400.90" y2="438.27" stroke="#222" stroke-width="0.6"/>
<line x1="481.00" y1="438.27" x2="482.40" y2="438.27" stroke="#222" stroke-width="0.6"/>
<text x="396.80" y="440.87" font-size="7.4" text-anchor="end">1</text>
<line x1="399.50" y1="424.60" x2="400.90" y2="424.60" stroke="#222" stroke-width="0.6"/>
<line x1="481.00" y1="424.60" x2="482.40" y2="424.60" stroke="#222" stroke-width="0.6"/>
<text x="396.80" y="427.20" font-size="7.4" text-anchor="end">1.5</text>
<line x1="406.41" y1="424.60" x2="406.41" y2="426.00" stroke="#222" stroke-width="0.6"/>
<line x1="406.41" y1="464.20" x2="406.41" y2="465.60" stroke="#222" stroke-width="0.6"/>
<line x1="420.23" y1="424.60" x2="420.23" y2="426.00" stroke="#222" stroke-width="0.6"/>
<line x1="420.23" y1="464.20" x2="420.23" y2="465.60" stroke="#222" stroke-width="0.6"/>
<line x1="434.04" y1="424.60" x2="434.04" y2="426.00" stroke="#222" stroke-width="0.6"/>
<line x1="434.04" y1="464.20" x2="434.04" y2="465.60" stroke="#222" stroke-width="0.6"/>
<line x1="447.86" y1="424.60" x2="447.86" y2="426.00" stroke="#222" stroke-width="0.6"/>
<line x1="447.86" y1="464.20" x2="447.86" y2="465.60" stroke="#222" stroke-width="0.6"/>
<line x1="461.67" y1="424.60" x2="461.67" y2="426.00" stroke="#222" stroke-width="0.6"/>
<line x1="461.67" y1="464.20" x2="461.67" y2="465.60" stroke="#222" stroke-width="0.6"/>
<line x1="475.49" y1="424.60" x2="475.49" y2="426.00" stroke="#222" stroke-width="0.6"/>
<line x1="475.49" y1="464.20" x2="475.49" y2="465.60" stroke="#222" stroke-width="0.6"/>
<rect x="399.50" y="424.60" width="82.90" height="41.00" fill="none" stroke="#111" stroke-width="1.1"/>
<text x="0" y="0" transform="translate(411.41,472.80) rotate(-45) scale(1.06,1)" font-size="7.5" text-anchor="end">0</text>
<text x="0" y="0" transform="translate(425.23,472.80) rotate(-45) scale(1.06,1)" font-size="7.5" text-anchor="end">50</text>
<text x="0" y="0" transform="translate(439.04,472.80) rotate(-45) scale(1.06,1)" font-size="7.5" text-anchor="end">75</text>
<text x="0" y="0" transform="translate(452.86,472.80) rotate(-45) scale(1.06,1)" font-size="7.5" text-anchor="end">100</text>
<text x="0" y="0" transform="translate(466.67,472.80) rotate(-45) scale(1.06,1)" font-size="7.5" text-anchor="end">125</text>
<text x="0" y="0" transform="translate(480.49,472.80) rotate(-45) scale(1.06,1)" font-size="7.5" text-anchor="end">150</text>
<text x="0" y="0" transform="translate(267.80,67.00) rotate(-90) scale(0.9,1)" font-size="9.0" text-anchor="middle"><tspan>S</tspan><tspan font-size="5.6" dy="1.8">REGR</tspan><tspan dy="-1.8"> (hrs</tspan><tspan font-size="5.6" dy="-3.6">-1</tspan><tspan dy="3.6">)</tspan></text>
<text x="0" y="0" transform="translate(272.20,126.40) rotate(-90) scale(0.9,1)" font-size="9.1" text-anchor="middle"><tspan>T</tspan><tspan font-size="5.6" dy="1.6">ADAPT</tspan><tspan dy="-1.6"> (hrs)</tspan></text>
<text x="0" y="0" transform="translate(272.30,183.40) rotate(-90) scale(0.9,1)" font-size="9.3" text-anchor="middle"><tspan>FIN OD</tspan><tspan font-size="5.6" dy="1.6">600</tspan></text>
<text x="0" y="0" transform="translate(272.40,263.00) rotate(-90) scale(0.9,1)" font-size="9.3" text-anchor="middle"><tspan>S</tspan><tspan font-size="5.6" dy="1.8">STAT</tspan><tspan dy="-1.8"> (hrs</tspan><tspan font-size="5.6" dy="-3.6">-1</tspan><tspan dy="3.6">)</tspan></text>
<text x="0" y="0" transform="translate(272.40,327.20) rotate(-90) scale(0.9,1)" font-size="9.5" text-anchor="middle"><tspan>S</tspan><tspan font-size="5.6" dy="1.8">ADAPT</tspan><tspan dy="-1.8"> (hrs</tspan><tspan font-size="5.6" dy="-3.6">-1</tspan><tspan dy="3.6">)</tspan></text>
<text x="0" y="0" transform="translate(272.20,386.60) rotate(-90) scale(0.9,1)" font-size="9.1" text-anchor="middle"><tspan>T</tspan><tspan font-size="5.6" dy="1.6">ADAPT</tspan><tspan dy="-1.6"> (hrs)</tspan></text>
<text x="0" y="0" transform="translate(272.30,444.60) rotate(-90) scale(0.9,1)" font-size="9.3" text-anchor="middle"><tspan>FIN OD</tspan><tspan font-size="5.6" dy="1.6">600</tspan></text>
<text x="0" y="0" transform="translate(379.80,67.00) rotate(-90) scale(0.9,1)" font-size="9.0" text-anchor="middle"><tspan>S</tspan><tspan font-size="5.6" dy="1.8">REGR</tspan><tspan dy="-1.8"> (hrs</tspan><tspan font-size="5.6" dy="-3.6">-1</tspan><tspan dy="3.6">)</tspan></text>
<text x="0" y="0" transform="translate(384.20,126.40) rotate(-90) scale(0.9,1)" font-size="9.1" text-anchor="middle"><tspan>T</tspan><tspan font-size="5.6" dy="1.6">ADAPT</tspan><tspan dy="-1.6"> (hrs)</tspan></text>
<text x="0" y="0" transform="translate(384.30,183.40) rotate(-90) scale(0.9,1)" font-size="9.3" text-anchor="middle"><tspan>FIN OD</tspan><tspan font-size="5.6" dy="1.6">600</tspan></text>
<text x="0" y="0" transform="translate(384.40,263.00) rotate(-90) scale(0.9,1)" font-size="9.3" text-anchor="middle"><tspan>S</tspan><tspan font-size="5.6" dy="1.8">STAT</tspan><tspan dy="-1.8"> (hrs</tspan><tspan font-size="5.6" dy="-3.6">-1</tspan><tspan dy="3.6">)</tspan></text>
<text x="0" y="0" transform="translate(384.40,327.20) rotate(-90) scale(0.9,1)" font-size="9.5" text-anchor="middle"><tspan>S</tspan><tspan font-size="5.6" dy="1.8">ADAPT</tspan><tspan dy="-1.8"> (hrs</tspan><tspan font-size="5.6" dy="-3.6">-1</tspan><tspan dy="3.6">)</tspan></text>
<text x="0" y="0" transform="translate(384.20,386.60) rotate(-90) scale(0.9,1)" font-size="9.1" text-anchor="middle"><tspan>T</tspan><tspan font-size="5.6" dy="1.6">ADAPT</tspan><tspan dy="-1.6"> (hrs)</tspan></text>
<text x="0" y="0" transform="translate(384.30,444.60) rotate(-90) scale(0.9,1)" font-size="9.3" text-anchor="middle"><tspan>FIN OD</tspan><tspan font-size="5.6" dy="1.6">600</tspan></text>
<text x="323.70" y="228.30" font-size="8.2" text-anchor="middle" textLength="47.4" lengthAdjust="spacingAndGlyphs"><tspan font-style="italic">µ</tspan><tspan>g/mL CASP</tspan></text>
<text x="329.40" y="487.50" font-size="8.0" text-anchor="middle" textLength="36.2" lengthAdjust="spacingAndGlyphs"><tspan font-style="italic">µ</tspan><tspan>g/ml FLC</tspan></text>
<text x="441.20" y="487.50" font-size="8.0" text-anchor="middle" textLength="35.0" lengthAdjust="spacingAndGlyphs"><tspan font-style="italic">µ</tspan><tspan>g/ml FLC</tspan></text>
<text x="441.20" y="228.30" font-size="8.2" text-anchor="middle" textLength="47.4" lengthAdjust="spacingAndGlyphs"><tspan font-style="italic">µ</tspan><tspan>g/mL CASP</tspan></text>
<text x="0.60" y="13.60" font-size="18" font-weight="bold" fill="#000">a</text>
<text x="99.20" y="13.90" font-size="18" font-weight="bold" fill="#000">b</text>
<text x="248.30" y="38.40" font-size="18" font-weight="bold" fill="#000">c</text>
<text x="248.30" y="102.60" font-size="18" font-weight="bold" fill="#000">d</text>
<text x="248.30" y="159.10" font-size="18" font-weight="bold" fill="#000">e</text>
<text x="2.60" y="257.60" font-size="18" font-weight="bold" fill="#000">f</text>
<text x="89.60" y="258.40" font-size="18" font-weight="bold" fill="#000">g</text>
<text x="251.20" y="238.10" font-size="18" font-weight="bold" fill="#000">h</text>
<text x="488.60" y="237.70" font-size="18" font-weight="bold" fill="#000">i</text>
<text x="252.60" y="297.40" font-size="18" font-weight="bold" fill="#000">j</text>
<circle cx="33.65" cy="56.1" r="16.7" fill="#a6c4d2"/>
<circle cx="67.7" cy="56.1" r="16.2" fill="#cdc765"/>
<circle cx="39.49" cy="53.97" r="0.8" fill="#7d939e" stroke="#111" stroke-width="0.5"/>
<circle cx="39.54" cy="52.24" r="0.8" fill="#7d939e" stroke="#111" stroke-width="0.5"/>
<circle cx="38.28" cy="52.45" r="0.8" fill="#7d939e" stroke="#111" stroke-width="0.5"/>
<circle cx="41.95" cy="53.79" r="0.8" fill="#7d939e" stroke="#111" stroke-width="0.5"/>
<circle cx="41.82" cy="53.42" r="0.8" fill="#7d939e" stroke="#111" stroke-width="0.5"/>
<circle cx="40.66" cy="53.29" r="0.8" fill="#7d939e" stroke="#111" stroke-width="0.5"/>
<circle cx="36.95" cy="54.70" r="0.8" fill="#7d939e" stroke="#111" stroke-width="0.5"/>
<circle cx="40.86" cy="53.95" r="0.8" fill="#7d939e" stroke="#111" stroke-width="0.5"/>
<circle cx="36.91" cy="49.24" r="0.8" fill="#7d939e" stroke="#111" stroke-width="0.5"/>
<circle cx="38.35" cy="51.92" r="0.8" fill="#7d939e" stroke="#111" stroke-width="0.5"/>
<circle cx="40.50" cy="52.80" r="0.8" fill="#7d939e" stroke="#111" stroke-width="0.5"/>
<circle cx="40.89" cy="51.55" r="0.8" fill="#7d939e" stroke="#111" stroke-width="0.5"/>
<circle cx="40.51" cy="53.73" r="0.8" fill="#7d939e" stroke="#111" stroke-width="0.5"/>
<circle cx="38.76" cy="56.51" r="0.8" fill="#7d939e" stroke="#111" stroke-width="0.5"/>
<circle cx="40.95" cy="55.41" r="0.8" fill="#7d939e" stroke="#111" stroke-width="0.5"/>
<circle cx="38.83" cy="51.35" r="0.8" fill="#7d939e" stroke="#111" stroke-width="0.5"/>
<circle cx="39.33" cy="52.68" r="0.8" fill="#7d939e" stroke="#111" stroke-width="0.5"/>
<circle cx="41.09" cy="53.42" r="0.8" fill="#7d939e" stroke="#111" stroke-width="0.5"/>
<circle cx="39.14" cy="50.89" r="0.8" fill="#7d939e" stroke="#111" stroke-width="0.5"/>
<circle cx="39.01" cy="55.46" r="0.8" fill="#7d939e" stroke="#111" stroke-width="0.5"/>
<circle cx="38.50" cy="53.41" r="0.8" fill="#7d939e" stroke="#111" stroke-width="0.5"/>
<circle cx="40.72" cy="49.77" r="0.8" fill="#7d939e" stroke="#111" stroke-width="0.5"/>
<circle cx="40.04" cy="55.64" r="0.8" fill="#7d939e" stroke="#111" stroke-width="0.5"/>
<circle cx="36.32" cy="52.22" r="0.8" fill="#7d939e" stroke="#111" stroke-width="0.5"/>
<circle cx="39.76" cy="51.18" r="0.8" fill="#7d939e" stroke="#111" stroke-width="0.5"/>
<circle cx="40.85" cy="52.77" r="0.8" fill="#7d939e" stroke="#111" stroke-width="0.5"/>
<circle cx="37.31" cy="54.64" r="0.8" fill="#7d939e" stroke="#111" stroke-width="0.5"/>
<circle cx="41.15" cy="54.89" r="0.8" fill="#7d939e" stroke="#111" stroke-width="0.5"/>
<circle cx="42.54" cy="53.66" r="0.8" fill="#7d939e" stroke="#111" stroke-width="0.5"/>
<circle cx="40.16" cy="50.17" r="0.8" fill="#7d939e" stroke="#111" stroke-width="0.5"/>
<circle cx="30.33" cy="59.53" r="0.8" fill="#7d939e" stroke="#111" stroke-width="0.5"/>
<circle cx="27.76" cy="58.60" r="0.8" fill="#7d939e" stroke="#111" stroke-width="0.5"/>
<circle cx="26.53" cy="59.64" r="0.8" fill="#7d939e" stroke="#111" stroke-width="0.5"/>
<circle cx="31.94" cy="57.50" r="0.8" fill="#7d939e" stroke="#111" stroke-width="0.5"/>
<circle cx="25.35" cy="60.74" r="0.8" fill="#7d939e" stroke="#111" stroke-width="0.5"/>
<circle cx="32.31" cy="61.22" r="0.8" fill="#7d939e" stroke="#111" stroke-width="0.5"/>
<circle cx="24.29" cy="56.81" r="0.8" fill="#7d939e" stroke="#111" stroke-width="0.5"/>
<circle cx="29.71" cy="59.35" r="0.8" fill="#7d939e" stroke="#111" stroke-width="0.5"/>
<circle cx="26.16" cy="61.79" r="0.8" fill="#7d939e" stroke="#111" stroke-width="0.5"/>
<circle cx="31.49" cy="60.62" r="0.8" fill="#7d939e" stroke="#111" stroke-width="0.5"/>
<circle cx="29.44" cy="61.02" r="0.8" fill="#7d939e" stroke="#111" stroke-width="0.5"/>
<circle cx="32.68" cy="61.28" r="0.8" fill="#7d939e" stroke="#111" stroke-width="0.5"/>
<circle cx="30.09" cy="61.18" r="0.8" fill="#7d939e" stroke="#111" stroke-width="0.5"/>
<circle cx="25.09" cy="62.23" r="0.8" fill="#7d939e" stroke="#111" stroke-width="0.5"/>
<circle cx="31.14" cy="61.15" r="0.8" fill="#7d939e" stroke="#111" stroke-width="0.5"/>
<circle cx="24.11" cy="59.50" r="0.8" fill="#7d939e" stroke="#111" stroke-width="0.5"/>
<circle cx="30.87" cy="57.82" r="0.8" fill="#7d939e" stroke="#111" stroke-width="0.5"/>
<circle cx="28.41" cy="61.85" r="0.8" fill="#7d939e" stroke="#111" stroke-width="0.5"/>
<circle cx="25.70" cy="62.69" r="0.8" fill="#7d939e" stroke="#111" stroke-width="0.5"/>
<circle cx="30.17" cy="60.19" r="0.8" fill="#7d939e" stroke="#111" stroke-width="0.5"/>
<circle cx="29.63" cy="61.33" r="0.8" fill="#7d939e" stroke="#111" stroke-width="0.5"/>
<circle cx="29.14" cy="62.03" r="0.8" fill="#7d939e" stroke="#111" stroke-width="0.5"/>
<circle cx="27.26" cy="59.81" r="0.8" fill="#7d939e" stroke="#111" stroke-width="0.5"/>
<circle cx="31.35" cy="60.44" r="0.8" fill="#7d939e" stroke="#111" stroke-width="0.5"/>
<circle cx="26.74" cy="61.75" r="0.8" fill="#7d939e" stroke="#111" stroke-width="0.5"/>
<circle cx="32.37" cy="59.77" r="0.8" fill="#7d939e" stroke="#111" stroke-width="0.5"/>
<circle cx="25.54" cy="60.21" r="0.8" fill="#7d939e" stroke="#111" stroke-width="0.5"/>
<circle cx="28.49" cy="59.98" r="0.8" fill="#7d939e" stroke="#111" stroke-width="0.5"/>
<circle cx="32.22" cy="58.94" r="0.8" fill="#7d939e" stroke="#111" stroke-width="0.5"/>
<circle cx="31.88" cy="58.59" r="0.8" fill="#7d939e" stroke="#111" stroke-width="0.5"/>
<circle cx="26.05" cy="42.50" r="0.75" fill="none" stroke="#333" stroke-width="0.5"/>
<circle cx="29.05" cy="43.90" r="0.75" fill="none" stroke="#333" stroke-width="0.5"/>
<circle cx="30.35" cy="45.10" r="0.75" fill="none" stroke="#333" stroke-width="0.5"/>
<circle cx="43.25" cy="66.30" r="0.75" fill="none" stroke="#333" stroke-width="0.5"/>
<circle cx="17.65" cy="58.10" r="0.75" fill="none" stroke="#333" stroke-width="0.5"/>
<circle cx="35.65" cy="42.10" r="0.75" fill="none" stroke="#333" stroke-width="0.5"/>
<circle cx="21.65" cy="49.10" r="0.75" fill="none" stroke="#333" stroke-width="0.5"/>
<circle cx="70.40" cy="47.00" r="1.0" fill="#e6de72" stroke="#2a2608" stroke-width="0.6"/>
<circle cx="74.70" cy="54.50" r="1.0" fill="#e6de72" stroke="#2a2608" stroke-width="0.6"/>
<circle cx="64.60" cy="56.10" r="1.0" fill="#e6de72" stroke="#2a2608" stroke-width="0.6"/>
<circle cx="62.50" cy="56.10" r="1.0" fill="#e6de72" stroke="#2a2608" stroke-width="0.6"/>
<circle cx="58.20" cy="60.90" r="1.0" fill="#e6de72" stroke="#2a2608" stroke-width="0.6"/>
<circle cx="80.00" cy="60.90" r="1.0" fill="#e6de72" stroke="#2a2608" stroke-width="0.6"/>
<circle cx="74.70" cy="68.90" r="1.0" fill="#e6de72" stroke="#2a2608" stroke-width="0.6"/>
<circle cx="79.00" cy="45.50" r="1.0" fill="#e6de72" stroke="#2a2608" stroke-width="0.6"/>
<circle cx="53.90" cy="51.90" r="1.0" fill="#e6de72" stroke="#2a2608" stroke-width="0.6"/>
<circle cx="67.70" cy="70.60" r="1.0" fill="#e6de72" stroke="#2a2608" stroke-width="0.6"/>
<path d="M54.40,21.20 L58.90,21.20 L55.30,28.30 L59.80,28.90 L48.60,41.30 L53.50,30.20 L49.50,29.90 Z" fill="#111"/>
<text x="17.60" y="17.40" font-size="10.4" fill="#222" textLength="27.2" lengthAdjust="spacingAndGlyphs">CASP</text>
<line x1="50.60" y1="68.80" x2="50.60" y2="97.00" stroke="#111" stroke-width="1.0"/>
<line x1="46.20" y1="97.00" x2="55.00" y2="97.00" stroke="#111" stroke-width="1.0"/>
<text x="51.70" y="107.10" font-size="9.3" text-anchor="middle" fill="#222" textLength="62.7" lengthAdjust="spacingAndGlyphs">cell wall glucan</text>
<text x="51.70" y="118.40" font-size="9.3" text-anchor="middle" fill="#222" textLength="38.6" lengthAdjust="spacingAndGlyphs">synthesis</text>
<circle cx="38.0" cy="321.3" r="16.8" fill="#a6c4d2"/>
<circle cx="72.0" cy="321.3" r="16.2" fill="#cdc765"/>
<circle cx="43.84" cy="319.17" r="0.8" fill="#7d939e" stroke="#111" stroke-width="0.5"/>
<circle cx="43.89" cy="317.44" r="0.8" fill="#7d939e" stroke="#111" stroke-width="0.5"/>
<circle cx="42.63" cy="317.65" r="0.8" fill="#7d939e" stroke="#111" stroke-width="0.5"/>
<circle cx="46.30" cy="318.99" r="0.8" fill="#7d939e" stroke="#111" stroke-width="0.5"/>
<circle cx="46.17" cy="318.62" r="0.8" fill="#7d939e" stroke="#111" stroke-width="0.5"/>
<circle cx="45.01" cy="318.49" r="0.8" fill="#7d939e" stroke="#111" stroke-width="0.5"/>
<circle cx="41.30" cy="319.90" r="0.8" fill="#7d939e" stroke="#111" stroke-width="0.5"/>
<circle cx="45.21" cy="319.15" r="0.8" fill="#7d939e" stroke="#111" stroke-width="0.5"/>
<circle cx="41.26" cy="314.44" r="0.8" fill="#7d939e" stroke="#111" stroke-width="0.5"/>
<circle cx="42.70" cy="317.12" r="0.8" fill="#7d939e" stroke="#111" stroke-width="0.5"/>
<circle cx="44.85" cy="318.00" r="0.8" fill="#7d939e" stroke="#111" stroke-width="0.5"/>
<circle cx="45.24" cy="316.75" r="0.8" fill="#7d939e" stroke="#111" stroke-width="0.5"/>
<circle cx="44.86" cy="318.93" r="0.8" fill="#7d939e" stroke="#111" stroke-width="0.5"/>
<circle cx="43.11" cy="321.71" r="0.8" fill="#7d939e" stroke="#111" stroke-width="0.5"/>
<circle cx="45.30" cy="320.61" r="0.8" fill="#7d939e" stroke="#111" stroke-width="0.5"/>
<circle cx="43.18" cy="316.55" r="0.8" fill="#7d939e" stroke="#111" stroke-width="0.5"/>
<circle cx="43.68" cy="317.88" r="0.8" fill="#7d939e" stroke="#111" stroke-width="0.5"/>
<circle cx="45.44" cy="318.62" r="0.8" fill="#7d939e" stroke="#111" stroke-width="0.5"/>
<circle cx="43.49" cy="316.09" r="0.8" fill="#7d939e" stroke="#111" stroke-width="0.5"/>
<circle cx="43.36" cy="320.66" r="0.8" fill="#7d939e" stroke="#111" stroke-width="0.5"/>
<circle cx="42.85" cy="318.61" r="0.8" fill="#7d939e" stroke="#111" stroke-width="0.5"/>
<circle cx="45.07" cy="314.97" r="0.8" fill="#7d939e" stroke="#111" stroke-width="0.5"/>
<circle cx="44.39" cy="320.84" r="0.8" fill="#7d939e" stroke="#111" stroke-width="0.5"/>
<circle cx="40.67" cy="317.42" r="0.8" fill="#7d939e" stroke="#111" stroke-width="0.5"/>
<circle cx="44.11" cy="316.38" r="0.8" fill="#7d939e" stroke="#111" stroke-width="0.5"/>
<circle cx="45.20" cy="317.97" r="0.8" fill="#7d939e" stroke="#111" stroke-width="0.5"/>
<circle cx="41.66" cy="319.84" r="0.8" fill="#7d939e" stroke="#111" stroke-width="0.5"/>
<circle cx="45.50" cy="320.09" r="0.8" fill="#7d939e" stroke="#111" stroke-width="0.5"/>
<circle cx="46.89" cy="318.86" r="0.8" fill="#7d939e" stroke="#111" stroke-width="0.5"/>
<circle cx="44.51" cy="315.37" r="0.8" fill="#7d939e" stroke="#111" stroke-width="0.5"/>
<circle cx="34.68" cy="324.73" r="0.8" fill="#7d939e" stroke="#111" stroke-width="0.5"/>
<circle cx="32.11" cy="323.80" r="0.8" fill="#7d939e" stroke="#111" stroke-width="0.5"/>
<circle cx="30.88" cy="324.84" r="0.8" fill="#7d939e" stroke="#111" stroke-width="0.5"/>
<circle cx="36.29" cy="322.70" r="0.8" fill="#7d939e" stroke="#111" stroke-width="0.5"/>
<circle cx="29.70" cy="325.94" r="0.8" fill="#7d939e" stroke="#111" stroke-width="0.5"/>
<circle cx="36.66" cy="326.42" r="0.8" fill="#7d939e" stroke="#111" stroke-width="0.5"/>
<circle cx="28.64" cy="322.01" r="0.8" fill="#7d939e" stroke="#111" stroke-width="0.5"/>
<circle cx="34.06" cy="324.55" r="0.8" fill="#7d939e" stroke="#111" stroke-width="0.5"/>
<circle cx="30.51" cy="326.99" r="0.8" fill="#7d939e" stroke="#111" stroke-width="0.5"/>
<circle cx="35.84" cy="325.82" r="0.8" fill="#7d939e" stroke="#111" stroke-width="0.5"/>
<circle cx="33.79" cy="326.22" r="0.8" fill="#7d939e" stroke="#111" stroke-width="0.5"/>
<circle cx="37.03" cy="326.48" r="0.8" fill="#7d939e" stroke="#111" stroke-width="0.5"/>
<circle cx="34.44" cy="326.38" r="0.8" fill="#7d939e" stroke="#111" stroke-width="0.5"/>
<circle cx="29.44" cy="327.43" r="0.8" fill="#7d939e" stroke="#111" stroke-width="0.5"/>
<circle cx="35.49" cy="326.35" r="0.8" fill="#7d939e" stroke="#111" stroke-width="0.5"/>
<circle cx="28.46" cy="324.70" r="0.8" fill="#7d939e" stroke="#111" stroke-width="0.5"/>
<circle cx="35.22" cy="323.02" r="0.8" fill="#7d939e" stroke="#111" stroke-width="0.5"/>
<circle cx="32.76" cy="327.05" r="0.8" fill="#7d939e" stroke="#111" stroke-width="0.5"/>
<circle cx="30.05" cy="327.89" r="0.8" fill="#7d939e" stroke="#111" stroke-width="0.5"/>
<circle cx="34.52" cy="325.39" r="0.8" fill="#7d939e" stroke="#111" stroke-width="0.5"/>
<circle cx="33.98" cy="326.53" r="0.8" fill="#7d939e" stroke="#111" stroke-width="0.5"/>
<circle cx="33.49" cy="327.23" r="0.8" fill="#7d939e" stroke="#111" stroke-width="0.5"/>
<circle cx="31.61" cy="325.01" r="0.8" fill="#7d939e" stroke="#111" stroke-width="0.5"/>
<circle cx="35.70" cy="325.64" r="0.8" fill="#7d939e" stroke="#111" stroke-width="0.5"/>
<circle cx="31.09" cy="326.95" r="0.8" fill="#7d939e" stroke="#111" stroke-width="0.5"/>
<circle cx="36.72" cy="324.97" r="0.8" fill="#7d939e" stroke="#111" stroke-width="0.5"/>
<circle cx="29.89" cy="325.41" r="0.8" fill="#7d939e" stroke="#111" stroke-width="0.5"/>
<circle cx="32.84" cy="325.18" r="0.8" fill="#7d939e" stroke="#111" stroke-width="0.5"/>
<circle cx="36.57" cy="324.14" r="0.8" fill="#7d939e" stroke="#111" stroke-width="0.5"/>
<circle cx="36.23" cy="323.79" r="0.8" fill="#7d939e" stroke="#111" stroke-width="0.5"/>
<circle cx="30.40" cy="307.70" r="0.75" fill="none" stroke="#333" stroke-width="0.5"/>
<circle cx="33.40" cy="309.10" r="0.75" fill="none" stroke="#333" stroke-width="0.5"/>
<circle cx="34.70" cy="310.30" r="0.75" fill="none" stroke="#333" stroke-width="0.5"/>
<circle cx="47.60" cy="331.50" r="0.75" fill="none" stroke="#333" stroke-width="0.5"/>
<circle cx="22.00" cy="323.30" r="0.75" fill="none" stroke="#333" stroke-width="0.5"/>
<circle cx="40.00" cy="307.30" r="0.75" fill="none" stroke="#333" stroke-width="0.5"/>
<circle cx="26.00" cy="314.30" r="0.75" fill="none" stroke="#333" stroke-width="0.5"/>
<circle cx="74.70" cy="312.20" r="1.0" fill="#e6de72" stroke="#2a2608" stroke-width="0.6"/>
<circle cx="79.00" cy="319.70" r="1.0" fill="#e6de72" stroke="#2a2608" stroke-width="0.6"/>
<circle cx="68.90" cy="321.30" r="1.0" fill="#e6de72" stroke="#2a2608" stroke-width="0.6"/>
<circle cx="66.80" cy="321.30" r="1.0" fill="#e6de72" stroke="#2a2608" stroke-width="0.6"/>
<circle cx="62.50" cy="326.10" r="1.0" fill="#e6de72" stroke="#2a2608" stroke-width="0.6"/>
<circle cx="84.30" cy="326.10" r="1.0" fill="#e6de72" stroke="#2a2608" stroke-width="0.6"/>
<circle cx="79.00" cy="334.10" r="1.0" fill="#e6de72" stroke="#2a2608" stroke-width="0.6"/>
<circle cx="83.30" cy="310.70" r="1.0" fill="#e6de72" stroke="#2a2608" stroke-width="0.6"/>
<circle cx="58.20" cy="317.10" r="1.0" fill="#e6de72" stroke="#2a2608" stroke-width="0.6"/>
<circle cx="72.00" cy="335.80" r="1.0" fill="#e6de72" stroke="#2a2608" stroke-width="0.6"/>
<path d="M54.60,282.40 L59.10,282.40 L55.50,289.50 L60.00,290.10 L48.80,302.50 L53.70,291.40 L49.70,291.10 Z" fill="#111"/>
<text x="36.40" y="267.20" font-size="10.4" fill="#222" textLength="17.9" lengthAdjust="spacingAndGlyphs">FLC</text>
<line x1="45.10" y1="340.40" x2="45.10" y2="363.00" stroke="#111" stroke-width="1.3"/>
<path d="M40.50,362.0 L49.70,362.0 L45.10,368.4 Z" fill="#111"/>
<line x1="54.30" y1="340.40" x2="54.30" y2="363.00" stroke="#111" stroke-width="1.3"/>
<path d="M49.70,362.0 L58.90,362.0 L54.30,368.4 Z" fill="#111"/>
<line x1="63.60" y1="340.40" x2="63.60" y2="363.00" stroke="#111" stroke-width="1.3"/>
<path d="M59.00,362.0 L68.20,362.0 L63.60,368.4 Z" fill="#111"/>
<text x="54.90" y="379.30" font-size="9.3" text-anchor="middle" fill="#222" textLength="42.0" lengthAdjust="spacingAndGlyphs">ergosterol</text>
<text x="54.70" y="390.40" font-size="9.3" text-anchor="middle" fill="#222" textLength="47.1" lengthAdjust="spacingAndGlyphs">metabolism</text>
<line x1="0.90" y1="174.90" x2="11.90" y2="174.90" stroke="#c4f6f6" stroke-width="1.3"/>
<text x="12.50" y="177.80" font-size="8.2" fill="#222">0</text>
<line x1="28.90" y1="174.90" x2="39.70" y2="174.90" stroke="#fff890" stroke-width="1.3"/>
<text x="40.50" y="177.80" font-size="8.2" fill="#222">0</text>
<line x1="0.90" y1="184.28" x2="11.90" y2="184.28" stroke="#74c8d0" stroke-width="1.3"/>
<text x="12.50" y="187.18" font-size="8.2" fill="#222">0.2</text>
<line x1="28.90" y1="184.28" x2="39.70" y2="184.28" stroke="#fff030" stroke-width="1.3"/>
<text x="40.50" y="187.18" font-size="8.2" fill="#222">0.2</text>
<line x1="0.90" y1="193.66" x2="11.90" y2="193.66" stroke="#6cc8a0" stroke-width="1.3"/>
<text x="12.50" y="196.56" font-size="8.2" fill="#222">0.4</text>
<line x1="28.90" y1="193.66" x2="39.70" y2="193.66" stroke="#ffc634" stroke-width="1.3"/>
<text x="40.50" y="196.56" font-size="8.2" fill="#222">0.4</text>
<line x1="0.90" y1="203.04" x2="11.90" y2="203.04" stroke="#3c7c5e" stroke-width="1.3"/>
<text x="12.50" y="205.94" font-size="8.2" fill="#222">0.6</text>
<line x1="28.90" y1="203.04" x2="39.70" y2="203.04" stroke="#ff6a30" stroke-width="1.3"/>
<text x="40.50" y="205.94" font-size="8.2" fill="#222">0.6</text>
<line x1="0.90" y1="212.42" x2="11.90" y2="212.42" stroke="#34485c" stroke-width="1.3"/>
<text x="12.50" y="215.32" font-size="8.2" fill="#222">0.8</text>
<line x1="28.90" y1="212.42" x2="39.70" y2="212.42" stroke="#c04008" stroke-width="1.3"/>
<text x="40.50" y="215.32" font-size="8.2" fill="#222">0.8</text>
<line x1="0.90" y1="221.80" x2="11.90" y2="221.80" stroke="#1e0a40" stroke-width="1.3"/>
<text x="12.50" y="224.70" font-size="8.2" fill="#222">1</text>
<line x1="28.90" y1="221.80" x2="39.70" y2="221.80" stroke="#940000" stroke-width="1.3"/>
<text x="40.50" y="224.70" font-size="8.2" fill="#222"><tspan>1 </tspan><tspan font-style="italic">µ</tspan><tspan>g/ml CASP</tspan></text>
<line x1="1.30" y1="427.00" x2="12.50" y2="427.00" stroke="#c4f6f6" stroke-width="1.3"/>
<text x="13.10" y="429.90" font-size="8.2" fill="#222">0</text>
<line x1="30.80" y1="427.60" x2="41.40" y2="427.60" stroke="#fff890" stroke-width="1.3"/>
<text x="42.20" y="430.50" font-size="8.2" fill="#222">0</text>
<line x1="1.30" y1="436.48" x2="12.50" y2="436.48" stroke="#74c8d0" stroke-width="1.3"/>
<text x="13.10" y="439.38" font-size="8.2" fill="#222">50</text>
<line x1="30.80" y1="437.08" x2="41.40" y2="437.08" stroke="#fff030" stroke-width="1.3"/>
<text x="42.20" y="439.98" font-size="8.2" fill="#222">50</text>
<line x1="1.30" y1="445.96" x2="12.50" y2="445.96" stroke="#6cc8a0" stroke-width="1.3"/>
<text x="13.10" y="448.86" font-size="8.2" fill="#222">75</text>
<line x1="30.80" y1="446.56" x2="41.40" y2="446.56" stroke="#ffc634" stroke-width="1.3"/>
<text x="42.20" y="449.46" font-size="8.2" fill="#222">75</text>
<line x1="1.30" y1="455.44" x2="12.50" y2="455.44" stroke="#3c7c5e" stroke-width="1.3"/>
<text x="13.10" y="458.34" font-size="8.2" fill="#222">100</text>
<line x1="30.80" y1="456.04" x2="41.40" y2="456.04" stroke="#ff6a30" stroke-width="1.3"/>
<text x="42.20" y="458.94" font-size="8.2" fill="#222">100</text>
<line x1="1.30" y1="464.92" x2="12.50" y2="464.92" stroke="#34485c" stroke-width="1.3"/>
<text x="13.10" y="467.82" font-size="8.2" fill="#222">125</text>
<line x1="30.80" y1="465.52" x2="41.40" y2="465.52" stroke="#c04008" stroke-width="1.3"/>
<text x="42.20" y="468.42" font-size="8.2" fill="#222">125</text>
<line x1="1.30" y1="474.40" x2="12.50" y2="474.40" stroke="#1e0a40" stroke-width="1.3"/>
<text x="13.10" y="477.30" font-size="8.2" fill="#222">150</text>
<line x1="30.80" y1="475.00" x2="41.40" y2="475.00" stroke="#940000" stroke-width="1.3"/>
<text x="42.20" y="477.90" font-size="8.2" fill="#222"><tspan>150 </tspan><tspan font-style="italic">µ</tspan><tspan>g/ml FLC</tspan></text>
</svg>
</body></html>
